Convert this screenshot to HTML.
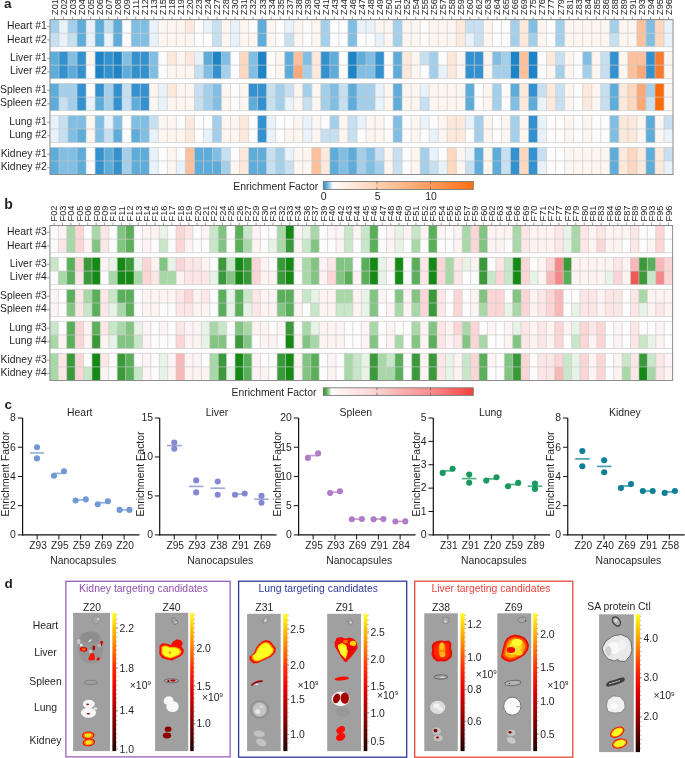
<!DOCTYPE html>
<html><head><meta charset="utf-8"><title>Figure</title>
<style>
html,body{margin:0;padding:0;background:#fff;}
svg{display:block;will-change:transform;}
text{font-family:"Liberation Sans",sans-serif;}
</style></head><body>
<svg width="685" height="758" viewBox="0 0 685 758">
<rect width="685" height="758" fill="#fff"/>
<text x="4.1" y="8.3" font-size="13.5" text-anchor="start" fill="#231f20" font-weight="bold">a</text>
<rect x="49.95" y="19.6" width="9.08" height="13.6" fill="#a4cfea"/>
<rect x="58.98" y="19.6" width="9.08" height="13.6" fill="#e8f2fa"/>
<rect x="68.01" y="19.6" width="9.08" height="13.6" fill="#a4cfea"/>
<rect x="77.04" y="19.6" width="9.08" height="13.6" fill="#5eacda"/>
<rect x="86.07" y="19.6" width="9.08" height="13.6" fill="#e8f2fa"/>
<rect x="95.1" y="19.6" width="9.08" height="13.6" fill="#5eacda"/>
<rect x="104.13" y="19.6" width="9.08" height="13.6" fill="#c6e0f1"/>
<rect x="113.16" y="19.6" width="9.08" height="13.6" fill="#5eacda"/>
<rect x="122.19" y="19.6" width="9.08" height="13.6" fill="#fcfcfc"/>
<rect x="131.22" y="19.6" width="9.08" height="13.6" fill="#80bee3"/>
<rect x="140.25" y="19.6" width="9.08" height="13.6" fill="#80bee3"/>
<rect x="149.28" y="19.6" width="9.08" height="13.6" fill="#e8f2fa"/>
<rect x="158.31" y="19.6" width="9.08" height="13.6" fill="#fdf5f0"/>
<rect x="167.34" y="19.6" width="9.08" height="13.6" fill="#fdf5f0"/>
<rect x="176.37" y="19.6" width="9.08" height="13.6" fill="#fdf5f0"/>
<rect x="185.4" y="19.6" width="9.08" height="13.6" fill="#fde9dc"/>
<rect x="194.43" y="19.6" width="9.08" height="13.6" fill="#fcfcfc"/>
<rect x="203.46" y="19.6" width="9.08" height="13.6" fill="#e8f2fa"/>
<rect x="212.49" y="19.6" width="9.08" height="13.6" fill="#c6e0f1"/>
<rect x="221.52" y="19.6" width="9.08" height="13.6" fill="#fdf5f0"/>
<rect x="230.55" y="19.6" width="9.08" height="13.6" fill="#e8f2fa"/>
<rect x="239.58" y="19.6" width="9.08" height="13.6" fill="#fdf5f0"/>
<rect x="248.61" y="19.6" width="9.08" height="13.6" fill="#fcfcfc"/>
<rect x="257.64" y="19.6" width="9.08" height="13.6" fill="#5eacda"/>
<rect x="266.67" y="19.6" width="9.08" height="13.6" fill="#fdf5f0"/>
<rect x="275.7" y="19.6" width="9.08" height="13.6" fill="#fcfcfc"/>
<rect x="284.73" y="19.6" width="9.08" height="13.6" fill="#e8f2fa"/>
<rect x="293.76" y="19.6" width="9.08" height="13.6" fill="#fdf5f0"/>
<rect x="302.79" y="19.6" width="9.08" height="13.6" fill="#fcfcfc"/>
<rect x="311.82" y="19.6" width="9.08" height="13.6" fill="#fdf5f0"/>
<rect x="320.85" y="19.6" width="9.08" height="13.6" fill="#a4cfea"/>
<rect x="329.88" y="19.6" width="9.08" height="13.6" fill="#fcfcfc"/>
<rect x="338.91" y="19.6" width="9.08" height="13.6" fill="#fcfcfc"/>
<rect x="347.94" y="19.6" width="9.08" height="13.6" fill="#80bee3"/>
<rect x="356.97" y="19.6" width="9.08" height="13.6" fill="#e8f2fa"/>
<rect x="366" y="19.6" width="9.08" height="13.6" fill="#e8f2fa"/>
<rect x="375.03" y="19.6" width="9.08" height="13.6" fill="#fdf5f0"/>
<rect x="384.06" y="19.6" width="9.08" height="13.6" fill="#fdf5f0"/>
<rect x="393.09" y="19.6" width="9.08" height="13.6" fill="#a4cfea"/>
<rect x="402.12" y="19.6" width="9.08" height="13.6" fill="#fdf5f0"/>
<rect x="411.15" y="19.6" width="9.08" height="13.6" fill="#fdf5f0"/>
<rect x="420.18" y="19.6" width="9.08" height="13.6" fill="#fcfcfc"/>
<rect x="429.21" y="19.6" width="9.08" height="13.6" fill="#fdf5f0"/>
<rect x="438.24" y="19.6" width="9.08" height="13.6" fill="#fdf5f0"/>
<rect x="447.27" y="19.6" width="9.08" height="13.6" fill="#fdf5f0"/>
<rect x="456.3" y="19.6" width="9.08" height="13.6" fill="#fde9dc"/>
<rect x="465.33" y="19.6" width="9.08" height="13.6" fill="#c6e0f1"/>
<rect x="474.36" y="19.6" width="9.08" height="13.6" fill="#c6e0f1"/>
<rect x="483.39" y="19.6" width="9.08" height="13.6" fill="#fdf5f0"/>
<rect x="492.42" y="19.6" width="9.08" height="13.6" fill="#fcfcfc"/>
<rect x="501.45" y="19.6" width="9.08" height="13.6" fill="#fcfcfc"/>
<rect x="510.48" y="19.6" width="9.08" height="13.6" fill="#a4cfea"/>
<rect x="519.51" y="19.6" width="9.08" height="13.6" fill="#fde9dc"/>
<rect x="528.54" y="19.6" width="9.08" height="13.6" fill="#80bee3"/>
<rect x="537.57" y="19.6" width="9.08" height="13.6" fill="#fdf5f0"/>
<rect x="546.6" y="19.6" width="9.08" height="13.6" fill="#fcfcfc"/>
<rect x="555.63" y="19.6" width="9.08" height="13.6" fill="#a4cfea"/>
<rect x="564.66" y="19.6" width="9.08" height="13.6" fill="#fdf5f0"/>
<rect x="573.69" y="19.6" width="9.08" height="13.6" fill="#fdf5f0"/>
<rect x="582.72" y="19.6" width="9.08" height="13.6" fill="#fdf5f0"/>
<rect x="591.75" y="19.6" width="9.08" height="13.6" fill="#fdf5f0"/>
<rect x="600.78" y="19.6" width="9.08" height="13.6" fill="#fdf5f0"/>
<rect x="609.81" y="19.6" width="9.08" height="13.6" fill="#a4cfea"/>
<rect x="618.84" y="19.6" width="9.08" height="13.6" fill="#fdf5f0"/>
<rect x="627.87" y="19.6" width="9.08" height="13.6" fill="#fdf5f0"/>
<rect x="636.9" y="19.6" width="9.08" height="13.6" fill="#fcc09c"/>
<rect x="645.93" y="19.6" width="9.08" height="13.6" fill="#80bee3"/>
<rect x="654.96" y="19.6" width="9.08" height="13.6" fill="#fdd8c0"/>
<rect x="663.99" y="19.6" width="9.08" height="13.6" fill="#e8f2fa"/>
<rect x="49.95" y="33.15" width="9.08" height="13.6" fill="#c6e0f1"/>
<rect x="58.98" y="33.15" width="9.08" height="13.6" fill="#e8f2fa"/>
<rect x="68.01" y="33.15" width="9.08" height="13.6" fill="#c6e0f1"/>
<rect x="77.04" y="33.15" width="9.08" height="13.6" fill="#5eacda"/>
<rect x="86.07" y="33.15" width="9.08" height="13.6" fill="#e8f2fa"/>
<rect x="95.1" y="33.15" width="9.08" height="13.6" fill="#5eacda"/>
<rect x="104.13" y="33.15" width="9.08" height="13.6" fill="#e8f2fa"/>
<rect x="113.16" y="33.15" width="9.08" height="13.6" fill="#5eacda"/>
<rect x="122.19" y="33.15" width="9.08" height="13.6" fill="#fcfcfc"/>
<rect x="131.22" y="33.15" width="9.08" height="13.6" fill="#80bee3"/>
<rect x="140.25" y="33.15" width="9.08" height="13.6" fill="#80bee3"/>
<rect x="149.28" y="33.15" width="9.08" height="13.6" fill="#e8f2fa"/>
<rect x="158.31" y="33.15" width="9.08" height="13.6" fill="#fdf5f0"/>
<rect x="167.34" y="33.15" width="9.08" height="13.6" fill="#fdf5f0"/>
<rect x="176.37" y="33.15" width="9.08" height="13.6" fill="#fdf5f0"/>
<rect x="185.4" y="33.15" width="9.08" height="13.6" fill="#fdf5f0"/>
<rect x="194.43" y="33.15" width="9.08" height="13.6" fill="#fcfcfc"/>
<rect x="203.46" y="33.15" width="9.08" height="13.6" fill="#fcfcfc"/>
<rect x="212.49" y="33.15" width="9.08" height="13.6" fill="#c6e0f1"/>
<rect x="221.52" y="33.15" width="9.08" height="13.6" fill="#fdf5f0"/>
<rect x="230.55" y="33.15" width="9.08" height="13.6" fill="#e8f2fa"/>
<rect x="239.58" y="33.15" width="9.08" height="13.6" fill="#fdf5f0"/>
<rect x="248.61" y="33.15" width="9.08" height="13.6" fill="#fdf5f0"/>
<rect x="257.64" y="33.15" width="9.08" height="13.6" fill="#5eacda"/>
<rect x="266.67" y="33.15" width="9.08" height="13.6" fill="#fdf5f0"/>
<rect x="275.7" y="33.15" width="9.08" height="13.6" fill="#fcfcfc"/>
<rect x="284.73" y="33.15" width="9.08" height="13.6" fill="#c6e0f1"/>
<rect x="293.76" y="33.15" width="9.08" height="13.6" fill="#fdf5f0"/>
<rect x="302.79" y="33.15" width="9.08" height="13.6" fill="#fcfcfc"/>
<rect x="311.82" y="33.15" width="9.08" height="13.6" fill="#fdf5f0"/>
<rect x="320.85" y="33.15" width="9.08" height="13.6" fill="#a4cfea"/>
<rect x="329.88" y="33.15" width="9.08" height="13.6" fill="#fcfcfc"/>
<rect x="338.91" y="33.15" width="9.08" height="13.6" fill="#fcfcfc"/>
<rect x="347.94" y="33.15" width="9.08" height="13.6" fill="#80bee3"/>
<rect x="356.97" y="33.15" width="9.08" height="13.6" fill="#fcfcfc"/>
<rect x="366" y="33.15" width="9.08" height="13.6" fill="#fcfcfc"/>
<rect x="375.03" y="33.15" width="9.08" height="13.6" fill="#e8f2fa"/>
<rect x="384.06" y="33.15" width="9.08" height="13.6" fill="#fdf5f0"/>
<rect x="393.09" y="33.15" width="9.08" height="13.6" fill="#a4cfea"/>
<rect x="402.12" y="33.15" width="9.08" height="13.6" fill="#fdf5f0"/>
<rect x="411.15" y="33.15" width="9.08" height="13.6" fill="#fdf5f0"/>
<rect x="420.18" y="33.15" width="9.08" height="13.6" fill="#fcfcfc"/>
<rect x="429.21" y="33.15" width="9.08" height="13.6" fill="#fdf5f0"/>
<rect x="438.24" y="33.15" width="9.08" height="13.6" fill="#fdf5f0"/>
<rect x="447.27" y="33.15" width="9.08" height="13.6" fill="#fdf5f0"/>
<rect x="456.3" y="33.15" width="9.08" height="13.6" fill="#fde9dc"/>
<rect x="465.33" y="33.15" width="9.08" height="13.6" fill="#e8f2fa"/>
<rect x="474.36" y="33.15" width="9.08" height="13.6" fill="#c6e0f1"/>
<rect x="483.39" y="33.15" width="9.08" height="13.6" fill="#fdf5f0"/>
<rect x="492.42" y="33.15" width="9.08" height="13.6" fill="#fcfcfc"/>
<rect x="501.45" y="33.15" width="9.08" height="13.6" fill="#fcfcfc"/>
<rect x="510.48" y="33.15" width="9.08" height="13.6" fill="#a4cfea"/>
<rect x="519.51" y="33.15" width="9.08" height="13.6" fill="#fde9dc"/>
<rect x="528.54" y="33.15" width="9.08" height="13.6" fill="#a4cfea"/>
<rect x="537.57" y="33.15" width="9.08" height="13.6" fill="#fdf5f0"/>
<rect x="546.6" y="33.15" width="9.08" height="13.6" fill="#fcfcfc"/>
<rect x="555.63" y="33.15" width="9.08" height="13.6" fill="#a4cfea"/>
<rect x="564.66" y="33.15" width="9.08" height="13.6" fill="#fdf5f0"/>
<rect x="573.69" y="33.15" width="9.08" height="13.6" fill="#fdf5f0"/>
<rect x="582.72" y="33.15" width="9.08" height="13.6" fill="#fdf5f0"/>
<rect x="591.75" y="33.15" width="9.08" height="13.6" fill="#fdf5f0"/>
<rect x="600.78" y="33.15" width="9.08" height="13.6" fill="#fdf5f0"/>
<rect x="609.81" y="33.15" width="9.08" height="13.6" fill="#c6e0f1"/>
<rect x="618.84" y="33.15" width="9.08" height="13.6" fill="#fdf5f0"/>
<rect x="627.87" y="33.15" width="9.08" height="13.6" fill="#fdf5f0"/>
<rect x="636.9" y="33.15" width="9.08" height="13.6" fill="#fcc09c"/>
<rect x="645.93" y="33.15" width="9.08" height="13.6" fill="#80bee3"/>
<rect x="654.96" y="33.15" width="9.08" height="13.6" fill="#fdd8c0"/>
<rect x="663.99" y="33.15" width="9.08" height="13.6" fill="#e8f2fa"/>
<line x1="58.98" y1="19.6" x2="58.98" y2="46.7" stroke="#c8c8c8" stroke-opacity="0.7" stroke-width="0.9"/>
<line x1="68.01" y1="19.6" x2="68.01" y2="46.7" stroke="#c8c8c8" stroke-opacity="0.7" stroke-width="0.9"/>
<line x1="77.04" y1="19.6" x2="77.04" y2="46.7" stroke="#c8c8c8" stroke-opacity="0.7" stroke-width="0.9"/>
<line x1="86.07" y1="19.6" x2="86.07" y2="46.7" stroke="#c8c8c8" stroke-opacity="0.7" stroke-width="0.9"/>
<line x1="95.1" y1="19.6" x2="95.1" y2="46.7" stroke="#c8c8c8" stroke-opacity="0.7" stroke-width="0.9"/>
<line x1="104.13" y1="19.6" x2="104.13" y2="46.7" stroke="#c8c8c8" stroke-opacity="0.7" stroke-width="0.9"/>
<line x1="113.16" y1="19.6" x2="113.16" y2="46.7" stroke="#c8c8c8" stroke-opacity="0.7" stroke-width="0.9"/>
<line x1="122.19" y1="19.6" x2="122.19" y2="46.7" stroke="#c8c8c8" stroke-opacity="0.7" stroke-width="0.9"/>
<line x1="131.22" y1="19.6" x2="131.22" y2="46.7" stroke="#c8c8c8" stroke-opacity="0.7" stroke-width="0.9"/>
<line x1="140.25" y1="19.6" x2="140.25" y2="46.7" stroke="#c8c8c8" stroke-opacity="0.7" stroke-width="0.9"/>
<line x1="149.28" y1="19.6" x2="149.28" y2="46.7" stroke="#c8c8c8" stroke-opacity="0.7" stroke-width="0.9"/>
<line x1="158.31" y1="19.6" x2="158.31" y2="46.7" stroke="#c8c8c8" stroke-opacity="0.7" stroke-width="0.9"/>
<line x1="167.34" y1="19.6" x2="167.34" y2="46.7" stroke="#c8c8c8" stroke-opacity="0.7" stroke-width="0.9"/>
<line x1="176.37" y1="19.6" x2="176.37" y2="46.7" stroke="#c8c8c8" stroke-opacity="0.7" stroke-width="0.9"/>
<line x1="185.4" y1="19.6" x2="185.4" y2="46.7" stroke="#c8c8c8" stroke-opacity="0.7" stroke-width="0.9"/>
<line x1="194.43" y1="19.6" x2="194.43" y2="46.7" stroke="#c8c8c8" stroke-opacity="0.7" stroke-width="0.9"/>
<line x1="203.46" y1="19.6" x2="203.46" y2="46.7" stroke="#c8c8c8" stroke-opacity="0.7" stroke-width="0.9"/>
<line x1="212.49" y1="19.6" x2="212.49" y2="46.7" stroke="#c8c8c8" stroke-opacity="0.7" stroke-width="0.9"/>
<line x1="221.52" y1="19.6" x2="221.52" y2="46.7" stroke="#c8c8c8" stroke-opacity="0.7" stroke-width="0.9"/>
<line x1="230.55" y1="19.6" x2="230.55" y2="46.7" stroke="#c8c8c8" stroke-opacity="0.7" stroke-width="0.9"/>
<line x1="239.58" y1="19.6" x2="239.58" y2="46.7" stroke="#c8c8c8" stroke-opacity="0.7" stroke-width="0.9"/>
<line x1="248.61" y1="19.6" x2="248.61" y2="46.7" stroke="#c8c8c8" stroke-opacity="0.7" stroke-width="0.9"/>
<line x1="257.64" y1="19.6" x2="257.64" y2="46.7" stroke="#c8c8c8" stroke-opacity="0.7" stroke-width="0.9"/>
<line x1="266.67" y1="19.6" x2="266.67" y2="46.7" stroke="#c8c8c8" stroke-opacity="0.7" stroke-width="0.9"/>
<line x1="275.7" y1="19.6" x2="275.7" y2="46.7" stroke="#c8c8c8" stroke-opacity="0.7" stroke-width="0.9"/>
<line x1="284.73" y1="19.6" x2="284.73" y2="46.7" stroke="#c8c8c8" stroke-opacity="0.7" stroke-width="0.9"/>
<line x1="293.76" y1="19.6" x2="293.76" y2="46.7" stroke="#c8c8c8" stroke-opacity="0.7" stroke-width="0.9"/>
<line x1="302.79" y1="19.6" x2="302.79" y2="46.7" stroke="#c8c8c8" stroke-opacity="0.7" stroke-width="0.9"/>
<line x1="311.82" y1="19.6" x2="311.82" y2="46.7" stroke="#c8c8c8" stroke-opacity="0.7" stroke-width="0.9"/>
<line x1="320.85" y1="19.6" x2="320.85" y2="46.7" stroke="#c8c8c8" stroke-opacity="0.7" stroke-width="0.9"/>
<line x1="329.88" y1="19.6" x2="329.88" y2="46.7" stroke="#c8c8c8" stroke-opacity="0.7" stroke-width="0.9"/>
<line x1="338.91" y1="19.6" x2="338.91" y2="46.7" stroke="#c8c8c8" stroke-opacity="0.7" stroke-width="0.9"/>
<line x1="347.94" y1="19.6" x2="347.94" y2="46.7" stroke="#c8c8c8" stroke-opacity="0.7" stroke-width="0.9"/>
<line x1="356.97" y1="19.6" x2="356.97" y2="46.7" stroke="#c8c8c8" stroke-opacity="0.7" stroke-width="0.9"/>
<line x1="366" y1="19.6" x2="366" y2="46.7" stroke="#c8c8c8" stroke-opacity="0.7" stroke-width="0.9"/>
<line x1="375.03" y1="19.6" x2="375.03" y2="46.7" stroke="#c8c8c8" stroke-opacity="0.7" stroke-width="0.9"/>
<line x1="384.06" y1="19.6" x2="384.06" y2="46.7" stroke="#c8c8c8" stroke-opacity="0.7" stroke-width="0.9"/>
<line x1="393.09" y1="19.6" x2="393.09" y2="46.7" stroke="#c8c8c8" stroke-opacity="0.7" stroke-width="0.9"/>
<line x1="402.12" y1="19.6" x2="402.12" y2="46.7" stroke="#c8c8c8" stroke-opacity="0.7" stroke-width="0.9"/>
<line x1="411.15" y1="19.6" x2="411.15" y2="46.7" stroke="#c8c8c8" stroke-opacity="0.7" stroke-width="0.9"/>
<line x1="420.18" y1="19.6" x2="420.18" y2="46.7" stroke="#c8c8c8" stroke-opacity="0.7" stroke-width="0.9"/>
<line x1="429.21" y1="19.6" x2="429.21" y2="46.7" stroke="#c8c8c8" stroke-opacity="0.7" stroke-width="0.9"/>
<line x1="438.24" y1="19.6" x2="438.24" y2="46.7" stroke="#c8c8c8" stroke-opacity="0.7" stroke-width="0.9"/>
<line x1="447.27" y1="19.6" x2="447.27" y2="46.7" stroke="#c8c8c8" stroke-opacity="0.7" stroke-width="0.9"/>
<line x1="456.3" y1="19.6" x2="456.3" y2="46.7" stroke="#c8c8c8" stroke-opacity="0.7" stroke-width="0.9"/>
<line x1="465.33" y1="19.6" x2="465.33" y2="46.7" stroke="#c8c8c8" stroke-opacity="0.7" stroke-width="0.9"/>
<line x1="474.36" y1="19.6" x2="474.36" y2="46.7" stroke="#c8c8c8" stroke-opacity="0.7" stroke-width="0.9"/>
<line x1="483.39" y1="19.6" x2="483.39" y2="46.7" stroke="#c8c8c8" stroke-opacity="0.7" stroke-width="0.9"/>
<line x1="492.42" y1="19.6" x2="492.42" y2="46.7" stroke="#c8c8c8" stroke-opacity="0.7" stroke-width="0.9"/>
<line x1="501.45" y1="19.6" x2="501.45" y2="46.7" stroke="#c8c8c8" stroke-opacity="0.7" stroke-width="0.9"/>
<line x1="510.48" y1="19.6" x2="510.48" y2="46.7" stroke="#c8c8c8" stroke-opacity="0.7" stroke-width="0.9"/>
<line x1="519.51" y1="19.6" x2="519.51" y2="46.7" stroke="#c8c8c8" stroke-opacity="0.7" stroke-width="0.9"/>
<line x1="528.54" y1="19.6" x2="528.54" y2="46.7" stroke="#c8c8c8" stroke-opacity="0.7" stroke-width="0.9"/>
<line x1="537.57" y1="19.6" x2="537.57" y2="46.7" stroke="#c8c8c8" stroke-opacity="0.7" stroke-width="0.9"/>
<line x1="546.6" y1="19.6" x2="546.6" y2="46.7" stroke="#c8c8c8" stroke-opacity="0.7" stroke-width="0.9"/>
<line x1="555.63" y1="19.6" x2="555.63" y2="46.7" stroke="#c8c8c8" stroke-opacity="0.7" stroke-width="0.9"/>
<line x1="564.66" y1="19.6" x2="564.66" y2="46.7" stroke="#c8c8c8" stroke-opacity="0.7" stroke-width="0.9"/>
<line x1="573.69" y1="19.6" x2="573.69" y2="46.7" stroke="#c8c8c8" stroke-opacity="0.7" stroke-width="0.9"/>
<line x1="582.72" y1="19.6" x2="582.72" y2="46.7" stroke="#c8c8c8" stroke-opacity="0.7" stroke-width="0.9"/>
<line x1="591.75" y1="19.6" x2="591.75" y2="46.7" stroke="#c8c8c8" stroke-opacity="0.7" stroke-width="0.9"/>
<line x1="600.78" y1="19.6" x2="600.78" y2="46.7" stroke="#c8c8c8" stroke-opacity="0.7" stroke-width="0.9"/>
<line x1="609.81" y1="19.6" x2="609.81" y2="46.7" stroke="#c8c8c8" stroke-opacity="0.7" stroke-width="0.9"/>
<line x1="618.84" y1="19.6" x2="618.84" y2="46.7" stroke="#c8c8c8" stroke-opacity="0.7" stroke-width="0.9"/>
<line x1="627.87" y1="19.6" x2="627.87" y2="46.7" stroke="#c8c8c8" stroke-opacity="0.7" stroke-width="0.9"/>
<line x1="636.9" y1="19.6" x2="636.9" y2="46.7" stroke="#c8c8c8" stroke-opacity="0.7" stroke-width="0.9"/>
<line x1="645.93" y1="19.6" x2="645.93" y2="46.7" stroke="#c8c8c8" stroke-opacity="0.7" stroke-width="0.9"/>
<line x1="654.96" y1="19.6" x2="654.96" y2="46.7" stroke="#c8c8c8" stroke-opacity="0.7" stroke-width="0.9"/>
<line x1="663.99" y1="19.6" x2="663.99" y2="46.7" stroke="#c8c8c8" stroke-opacity="0.7" stroke-width="0.9"/>
<line x1="49.95" y1="19.6" x2="673.02" y2="19.6" stroke="#c8c8c8" stroke-opacity="0.7" stroke-width="0.9"/>
<line x1="49.95" y1="33.15" x2="673.02" y2="33.15" stroke="#c8c8c8" stroke-opacity="0.7" stroke-width="0.9"/>
<line x1="49.95" y1="46.7" x2="673.02" y2="46.7" stroke="#c8c8c8" stroke-opacity="0.7" stroke-width="0.9"/>
<rect x="49.95" y="51.55" width="9.08" height="13.6" fill="#5eacda"/>
<rect x="58.98" y="51.55" width="9.08" height="13.6" fill="#3291ce"/>
<rect x="68.01" y="51.55" width="9.08" height="13.6" fill="#80bee3"/>
<rect x="77.04" y="51.55" width="9.08" height="13.6" fill="#3291ce"/>
<rect x="86.07" y="51.55" width="9.08" height="13.6" fill="#fdf5f0"/>
<rect x="95.1" y="51.55" width="9.08" height="13.6" fill="#1c84c7"/>
<rect x="104.13" y="51.55" width="9.08" height="13.6" fill="#3291ce"/>
<rect x="113.16" y="51.55" width="9.08" height="13.6" fill="#1c84c7"/>
<rect x="122.19" y="51.55" width="9.08" height="13.6" fill="#80bee3"/>
<rect x="131.22" y="51.55" width="9.08" height="13.6" fill="#3291ce"/>
<rect x="140.25" y="51.55" width="9.08" height="13.6" fill="#3291ce"/>
<rect x="149.28" y="51.55" width="9.08" height="13.6" fill="#80bee3"/>
<rect x="158.31" y="51.55" width="9.08" height="13.6" fill="#fcfcfc"/>
<rect x="167.34" y="51.55" width="9.08" height="13.6" fill="#fde9dc"/>
<rect x="176.37" y="51.55" width="9.08" height="13.6" fill="#fdf5f0"/>
<rect x="185.4" y="51.55" width="9.08" height="13.6" fill="#fde9dc"/>
<rect x="194.43" y="51.55" width="9.08" height="13.6" fill="#e8f2fa"/>
<rect x="203.46" y="51.55" width="9.08" height="13.6" fill="#5eacda"/>
<rect x="212.49" y="51.55" width="9.08" height="13.6" fill="#1c84c7"/>
<rect x="221.52" y="51.55" width="9.08" height="13.6" fill="#80bee3"/>
<rect x="230.55" y="51.55" width="9.08" height="13.6" fill="#fcfcfc"/>
<rect x="239.58" y="51.55" width="9.08" height="13.6" fill="#fdd8c0"/>
<rect x="248.61" y="51.55" width="9.08" height="13.6" fill="#80bee3"/>
<rect x="257.64" y="51.55" width="9.08" height="13.6" fill="#1c84c7"/>
<rect x="266.67" y="51.55" width="9.08" height="13.6" fill="#fcfcfc"/>
<rect x="275.7" y="51.55" width="9.08" height="13.6" fill="#fdf5f0"/>
<rect x="284.73" y="51.55" width="9.08" height="13.6" fill="#5eacda"/>
<rect x="293.76" y="51.55" width="9.08" height="13.6" fill="#fcc09c"/>
<rect x="302.79" y="51.55" width="9.08" height="13.6" fill="#80bee3"/>
<rect x="311.82" y="51.55" width="9.08" height="13.6" fill="#fde9dc"/>
<rect x="320.85" y="51.55" width="9.08" height="13.6" fill="#3291ce"/>
<rect x="329.88" y="51.55" width="9.08" height="13.6" fill="#5eacda"/>
<rect x="338.91" y="51.55" width="9.08" height="13.6" fill="#fcfcfc"/>
<rect x="347.94" y="51.55" width="9.08" height="13.6" fill="#1c84c7"/>
<rect x="356.97" y="51.55" width="9.08" height="13.6" fill="#5eacda"/>
<rect x="366" y="51.55" width="9.08" height="13.6" fill="#80bee3"/>
<rect x="375.03" y="51.55" width="9.08" height="13.6" fill="#3291ce"/>
<rect x="384.06" y="51.55" width="9.08" height="13.6" fill="#fcfcfc"/>
<rect x="393.09" y="51.55" width="9.08" height="13.6" fill="#5eacda"/>
<rect x="402.12" y="51.55" width="9.08" height="13.6" fill="#fde9dc"/>
<rect x="411.15" y="51.55" width="9.08" height="13.6" fill="#fdf5f0"/>
<rect x="420.18" y="51.55" width="9.08" height="13.6" fill="#c6e0f1"/>
<rect x="429.21" y="51.55" width="9.08" height="13.6" fill="#a4cfea"/>
<rect x="438.24" y="51.55" width="9.08" height="13.6" fill="#fcfcfc"/>
<rect x="447.27" y="51.55" width="9.08" height="13.6" fill="#fde9dc"/>
<rect x="456.3" y="51.55" width="9.08" height="13.6" fill="#fdf5f0"/>
<rect x="465.33" y="51.55" width="9.08" height="13.6" fill="#3291ce"/>
<rect x="474.36" y="51.55" width="9.08" height="13.6" fill="#3291ce"/>
<rect x="483.39" y="51.55" width="9.08" height="13.6" fill="#fdf5f0"/>
<rect x="492.42" y="51.55" width="9.08" height="13.6" fill="#80bee3"/>
<rect x="501.45" y="51.55" width="9.08" height="13.6" fill="#a4cfea"/>
<rect x="510.48" y="51.55" width="9.08" height="13.6" fill="#1c84c7"/>
<rect x="519.51" y="51.55" width="9.08" height="13.6" fill="#fcc09c"/>
<rect x="528.54" y="51.55" width="9.08" height="13.6" fill="#1c84c7"/>
<rect x="537.57" y="51.55" width="9.08" height="13.6" fill="#fcfcfc"/>
<rect x="546.6" y="51.55" width="9.08" height="13.6" fill="#fde9dc"/>
<rect x="555.63" y="51.55" width="9.08" height="13.6" fill="#c6e0f1"/>
<rect x="564.66" y="51.55" width="9.08" height="13.6" fill="#fdf5f0"/>
<rect x="573.69" y="51.55" width="9.08" height="13.6" fill="#fcfcfc"/>
<rect x="582.72" y="51.55" width="9.08" height="13.6" fill="#80bee3"/>
<rect x="591.75" y="51.55" width="9.08" height="13.6" fill="#fdf5f0"/>
<rect x="600.78" y="51.55" width="9.08" height="13.6" fill="#c6e0f1"/>
<rect x="609.81" y="51.55" width="9.08" height="13.6" fill="#3291ce"/>
<rect x="618.84" y="51.55" width="9.08" height="13.6" fill="#fdf5f0"/>
<rect x="627.87" y="51.55" width="9.08" height="13.6" fill="#fcc09c"/>
<rect x="636.9" y="51.55" width="9.08" height="13.6" fill="#fcc09c"/>
<rect x="645.93" y="51.55" width="9.08" height="13.6" fill="#3291ce"/>
<rect x="654.96" y="51.55" width="9.08" height="13.6" fill="#f77c30"/>
<rect x="663.99" y="51.55" width="9.08" height="13.6" fill="#fdf5f0"/>
<rect x="49.95" y="65.1" width="9.08" height="13.6" fill="#5eacda"/>
<rect x="58.98" y="65.1" width="9.08" height="13.6" fill="#3291ce"/>
<rect x="68.01" y="65.1" width="9.08" height="13.6" fill="#5eacda"/>
<rect x="77.04" y="65.1" width="9.08" height="13.6" fill="#3291ce"/>
<rect x="86.07" y="65.1" width="9.08" height="13.6" fill="#fcfcfc"/>
<rect x="95.1" y="65.1" width="9.08" height="13.6" fill="#1c84c7"/>
<rect x="104.13" y="65.1" width="9.08" height="13.6" fill="#3291ce"/>
<rect x="113.16" y="65.1" width="9.08" height="13.6" fill="#1c84c7"/>
<rect x="122.19" y="65.1" width="9.08" height="13.6" fill="#5eacda"/>
<rect x="131.22" y="65.1" width="9.08" height="13.6" fill="#3291ce"/>
<rect x="140.25" y="65.1" width="9.08" height="13.6" fill="#3291ce"/>
<rect x="149.28" y="65.1" width="9.08" height="13.6" fill="#80bee3"/>
<rect x="158.31" y="65.1" width="9.08" height="13.6" fill="#fcfcfc"/>
<rect x="167.34" y="65.1" width="9.08" height="13.6" fill="#fdf5f0"/>
<rect x="176.37" y="65.1" width="9.08" height="13.6" fill="#fdf5f0"/>
<rect x="185.4" y="65.1" width="9.08" height="13.6" fill="#fdf5f0"/>
<rect x="194.43" y="65.1" width="9.08" height="13.6" fill="#c6e0f1"/>
<rect x="203.46" y="65.1" width="9.08" height="13.6" fill="#80bee3"/>
<rect x="212.49" y="65.1" width="9.08" height="13.6" fill="#3291ce"/>
<rect x="221.52" y="65.1" width="9.08" height="13.6" fill="#a4cfea"/>
<rect x="230.55" y="65.1" width="9.08" height="13.6" fill="#fcfcfc"/>
<rect x="239.58" y="65.1" width="9.08" height="13.6" fill="#fdd8c0"/>
<rect x="248.61" y="65.1" width="9.08" height="13.6" fill="#80bee3"/>
<rect x="257.64" y="65.1" width="9.08" height="13.6" fill="#1c84c7"/>
<rect x="266.67" y="65.1" width="9.08" height="13.6" fill="#fcfcfc"/>
<rect x="275.7" y="65.1" width="9.08" height="13.6" fill="#fdf5f0"/>
<rect x="284.73" y="65.1" width="9.08" height="13.6" fill="#5eacda"/>
<rect x="293.76" y="65.1" width="9.08" height="13.6" fill="#fba878"/>
<rect x="302.79" y="65.1" width="9.08" height="13.6" fill="#a4cfea"/>
<rect x="311.82" y="65.1" width="9.08" height="13.6" fill="#fde9dc"/>
<rect x="320.85" y="65.1" width="9.08" height="13.6" fill="#3291ce"/>
<rect x="329.88" y="65.1" width="9.08" height="13.6" fill="#5eacda"/>
<rect x="338.91" y="65.1" width="9.08" height="13.6" fill="#fcfcfc"/>
<rect x="347.94" y="65.1" width="9.08" height="13.6" fill="#1c84c7"/>
<rect x="356.97" y="65.1" width="9.08" height="13.6" fill="#80bee3"/>
<rect x="366" y="65.1" width="9.08" height="13.6" fill="#80bee3"/>
<rect x="375.03" y="65.1" width="9.08" height="13.6" fill="#3291ce"/>
<rect x="384.06" y="65.1" width="9.08" height="13.6" fill="#fcfcfc"/>
<rect x="393.09" y="65.1" width="9.08" height="13.6" fill="#5eacda"/>
<rect x="402.12" y="65.1" width="9.08" height="13.6" fill="#fde9dc"/>
<rect x="411.15" y="65.1" width="9.08" height="13.6" fill="#fdf5f0"/>
<rect x="420.18" y="65.1" width="9.08" height="13.6" fill="#fcfcfc"/>
<rect x="429.21" y="65.1" width="9.08" height="13.6" fill="#a4cfea"/>
<rect x="438.24" y="65.1" width="9.08" height="13.6" fill="#e8f2fa"/>
<rect x="447.27" y="65.1" width="9.08" height="13.6" fill="#fde9dc"/>
<rect x="456.3" y="65.1" width="9.08" height="13.6" fill="#fdf5f0"/>
<rect x="465.33" y="65.1" width="9.08" height="13.6" fill="#3291ce"/>
<rect x="474.36" y="65.1" width="9.08" height="13.6" fill="#3291ce"/>
<rect x="483.39" y="65.1" width="9.08" height="13.6" fill="#fdf5f0"/>
<rect x="492.42" y="65.1" width="9.08" height="13.6" fill="#a4cfea"/>
<rect x="501.45" y="65.1" width="9.08" height="13.6" fill="#a4cfea"/>
<rect x="510.48" y="65.1" width="9.08" height="13.6" fill="#1c84c7"/>
<rect x="519.51" y="65.1" width="9.08" height="13.6" fill="#fcc09c"/>
<rect x="528.54" y="65.1" width="9.08" height="13.6" fill="#1c84c7"/>
<rect x="537.57" y="65.1" width="9.08" height="13.6" fill="#fcfcfc"/>
<rect x="546.6" y="65.1" width="9.08" height="13.6" fill="#fdf5f0"/>
<rect x="555.63" y="65.1" width="9.08" height="13.6" fill="#a4cfea"/>
<rect x="564.66" y="65.1" width="9.08" height="13.6" fill="#fdf5f0"/>
<rect x="573.69" y="65.1" width="9.08" height="13.6" fill="#fcfcfc"/>
<rect x="582.72" y="65.1" width="9.08" height="13.6" fill="#a4cfea"/>
<rect x="591.75" y="65.1" width="9.08" height="13.6" fill="#fdf5f0"/>
<rect x="600.78" y="65.1" width="9.08" height="13.6" fill="#c6e0f1"/>
<rect x="609.81" y="65.1" width="9.08" height="13.6" fill="#3291ce"/>
<rect x="618.84" y="65.1" width="9.08" height="13.6" fill="#fdf5f0"/>
<rect x="627.87" y="65.1" width="9.08" height="13.6" fill="#fcc09c"/>
<rect x="636.9" y="65.1" width="9.08" height="13.6" fill="#fba878"/>
<rect x="645.93" y="65.1" width="9.08" height="13.6" fill="#3291ce"/>
<rect x="654.96" y="65.1" width="9.08" height="13.6" fill="#f77c30"/>
<rect x="663.99" y="65.1" width="9.08" height="13.6" fill="#fdf5f0"/>
<line x1="58.98" y1="51.55" x2="58.98" y2="78.65" stroke="#c8c8c8" stroke-opacity="0.7" stroke-width="0.9"/>
<line x1="68.01" y1="51.55" x2="68.01" y2="78.65" stroke="#c8c8c8" stroke-opacity="0.7" stroke-width="0.9"/>
<line x1="77.04" y1="51.55" x2="77.04" y2="78.65" stroke="#c8c8c8" stroke-opacity="0.7" stroke-width="0.9"/>
<line x1="86.07" y1="51.55" x2="86.07" y2="78.65" stroke="#c8c8c8" stroke-opacity="0.7" stroke-width="0.9"/>
<line x1="95.1" y1="51.55" x2="95.1" y2="78.65" stroke="#c8c8c8" stroke-opacity="0.7" stroke-width="0.9"/>
<line x1="104.13" y1="51.55" x2="104.13" y2="78.65" stroke="#c8c8c8" stroke-opacity="0.7" stroke-width="0.9"/>
<line x1="113.16" y1="51.55" x2="113.16" y2="78.65" stroke="#c8c8c8" stroke-opacity="0.7" stroke-width="0.9"/>
<line x1="122.19" y1="51.55" x2="122.19" y2="78.65" stroke="#c8c8c8" stroke-opacity="0.7" stroke-width="0.9"/>
<line x1="131.22" y1="51.55" x2="131.22" y2="78.65" stroke="#c8c8c8" stroke-opacity="0.7" stroke-width="0.9"/>
<line x1="140.25" y1="51.55" x2="140.25" y2="78.65" stroke="#c8c8c8" stroke-opacity="0.7" stroke-width="0.9"/>
<line x1="149.28" y1="51.55" x2="149.28" y2="78.65" stroke="#c8c8c8" stroke-opacity="0.7" stroke-width="0.9"/>
<line x1="158.31" y1="51.55" x2="158.31" y2="78.65" stroke="#c8c8c8" stroke-opacity="0.7" stroke-width="0.9"/>
<line x1="167.34" y1="51.55" x2="167.34" y2="78.65" stroke="#c8c8c8" stroke-opacity="0.7" stroke-width="0.9"/>
<line x1="176.37" y1="51.55" x2="176.37" y2="78.65" stroke="#c8c8c8" stroke-opacity="0.7" stroke-width="0.9"/>
<line x1="185.4" y1="51.55" x2="185.4" y2="78.65" stroke="#c8c8c8" stroke-opacity="0.7" stroke-width="0.9"/>
<line x1="194.43" y1="51.55" x2="194.43" y2="78.65" stroke="#c8c8c8" stroke-opacity="0.7" stroke-width="0.9"/>
<line x1="203.46" y1="51.55" x2="203.46" y2="78.65" stroke="#c8c8c8" stroke-opacity="0.7" stroke-width="0.9"/>
<line x1="212.49" y1="51.55" x2="212.49" y2="78.65" stroke="#c8c8c8" stroke-opacity="0.7" stroke-width="0.9"/>
<line x1="221.52" y1="51.55" x2="221.52" y2="78.65" stroke="#c8c8c8" stroke-opacity="0.7" stroke-width="0.9"/>
<line x1="230.55" y1="51.55" x2="230.55" y2="78.65" stroke="#c8c8c8" stroke-opacity="0.7" stroke-width="0.9"/>
<line x1="239.58" y1="51.55" x2="239.58" y2="78.65" stroke="#c8c8c8" stroke-opacity="0.7" stroke-width="0.9"/>
<line x1="248.61" y1="51.55" x2="248.61" y2="78.65" stroke="#c8c8c8" stroke-opacity="0.7" stroke-width="0.9"/>
<line x1="257.64" y1="51.55" x2="257.64" y2="78.65" stroke="#c8c8c8" stroke-opacity="0.7" stroke-width="0.9"/>
<line x1="266.67" y1="51.55" x2="266.67" y2="78.65" stroke="#c8c8c8" stroke-opacity="0.7" stroke-width="0.9"/>
<line x1="275.7" y1="51.55" x2="275.7" y2="78.65" stroke="#c8c8c8" stroke-opacity="0.7" stroke-width="0.9"/>
<line x1="284.73" y1="51.55" x2="284.73" y2="78.65" stroke="#c8c8c8" stroke-opacity="0.7" stroke-width="0.9"/>
<line x1="293.76" y1="51.55" x2="293.76" y2="78.65" stroke="#c8c8c8" stroke-opacity="0.7" stroke-width="0.9"/>
<line x1="302.79" y1="51.55" x2="302.79" y2="78.65" stroke="#c8c8c8" stroke-opacity="0.7" stroke-width="0.9"/>
<line x1="311.82" y1="51.55" x2="311.82" y2="78.65" stroke="#c8c8c8" stroke-opacity="0.7" stroke-width="0.9"/>
<line x1="320.85" y1="51.55" x2="320.85" y2="78.65" stroke="#c8c8c8" stroke-opacity="0.7" stroke-width="0.9"/>
<line x1="329.88" y1="51.55" x2="329.88" y2="78.65" stroke="#c8c8c8" stroke-opacity="0.7" stroke-width="0.9"/>
<line x1="338.91" y1="51.55" x2="338.91" y2="78.65" stroke="#c8c8c8" stroke-opacity="0.7" stroke-width="0.9"/>
<line x1="347.94" y1="51.55" x2="347.94" y2="78.65" stroke="#c8c8c8" stroke-opacity="0.7" stroke-width="0.9"/>
<line x1="356.97" y1="51.55" x2="356.97" y2="78.65" stroke="#c8c8c8" stroke-opacity="0.7" stroke-width="0.9"/>
<line x1="366" y1="51.55" x2="366" y2="78.65" stroke="#c8c8c8" stroke-opacity="0.7" stroke-width="0.9"/>
<line x1="375.03" y1="51.55" x2="375.03" y2="78.65" stroke="#c8c8c8" stroke-opacity="0.7" stroke-width="0.9"/>
<line x1="384.06" y1="51.55" x2="384.06" y2="78.65" stroke="#c8c8c8" stroke-opacity="0.7" stroke-width="0.9"/>
<line x1="393.09" y1="51.55" x2="393.09" y2="78.65" stroke="#c8c8c8" stroke-opacity="0.7" stroke-width="0.9"/>
<line x1="402.12" y1="51.55" x2="402.12" y2="78.65" stroke="#c8c8c8" stroke-opacity="0.7" stroke-width="0.9"/>
<line x1="411.15" y1="51.55" x2="411.15" y2="78.65" stroke="#c8c8c8" stroke-opacity="0.7" stroke-width="0.9"/>
<line x1="420.18" y1="51.55" x2="420.18" y2="78.65" stroke="#c8c8c8" stroke-opacity="0.7" stroke-width="0.9"/>
<line x1="429.21" y1="51.55" x2="429.21" y2="78.65" stroke="#c8c8c8" stroke-opacity="0.7" stroke-width="0.9"/>
<line x1="438.24" y1="51.55" x2="438.24" y2="78.65" stroke="#c8c8c8" stroke-opacity="0.7" stroke-width="0.9"/>
<line x1="447.27" y1="51.55" x2="447.27" y2="78.65" stroke="#c8c8c8" stroke-opacity="0.7" stroke-width="0.9"/>
<line x1="456.3" y1="51.55" x2="456.3" y2="78.65" stroke="#c8c8c8" stroke-opacity="0.7" stroke-width="0.9"/>
<line x1="465.33" y1="51.55" x2="465.33" y2="78.65" stroke="#c8c8c8" stroke-opacity="0.7" stroke-width="0.9"/>
<line x1="474.36" y1="51.55" x2="474.36" y2="78.65" stroke="#c8c8c8" stroke-opacity="0.7" stroke-width="0.9"/>
<line x1="483.39" y1="51.55" x2="483.39" y2="78.65" stroke="#c8c8c8" stroke-opacity="0.7" stroke-width="0.9"/>
<line x1="492.42" y1="51.55" x2="492.42" y2="78.65" stroke="#c8c8c8" stroke-opacity="0.7" stroke-width="0.9"/>
<line x1="501.45" y1="51.55" x2="501.45" y2="78.65" stroke="#c8c8c8" stroke-opacity="0.7" stroke-width="0.9"/>
<line x1="510.48" y1="51.55" x2="510.48" y2="78.65" stroke="#c8c8c8" stroke-opacity="0.7" stroke-width="0.9"/>
<line x1="519.51" y1="51.55" x2="519.51" y2="78.65" stroke="#c8c8c8" stroke-opacity="0.7" stroke-width="0.9"/>
<line x1="528.54" y1="51.55" x2="528.54" y2="78.65" stroke="#c8c8c8" stroke-opacity="0.7" stroke-width="0.9"/>
<line x1="537.57" y1="51.55" x2="537.57" y2="78.65" stroke="#c8c8c8" stroke-opacity="0.7" stroke-width="0.9"/>
<line x1="546.6" y1="51.55" x2="546.6" y2="78.65" stroke="#c8c8c8" stroke-opacity="0.7" stroke-width="0.9"/>
<line x1="555.63" y1="51.55" x2="555.63" y2="78.65" stroke="#c8c8c8" stroke-opacity="0.7" stroke-width="0.9"/>
<line x1="564.66" y1="51.55" x2="564.66" y2="78.65" stroke="#c8c8c8" stroke-opacity="0.7" stroke-width="0.9"/>
<line x1="573.69" y1="51.55" x2="573.69" y2="78.65" stroke="#c8c8c8" stroke-opacity="0.7" stroke-width="0.9"/>
<line x1="582.72" y1="51.55" x2="582.72" y2="78.65" stroke="#c8c8c8" stroke-opacity="0.7" stroke-width="0.9"/>
<line x1="591.75" y1="51.55" x2="591.75" y2="78.65" stroke="#c8c8c8" stroke-opacity="0.7" stroke-width="0.9"/>
<line x1="600.78" y1="51.55" x2="600.78" y2="78.65" stroke="#c8c8c8" stroke-opacity="0.7" stroke-width="0.9"/>
<line x1="609.81" y1="51.55" x2="609.81" y2="78.65" stroke="#c8c8c8" stroke-opacity="0.7" stroke-width="0.9"/>
<line x1="618.84" y1="51.55" x2="618.84" y2="78.65" stroke="#c8c8c8" stroke-opacity="0.7" stroke-width="0.9"/>
<line x1="627.87" y1="51.55" x2="627.87" y2="78.65" stroke="#c8c8c8" stroke-opacity="0.7" stroke-width="0.9"/>
<line x1="636.9" y1="51.55" x2="636.9" y2="78.65" stroke="#c8c8c8" stroke-opacity="0.7" stroke-width="0.9"/>
<line x1="645.93" y1="51.55" x2="645.93" y2="78.65" stroke="#c8c8c8" stroke-opacity="0.7" stroke-width="0.9"/>
<line x1="654.96" y1="51.55" x2="654.96" y2="78.65" stroke="#c8c8c8" stroke-opacity="0.7" stroke-width="0.9"/>
<line x1="663.99" y1="51.55" x2="663.99" y2="78.65" stroke="#c8c8c8" stroke-opacity="0.7" stroke-width="0.9"/>
<line x1="49.95" y1="51.55" x2="673.02" y2="51.55" stroke="#c8c8c8" stroke-opacity="0.7" stroke-width="0.9"/>
<line x1="49.95" y1="65.1" x2="673.02" y2="65.1" stroke="#c8c8c8" stroke-opacity="0.7" stroke-width="0.9"/>
<line x1="49.95" y1="78.65" x2="673.02" y2="78.65" stroke="#c8c8c8" stroke-opacity="0.7" stroke-width="0.9"/>
<rect x="49.95" y="83.5" width="9.08" height="13.6" fill="#5eacda"/>
<rect x="58.98" y="83.5" width="9.08" height="13.6" fill="#a4cfea"/>
<rect x="68.01" y="83.5" width="9.08" height="13.6" fill="#a4cfea"/>
<rect x="77.04" y="83.5" width="9.08" height="13.6" fill="#3291ce"/>
<rect x="86.07" y="83.5" width="9.08" height="13.6" fill="#fcfcfc"/>
<rect x="95.1" y="83.5" width="9.08" height="13.6" fill="#3291ce"/>
<rect x="104.13" y="83.5" width="9.08" height="13.6" fill="#a4cfea"/>
<rect x="113.16" y="83.5" width="9.08" height="13.6" fill="#3291ce"/>
<rect x="122.19" y="83.5" width="9.08" height="13.6" fill="#c6e0f1"/>
<rect x="131.22" y="83.5" width="9.08" height="13.6" fill="#3291ce"/>
<rect x="140.25" y="83.5" width="9.08" height="13.6" fill="#3291ce"/>
<rect x="149.28" y="83.5" width="9.08" height="13.6" fill="#fdf5f0"/>
<rect x="158.31" y="83.5" width="9.08" height="13.6" fill="#e8f2fa"/>
<rect x="167.34" y="83.5" width="9.08" height="13.6" fill="#fde9dc"/>
<rect x="176.37" y="83.5" width="9.08" height="13.6" fill="#fdf5f0"/>
<rect x="185.4" y="83.5" width="9.08" height="13.6" fill="#fdf5f0"/>
<rect x="194.43" y="83.5" width="9.08" height="13.6" fill="#c6e0f1"/>
<rect x="203.46" y="83.5" width="9.08" height="13.6" fill="#a4cfea"/>
<rect x="212.49" y="83.5" width="9.08" height="13.6" fill="#80bee3"/>
<rect x="221.52" y="83.5" width="9.08" height="13.6" fill="#fdf5f0"/>
<rect x="230.55" y="83.5" width="9.08" height="13.6" fill="#fcfcfc"/>
<rect x="239.58" y="83.5" width="9.08" height="13.6" fill="#fdf5f0"/>
<rect x="248.61" y="83.5" width="9.08" height="13.6" fill="#3291ce"/>
<rect x="257.64" y="83.5" width="9.08" height="13.6" fill="#3291ce"/>
<rect x="266.67" y="83.5" width="9.08" height="13.6" fill="#c6e0f1"/>
<rect x="275.7" y="83.5" width="9.08" height="13.6" fill="#a4cfea"/>
<rect x="284.73" y="83.5" width="9.08" height="13.6" fill="#c6e0f1"/>
<rect x="293.76" y="83.5" width="9.08" height="13.6" fill="#fdf5f0"/>
<rect x="302.79" y="83.5" width="9.08" height="13.6" fill="#a4cfea"/>
<rect x="311.82" y="83.5" width="9.08" height="13.6" fill="#fdf5f0"/>
<rect x="320.85" y="83.5" width="9.08" height="13.6" fill="#a4cfea"/>
<rect x="329.88" y="83.5" width="9.08" height="13.6" fill="#80bee3"/>
<rect x="338.91" y="83.5" width="9.08" height="13.6" fill="#c6e0f1"/>
<rect x="347.94" y="83.5" width="9.08" height="13.6" fill="#5eacda"/>
<rect x="356.97" y="83.5" width="9.08" height="13.6" fill="#a4cfea"/>
<rect x="366" y="83.5" width="9.08" height="13.6" fill="#a4cfea"/>
<rect x="375.03" y="83.5" width="9.08" height="13.6" fill="#e8f2fa"/>
<rect x="384.06" y="83.5" width="9.08" height="13.6" fill="#fdf5f0"/>
<rect x="393.09" y="83.5" width="9.08" height="13.6" fill="#5eacda"/>
<rect x="402.12" y="83.5" width="9.08" height="13.6" fill="#fdf5f0"/>
<rect x="411.15" y="83.5" width="9.08" height="13.6" fill="#fdf5f0"/>
<rect x="420.18" y="83.5" width="9.08" height="13.6" fill="#e8f2fa"/>
<rect x="429.21" y="83.5" width="9.08" height="13.6" fill="#fdf5f0"/>
<rect x="438.24" y="83.5" width="9.08" height="13.6" fill="#fdf5f0"/>
<rect x="447.27" y="83.5" width="9.08" height="13.6" fill="#fdf5f0"/>
<rect x="456.3" y="83.5" width="9.08" height="13.6" fill="#fdf5f0"/>
<rect x="465.33" y="83.5" width="9.08" height="13.6" fill="#5eacda"/>
<rect x="474.36" y="83.5" width="9.08" height="13.6" fill="#fcfcfc"/>
<rect x="483.39" y="83.5" width="9.08" height="13.6" fill="#fdf5f0"/>
<rect x="492.42" y="83.5" width="9.08" height="13.6" fill="#a4cfea"/>
<rect x="501.45" y="83.5" width="9.08" height="13.6" fill="#fcfcfc"/>
<rect x="510.48" y="83.5" width="9.08" height="13.6" fill="#5eacda"/>
<rect x="519.51" y="83.5" width="9.08" height="13.6" fill="#fde9dc"/>
<rect x="528.54" y="83.5" width="9.08" height="13.6" fill="#3291ce"/>
<rect x="537.57" y="83.5" width="9.08" height="13.6" fill="#c6e0f1"/>
<rect x="546.6" y="83.5" width="9.08" height="13.6" fill="#fde9dc"/>
<rect x="555.63" y="83.5" width="9.08" height="13.6" fill="#c6e0f1"/>
<rect x="564.66" y="83.5" width="9.08" height="13.6" fill="#fdf5f0"/>
<rect x="573.69" y="83.5" width="9.08" height="13.6" fill="#fcfcfc"/>
<rect x="582.72" y="83.5" width="9.08" height="13.6" fill="#fde9dc"/>
<rect x="591.75" y="83.5" width="9.08" height="13.6" fill="#fdf5f0"/>
<rect x="600.78" y="83.5" width="9.08" height="13.6" fill="#c6e0f1"/>
<rect x="609.81" y="83.5" width="9.08" height="13.6" fill="#5eacda"/>
<rect x="618.84" y="83.5" width="9.08" height="13.6" fill="#fde9dc"/>
<rect x="627.87" y="83.5" width="9.08" height="13.6" fill="#fdd8c0"/>
<rect x="636.9" y="83.5" width="9.08" height="13.6" fill="#fba878"/>
<rect x="645.93" y="83.5" width="9.08" height="13.6" fill="#a4cfea"/>
<rect x="654.96" y="83.5" width="9.08" height="13.6" fill="#ff6a08"/>
<rect x="663.99" y="83.5" width="9.08" height="13.6" fill="#fdf5f0"/>
<rect x="49.95" y="97.05" width="9.08" height="13.6" fill="#5eacda"/>
<rect x="58.98" y="97.05" width="9.08" height="13.6" fill="#c6e0f1"/>
<rect x="68.01" y="97.05" width="9.08" height="13.6" fill="#a4cfea"/>
<rect x="77.04" y="97.05" width="9.08" height="13.6" fill="#3291ce"/>
<rect x="86.07" y="97.05" width="9.08" height="13.6" fill="#e8f2fa"/>
<rect x="95.1" y="97.05" width="9.08" height="13.6" fill="#5eacda"/>
<rect x="104.13" y="97.05" width="9.08" height="13.6" fill="#a4cfea"/>
<rect x="113.16" y="97.05" width="9.08" height="13.6" fill="#3291ce"/>
<rect x="122.19" y="97.05" width="9.08" height="13.6" fill="#c6e0f1"/>
<rect x="131.22" y="97.05" width="9.08" height="13.6" fill="#5eacda"/>
<rect x="140.25" y="97.05" width="9.08" height="13.6" fill="#3291ce"/>
<rect x="149.28" y="97.05" width="9.08" height="13.6" fill="#fdf5f0"/>
<rect x="158.31" y="97.05" width="9.08" height="13.6" fill="#e8f2fa"/>
<rect x="167.34" y="97.05" width="9.08" height="13.6" fill="#fdf5f0"/>
<rect x="176.37" y="97.05" width="9.08" height="13.6" fill="#fdf5f0"/>
<rect x="185.4" y="97.05" width="9.08" height="13.6" fill="#fdf5f0"/>
<rect x="194.43" y="97.05" width="9.08" height="13.6" fill="#c6e0f1"/>
<rect x="203.46" y="97.05" width="9.08" height="13.6" fill="#a4cfea"/>
<rect x="212.49" y="97.05" width="9.08" height="13.6" fill="#80bee3"/>
<rect x="221.52" y="97.05" width="9.08" height="13.6" fill="#fdf5f0"/>
<rect x="230.55" y="97.05" width="9.08" height="13.6" fill="#fcfcfc"/>
<rect x="239.58" y="97.05" width="9.08" height="13.6" fill="#fdf5f0"/>
<rect x="248.61" y="97.05" width="9.08" height="13.6" fill="#5eacda"/>
<rect x="257.64" y="97.05" width="9.08" height="13.6" fill="#3291ce"/>
<rect x="266.67" y="97.05" width="9.08" height="13.6" fill="#c6e0f1"/>
<rect x="275.7" y="97.05" width="9.08" height="13.6" fill="#a4cfea"/>
<rect x="284.73" y="97.05" width="9.08" height="13.6" fill="#e8f2fa"/>
<rect x="293.76" y="97.05" width="9.08" height="13.6" fill="#fdf5f0"/>
<rect x="302.79" y="97.05" width="9.08" height="13.6" fill="#c6e0f1"/>
<rect x="311.82" y="97.05" width="9.08" height="13.6" fill="#fdf5f0"/>
<rect x="320.85" y="97.05" width="9.08" height="13.6" fill="#a4cfea"/>
<rect x="329.88" y="97.05" width="9.08" height="13.6" fill="#80bee3"/>
<rect x="338.91" y="97.05" width="9.08" height="13.6" fill="#c6e0f1"/>
<rect x="347.94" y="97.05" width="9.08" height="13.6" fill="#5eacda"/>
<rect x="356.97" y="97.05" width="9.08" height="13.6" fill="#a4cfea"/>
<rect x="366" y="97.05" width="9.08" height="13.6" fill="#a4cfea"/>
<rect x="375.03" y="97.05" width="9.08" height="13.6" fill="#e8f2fa"/>
<rect x="384.06" y="97.05" width="9.08" height="13.6" fill="#fdf5f0"/>
<rect x="393.09" y="97.05" width="9.08" height="13.6" fill="#5eacda"/>
<rect x="402.12" y="97.05" width="9.08" height="13.6" fill="#fdf5f0"/>
<rect x="411.15" y="97.05" width="9.08" height="13.6" fill="#fdf5f0"/>
<rect x="420.18" y="97.05" width="9.08" height="13.6" fill="#c6e0f1"/>
<rect x="429.21" y="97.05" width="9.08" height="13.6" fill="#fdf5f0"/>
<rect x="438.24" y="97.05" width="9.08" height="13.6" fill="#fdf5f0"/>
<rect x="447.27" y="97.05" width="9.08" height="13.6" fill="#fdf5f0"/>
<rect x="456.3" y="97.05" width="9.08" height="13.6" fill="#fdf5f0"/>
<rect x="465.33" y="97.05" width="9.08" height="13.6" fill="#5eacda"/>
<rect x="474.36" y="97.05" width="9.08" height="13.6" fill="#fcfcfc"/>
<rect x="483.39" y="97.05" width="9.08" height="13.6" fill="#fdf5f0"/>
<rect x="492.42" y="97.05" width="9.08" height="13.6" fill="#a4cfea"/>
<rect x="501.45" y="97.05" width="9.08" height="13.6" fill="#fcfcfc"/>
<rect x="510.48" y="97.05" width="9.08" height="13.6" fill="#80bee3"/>
<rect x="519.51" y="97.05" width="9.08" height="13.6" fill="#fde9dc"/>
<rect x="528.54" y="97.05" width="9.08" height="13.6" fill="#5eacda"/>
<rect x="537.57" y="97.05" width="9.08" height="13.6" fill="#e8f2fa"/>
<rect x="546.6" y="97.05" width="9.08" height="13.6" fill="#fde9dc"/>
<rect x="555.63" y="97.05" width="9.08" height="13.6" fill="#c6e0f1"/>
<rect x="564.66" y="97.05" width="9.08" height="13.6" fill="#fdf5f0"/>
<rect x="573.69" y="97.05" width="9.08" height="13.6" fill="#fcfcfc"/>
<rect x="582.72" y="97.05" width="9.08" height="13.6" fill="#fde9dc"/>
<rect x="591.75" y="97.05" width="9.08" height="13.6" fill="#fdf5f0"/>
<rect x="600.78" y="97.05" width="9.08" height="13.6" fill="#c6e0f1"/>
<rect x="609.81" y="97.05" width="9.08" height="13.6" fill="#5eacda"/>
<rect x="618.84" y="97.05" width="9.08" height="13.6" fill="#fde9dc"/>
<rect x="627.87" y="97.05" width="9.08" height="13.6" fill="#fdd8c0"/>
<rect x="636.9" y="97.05" width="9.08" height="13.6" fill="#fba878"/>
<rect x="645.93" y="97.05" width="9.08" height="13.6" fill="#c6e0f1"/>
<rect x="654.96" y="97.05" width="9.08" height="13.6" fill="#ff6a08"/>
<rect x="663.99" y="97.05" width="9.08" height="13.6" fill="#fdf5f0"/>
<line x1="58.98" y1="83.5" x2="58.98" y2="110.6" stroke="#c8c8c8" stroke-opacity="0.7" stroke-width="0.9"/>
<line x1="68.01" y1="83.5" x2="68.01" y2="110.6" stroke="#c8c8c8" stroke-opacity="0.7" stroke-width="0.9"/>
<line x1="77.04" y1="83.5" x2="77.04" y2="110.6" stroke="#c8c8c8" stroke-opacity="0.7" stroke-width="0.9"/>
<line x1="86.07" y1="83.5" x2="86.07" y2="110.6" stroke="#c8c8c8" stroke-opacity="0.7" stroke-width="0.9"/>
<line x1="95.1" y1="83.5" x2="95.1" y2="110.6" stroke="#c8c8c8" stroke-opacity="0.7" stroke-width="0.9"/>
<line x1="104.13" y1="83.5" x2="104.13" y2="110.6" stroke="#c8c8c8" stroke-opacity="0.7" stroke-width="0.9"/>
<line x1="113.16" y1="83.5" x2="113.16" y2="110.6" stroke="#c8c8c8" stroke-opacity="0.7" stroke-width="0.9"/>
<line x1="122.19" y1="83.5" x2="122.19" y2="110.6" stroke="#c8c8c8" stroke-opacity="0.7" stroke-width="0.9"/>
<line x1="131.22" y1="83.5" x2="131.22" y2="110.6" stroke="#c8c8c8" stroke-opacity="0.7" stroke-width="0.9"/>
<line x1="140.25" y1="83.5" x2="140.25" y2="110.6" stroke="#c8c8c8" stroke-opacity="0.7" stroke-width="0.9"/>
<line x1="149.28" y1="83.5" x2="149.28" y2="110.6" stroke="#c8c8c8" stroke-opacity="0.7" stroke-width="0.9"/>
<line x1="158.31" y1="83.5" x2="158.31" y2="110.6" stroke="#c8c8c8" stroke-opacity="0.7" stroke-width="0.9"/>
<line x1="167.34" y1="83.5" x2="167.34" y2="110.6" stroke="#c8c8c8" stroke-opacity="0.7" stroke-width="0.9"/>
<line x1="176.37" y1="83.5" x2="176.37" y2="110.6" stroke="#c8c8c8" stroke-opacity="0.7" stroke-width="0.9"/>
<line x1="185.4" y1="83.5" x2="185.4" y2="110.6" stroke="#c8c8c8" stroke-opacity="0.7" stroke-width="0.9"/>
<line x1="194.43" y1="83.5" x2="194.43" y2="110.6" stroke="#c8c8c8" stroke-opacity="0.7" stroke-width="0.9"/>
<line x1="203.46" y1="83.5" x2="203.46" y2="110.6" stroke="#c8c8c8" stroke-opacity="0.7" stroke-width="0.9"/>
<line x1="212.49" y1="83.5" x2="212.49" y2="110.6" stroke="#c8c8c8" stroke-opacity="0.7" stroke-width="0.9"/>
<line x1="221.52" y1="83.5" x2="221.52" y2="110.6" stroke="#c8c8c8" stroke-opacity="0.7" stroke-width="0.9"/>
<line x1="230.55" y1="83.5" x2="230.55" y2="110.6" stroke="#c8c8c8" stroke-opacity="0.7" stroke-width="0.9"/>
<line x1="239.58" y1="83.5" x2="239.58" y2="110.6" stroke="#c8c8c8" stroke-opacity="0.7" stroke-width="0.9"/>
<line x1="248.61" y1="83.5" x2="248.61" y2="110.6" stroke="#c8c8c8" stroke-opacity="0.7" stroke-width="0.9"/>
<line x1="257.64" y1="83.5" x2="257.64" y2="110.6" stroke="#c8c8c8" stroke-opacity="0.7" stroke-width="0.9"/>
<line x1="266.67" y1="83.5" x2="266.67" y2="110.6" stroke="#c8c8c8" stroke-opacity="0.7" stroke-width="0.9"/>
<line x1="275.7" y1="83.5" x2="275.7" y2="110.6" stroke="#c8c8c8" stroke-opacity="0.7" stroke-width="0.9"/>
<line x1="284.73" y1="83.5" x2="284.73" y2="110.6" stroke="#c8c8c8" stroke-opacity="0.7" stroke-width="0.9"/>
<line x1="293.76" y1="83.5" x2="293.76" y2="110.6" stroke="#c8c8c8" stroke-opacity="0.7" stroke-width="0.9"/>
<line x1="302.79" y1="83.5" x2="302.79" y2="110.6" stroke="#c8c8c8" stroke-opacity="0.7" stroke-width="0.9"/>
<line x1="311.82" y1="83.5" x2="311.82" y2="110.6" stroke="#c8c8c8" stroke-opacity="0.7" stroke-width="0.9"/>
<line x1="320.85" y1="83.5" x2="320.85" y2="110.6" stroke="#c8c8c8" stroke-opacity="0.7" stroke-width="0.9"/>
<line x1="329.88" y1="83.5" x2="329.88" y2="110.6" stroke="#c8c8c8" stroke-opacity="0.7" stroke-width="0.9"/>
<line x1="338.91" y1="83.5" x2="338.91" y2="110.6" stroke="#c8c8c8" stroke-opacity="0.7" stroke-width="0.9"/>
<line x1="347.94" y1="83.5" x2="347.94" y2="110.6" stroke="#c8c8c8" stroke-opacity="0.7" stroke-width="0.9"/>
<line x1="356.97" y1="83.5" x2="356.97" y2="110.6" stroke="#c8c8c8" stroke-opacity="0.7" stroke-width="0.9"/>
<line x1="366" y1="83.5" x2="366" y2="110.6" stroke="#c8c8c8" stroke-opacity="0.7" stroke-width="0.9"/>
<line x1="375.03" y1="83.5" x2="375.03" y2="110.6" stroke="#c8c8c8" stroke-opacity="0.7" stroke-width="0.9"/>
<line x1="384.06" y1="83.5" x2="384.06" y2="110.6" stroke="#c8c8c8" stroke-opacity="0.7" stroke-width="0.9"/>
<line x1="393.09" y1="83.5" x2="393.09" y2="110.6" stroke="#c8c8c8" stroke-opacity="0.7" stroke-width="0.9"/>
<line x1="402.12" y1="83.5" x2="402.12" y2="110.6" stroke="#c8c8c8" stroke-opacity="0.7" stroke-width="0.9"/>
<line x1="411.15" y1="83.5" x2="411.15" y2="110.6" stroke="#c8c8c8" stroke-opacity="0.7" stroke-width="0.9"/>
<line x1="420.18" y1="83.5" x2="420.18" y2="110.6" stroke="#c8c8c8" stroke-opacity="0.7" stroke-width="0.9"/>
<line x1="429.21" y1="83.5" x2="429.21" y2="110.6" stroke="#c8c8c8" stroke-opacity="0.7" stroke-width="0.9"/>
<line x1="438.24" y1="83.5" x2="438.24" y2="110.6" stroke="#c8c8c8" stroke-opacity="0.7" stroke-width="0.9"/>
<line x1="447.27" y1="83.5" x2="447.27" y2="110.6" stroke="#c8c8c8" stroke-opacity="0.7" stroke-width="0.9"/>
<line x1="456.3" y1="83.5" x2="456.3" y2="110.6" stroke="#c8c8c8" stroke-opacity="0.7" stroke-width="0.9"/>
<line x1="465.33" y1="83.5" x2="465.33" y2="110.6" stroke="#c8c8c8" stroke-opacity="0.7" stroke-width="0.9"/>
<line x1="474.36" y1="83.5" x2="474.36" y2="110.6" stroke="#c8c8c8" stroke-opacity="0.7" stroke-width="0.9"/>
<line x1="483.39" y1="83.5" x2="483.39" y2="110.6" stroke="#c8c8c8" stroke-opacity="0.7" stroke-width="0.9"/>
<line x1="492.42" y1="83.5" x2="492.42" y2="110.6" stroke="#c8c8c8" stroke-opacity="0.7" stroke-width="0.9"/>
<line x1="501.45" y1="83.5" x2="501.45" y2="110.6" stroke="#c8c8c8" stroke-opacity="0.7" stroke-width="0.9"/>
<line x1="510.48" y1="83.5" x2="510.48" y2="110.6" stroke="#c8c8c8" stroke-opacity="0.7" stroke-width="0.9"/>
<line x1="519.51" y1="83.5" x2="519.51" y2="110.6" stroke="#c8c8c8" stroke-opacity="0.7" stroke-width="0.9"/>
<line x1="528.54" y1="83.5" x2="528.54" y2="110.6" stroke="#c8c8c8" stroke-opacity="0.7" stroke-width="0.9"/>
<line x1="537.57" y1="83.5" x2="537.57" y2="110.6" stroke="#c8c8c8" stroke-opacity="0.7" stroke-width="0.9"/>
<line x1="546.6" y1="83.5" x2="546.6" y2="110.6" stroke="#c8c8c8" stroke-opacity="0.7" stroke-width="0.9"/>
<line x1="555.63" y1="83.5" x2="555.63" y2="110.6" stroke="#c8c8c8" stroke-opacity="0.7" stroke-width="0.9"/>
<line x1="564.66" y1="83.5" x2="564.66" y2="110.6" stroke="#c8c8c8" stroke-opacity="0.7" stroke-width="0.9"/>
<line x1="573.69" y1="83.5" x2="573.69" y2="110.6" stroke="#c8c8c8" stroke-opacity="0.7" stroke-width="0.9"/>
<line x1="582.72" y1="83.5" x2="582.72" y2="110.6" stroke="#c8c8c8" stroke-opacity="0.7" stroke-width="0.9"/>
<line x1="591.75" y1="83.5" x2="591.75" y2="110.6" stroke="#c8c8c8" stroke-opacity="0.7" stroke-width="0.9"/>
<line x1="600.78" y1="83.5" x2="600.78" y2="110.6" stroke="#c8c8c8" stroke-opacity="0.7" stroke-width="0.9"/>
<line x1="609.81" y1="83.5" x2="609.81" y2="110.6" stroke="#c8c8c8" stroke-opacity="0.7" stroke-width="0.9"/>
<line x1="618.84" y1="83.5" x2="618.84" y2="110.6" stroke="#c8c8c8" stroke-opacity="0.7" stroke-width="0.9"/>
<line x1="627.87" y1="83.5" x2="627.87" y2="110.6" stroke="#c8c8c8" stroke-opacity="0.7" stroke-width="0.9"/>
<line x1="636.9" y1="83.5" x2="636.9" y2="110.6" stroke="#c8c8c8" stroke-opacity="0.7" stroke-width="0.9"/>
<line x1="645.93" y1="83.5" x2="645.93" y2="110.6" stroke="#c8c8c8" stroke-opacity="0.7" stroke-width="0.9"/>
<line x1="654.96" y1="83.5" x2="654.96" y2="110.6" stroke="#c8c8c8" stroke-opacity="0.7" stroke-width="0.9"/>
<line x1="663.99" y1="83.5" x2="663.99" y2="110.6" stroke="#c8c8c8" stroke-opacity="0.7" stroke-width="0.9"/>
<line x1="49.95" y1="83.5" x2="673.02" y2="83.5" stroke="#c8c8c8" stroke-opacity="0.7" stroke-width="0.9"/>
<line x1="49.95" y1="97.05" x2="673.02" y2="97.05" stroke="#c8c8c8" stroke-opacity="0.7" stroke-width="0.9"/>
<line x1="49.95" y1="110.6" x2="673.02" y2="110.6" stroke="#c8c8c8" stroke-opacity="0.7" stroke-width="0.9"/>
<rect x="49.95" y="115.45" width="9.08" height="13.6" fill="#e8f2fa"/>
<rect x="58.98" y="115.45" width="9.08" height="13.6" fill="#c6e0f1"/>
<rect x="68.01" y="115.45" width="9.08" height="13.6" fill="#80bee3"/>
<rect x="77.04" y="115.45" width="9.08" height="13.6" fill="#80bee3"/>
<rect x="86.07" y="115.45" width="9.08" height="13.6" fill="#fdf5f0"/>
<rect x="95.1" y="115.45" width="9.08" height="13.6" fill="#80bee3"/>
<rect x="104.13" y="115.45" width="9.08" height="13.6" fill="#e8f2fa"/>
<rect x="113.16" y="115.45" width="9.08" height="13.6" fill="#80bee3"/>
<rect x="122.19" y="115.45" width="9.08" height="13.6" fill="#fcfcfc"/>
<rect x="131.22" y="115.45" width="9.08" height="13.6" fill="#80bee3"/>
<rect x="140.25" y="115.45" width="9.08" height="13.6" fill="#80bee3"/>
<rect x="149.28" y="115.45" width="9.08" height="13.6" fill="#c6e0f1"/>
<rect x="158.31" y="115.45" width="9.08" height="13.6" fill="#fdf5f0"/>
<rect x="167.34" y="115.45" width="9.08" height="13.6" fill="#fdf5f0"/>
<rect x="176.37" y="115.45" width="9.08" height="13.6" fill="#fcfcfc"/>
<rect x="185.4" y="115.45" width="9.08" height="13.6" fill="#fde9dc"/>
<rect x="194.43" y="115.45" width="9.08" height="13.6" fill="#fcfcfc"/>
<rect x="203.46" y="115.45" width="9.08" height="13.6" fill="#fcfcfc"/>
<rect x="212.49" y="115.45" width="9.08" height="13.6" fill="#a4cfea"/>
<rect x="221.52" y="115.45" width="9.08" height="13.6" fill="#fdf5f0"/>
<rect x="230.55" y="115.45" width="9.08" height="13.6" fill="#fdf5f0"/>
<rect x="239.58" y="115.45" width="9.08" height="13.6" fill="#fde9dc"/>
<rect x="248.61" y="115.45" width="9.08" height="13.6" fill="#fcfcfc"/>
<rect x="257.64" y="115.45" width="9.08" height="13.6" fill="#3291ce"/>
<rect x="266.67" y="115.45" width="9.08" height="13.6" fill="#e8f2fa"/>
<rect x="275.7" y="115.45" width="9.08" height="13.6" fill="#fcfcfc"/>
<rect x="284.73" y="115.45" width="9.08" height="13.6" fill="#fcfcfc"/>
<rect x="293.76" y="115.45" width="9.08" height="13.6" fill="#fdf5f0"/>
<rect x="302.79" y="115.45" width="9.08" height="13.6" fill="#e8f2fa"/>
<rect x="311.82" y="115.45" width="9.08" height="13.6" fill="#fdf5f0"/>
<rect x="320.85" y="115.45" width="9.08" height="13.6" fill="#fcfcfc"/>
<rect x="329.88" y="115.45" width="9.08" height="13.6" fill="#a4cfea"/>
<rect x="338.91" y="115.45" width="9.08" height="13.6" fill="#fdf5f0"/>
<rect x="347.94" y="115.45" width="9.08" height="13.6" fill="#c6e0f1"/>
<rect x="356.97" y="115.45" width="9.08" height="13.6" fill="#e8f2fa"/>
<rect x="366" y="115.45" width="9.08" height="13.6" fill="#fdf5f0"/>
<rect x="375.03" y="115.45" width="9.08" height="13.6" fill="#fdf5f0"/>
<rect x="384.06" y="115.45" width="9.08" height="13.6" fill="#fcfcfc"/>
<rect x="393.09" y="115.45" width="9.08" height="13.6" fill="#80bee3"/>
<rect x="402.12" y="115.45" width="9.08" height="13.6" fill="#fcfcfc"/>
<rect x="411.15" y="115.45" width="9.08" height="13.6" fill="#fdf5f0"/>
<rect x="420.18" y="115.45" width="9.08" height="13.6" fill="#e8f2fa"/>
<rect x="429.21" y="115.45" width="9.08" height="13.6" fill="#fcfcfc"/>
<rect x="438.24" y="115.45" width="9.08" height="13.6" fill="#fdf5f0"/>
<rect x="447.27" y="115.45" width="9.08" height="13.6" fill="#fde9dc"/>
<rect x="456.3" y="115.45" width="9.08" height="13.6" fill="#fde9dc"/>
<rect x="465.33" y="115.45" width="9.08" height="13.6" fill="#e8f2fa"/>
<rect x="474.36" y="115.45" width="9.08" height="13.6" fill="#a4cfea"/>
<rect x="483.39" y="115.45" width="9.08" height="13.6" fill="#fdf5f0"/>
<rect x="492.42" y="115.45" width="9.08" height="13.6" fill="#fcfcfc"/>
<rect x="501.45" y="115.45" width="9.08" height="13.6" fill="#fdf5f0"/>
<rect x="510.48" y="115.45" width="9.08" height="13.6" fill="#a4cfea"/>
<rect x="519.51" y="115.45" width="9.08" height="13.6" fill="#fdf5f0"/>
<rect x="528.54" y="115.45" width="9.08" height="13.6" fill="#3291ce"/>
<rect x="537.57" y="115.45" width="9.08" height="13.6" fill="#e8f2fa"/>
<rect x="546.6" y="115.45" width="9.08" height="13.6" fill="#fcfcfc"/>
<rect x="555.63" y="115.45" width="9.08" height="13.6" fill="#fcfcfc"/>
<rect x="564.66" y="115.45" width="9.08" height="13.6" fill="#fdf5f0"/>
<rect x="573.69" y="115.45" width="9.08" height="13.6" fill="#fcfcfc"/>
<rect x="582.72" y="115.45" width="9.08" height="13.6" fill="#fdf5f0"/>
<rect x="591.75" y="115.45" width="9.08" height="13.6" fill="#fcfcfc"/>
<rect x="600.78" y="115.45" width="9.08" height="13.6" fill="#fcfcfc"/>
<rect x="609.81" y="115.45" width="9.08" height="13.6" fill="#80bee3"/>
<rect x="618.84" y="115.45" width="9.08" height="13.6" fill="#fde9dc"/>
<rect x="627.87" y="115.45" width="9.08" height="13.6" fill="#fde9dc"/>
<rect x="636.9" y="115.45" width="9.08" height="13.6" fill="#fdf5f0"/>
<rect x="645.93" y="115.45" width="9.08" height="13.6" fill="#5eacda"/>
<rect x="654.96" y="115.45" width="9.08" height="13.6" fill="#fdf5f0"/>
<rect x="663.99" y="115.45" width="9.08" height="13.6" fill="#c6e0f1"/>
<rect x="49.95" y="129" width="9.08" height="13.6" fill="#e8f2fa"/>
<rect x="58.98" y="129" width="9.08" height="13.6" fill="#c6e0f1"/>
<rect x="68.01" y="129" width="9.08" height="13.6" fill="#80bee3"/>
<rect x="77.04" y="129" width="9.08" height="13.6" fill="#5eacda"/>
<rect x="86.07" y="129" width="9.08" height="13.6" fill="#fdf5f0"/>
<rect x="95.1" y="129" width="9.08" height="13.6" fill="#80bee3"/>
<rect x="104.13" y="129" width="9.08" height="13.6" fill="#c6e0f1"/>
<rect x="113.16" y="129" width="9.08" height="13.6" fill="#5eacda"/>
<rect x="122.19" y="129" width="9.08" height="13.6" fill="#fcfcfc"/>
<rect x="131.22" y="129" width="9.08" height="13.6" fill="#5eacda"/>
<rect x="140.25" y="129" width="9.08" height="13.6" fill="#80bee3"/>
<rect x="149.28" y="129" width="9.08" height="13.6" fill="#e8f2fa"/>
<rect x="158.31" y="129" width="9.08" height="13.6" fill="#fdf5f0"/>
<rect x="167.34" y="129" width="9.08" height="13.6" fill="#fdf5f0"/>
<rect x="176.37" y="129" width="9.08" height="13.6" fill="#fdf5f0"/>
<rect x="185.4" y="129" width="9.08" height="13.6" fill="#fde9dc"/>
<rect x="194.43" y="129" width="9.08" height="13.6" fill="#fcfcfc"/>
<rect x="203.46" y="129" width="9.08" height="13.6" fill="#e8f2fa"/>
<rect x="212.49" y="129" width="9.08" height="13.6" fill="#a4cfea"/>
<rect x="221.52" y="129" width="9.08" height="13.6" fill="#fdf5f0"/>
<rect x="230.55" y="129" width="9.08" height="13.6" fill="#fdf5f0"/>
<rect x="239.58" y="129" width="9.08" height="13.6" fill="#fde9dc"/>
<rect x="248.61" y="129" width="9.08" height="13.6" fill="#fcfcfc"/>
<rect x="257.64" y="129" width="9.08" height="13.6" fill="#3291ce"/>
<rect x="266.67" y="129" width="9.08" height="13.6" fill="#e8f2fa"/>
<rect x="275.7" y="129" width="9.08" height="13.6" fill="#fcfcfc"/>
<rect x="284.73" y="129" width="9.08" height="13.6" fill="#fdf5f0"/>
<rect x="293.76" y="129" width="9.08" height="13.6" fill="#fdf5f0"/>
<rect x="302.79" y="129" width="9.08" height="13.6" fill="#e8f2fa"/>
<rect x="311.82" y="129" width="9.08" height="13.6" fill="#fdf5f0"/>
<rect x="320.85" y="129" width="9.08" height="13.6" fill="#c6e0f1"/>
<rect x="329.88" y="129" width="9.08" height="13.6" fill="#c6e0f1"/>
<rect x="338.91" y="129" width="9.08" height="13.6" fill="#fdf5f0"/>
<rect x="347.94" y="129" width="9.08" height="13.6" fill="#c6e0f1"/>
<rect x="356.97" y="129" width="9.08" height="13.6" fill="#fcfcfc"/>
<rect x="366" y="129" width="9.08" height="13.6" fill="#fdf5f0"/>
<rect x="375.03" y="129" width="9.08" height="13.6" fill="#fdf5f0"/>
<rect x="384.06" y="129" width="9.08" height="13.6" fill="#fcfcfc"/>
<rect x="393.09" y="129" width="9.08" height="13.6" fill="#80bee3"/>
<rect x="402.12" y="129" width="9.08" height="13.6" fill="#fcfcfc"/>
<rect x="411.15" y="129" width="9.08" height="13.6" fill="#fdf5f0"/>
<rect x="420.18" y="129" width="9.08" height="13.6" fill="#fcfcfc"/>
<rect x="429.21" y="129" width="9.08" height="13.6" fill="#e8f2fa"/>
<rect x="438.24" y="129" width="9.08" height="13.6" fill="#fdf5f0"/>
<rect x="447.27" y="129" width="9.08" height="13.6" fill="#fde9dc"/>
<rect x="456.3" y="129" width="9.08" height="13.6" fill="#fde9dc"/>
<rect x="465.33" y="129" width="9.08" height="13.6" fill="#fcfcfc"/>
<rect x="474.36" y="129" width="9.08" height="13.6" fill="#a4cfea"/>
<rect x="483.39" y="129" width="9.08" height="13.6" fill="#fdf5f0"/>
<rect x="492.42" y="129" width="9.08" height="13.6" fill="#fcfcfc"/>
<rect x="501.45" y="129" width="9.08" height="13.6" fill="#fdf5f0"/>
<rect x="510.48" y="129" width="9.08" height="13.6" fill="#a4cfea"/>
<rect x="519.51" y="129" width="9.08" height="13.6" fill="#fdf5f0"/>
<rect x="528.54" y="129" width="9.08" height="13.6" fill="#3291ce"/>
<rect x="537.57" y="129" width="9.08" height="13.6" fill="#e8f2fa"/>
<rect x="546.6" y="129" width="9.08" height="13.6" fill="#fcfcfc"/>
<rect x="555.63" y="129" width="9.08" height="13.6" fill="#fcfcfc"/>
<rect x="564.66" y="129" width="9.08" height="13.6" fill="#fdf5f0"/>
<rect x="573.69" y="129" width="9.08" height="13.6" fill="#fcfcfc"/>
<rect x="582.72" y="129" width="9.08" height="13.6" fill="#fdf5f0"/>
<rect x="591.75" y="129" width="9.08" height="13.6" fill="#fcfcfc"/>
<rect x="600.78" y="129" width="9.08" height="13.6" fill="#fcfcfc"/>
<rect x="609.81" y="129" width="9.08" height="13.6" fill="#80bee3"/>
<rect x="618.84" y="129" width="9.08" height="13.6" fill="#fde9dc"/>
<rect x="627.87" y="129" width="9.08" height="13.6" fill="#fde9dc"/>
<rect x="636.9" y="129" width="9.08" height="13.6" fill="#fdf5f0"/>
<rect x="645.93" y="129" width="9.08" height="13.6" fill="#5eacda"/>
<rect x="654.96" y="129" width="9.08" height="13.6" fill="#fdf5f0"/>
<rect x="663.99" y="129" width="9.08" height="13.6" fill="#e8f2fa"/>
<line x1="58.98" y1="115.45" x2="58.98" y2="142.55" stroke="#c8c8c8" stroke-opacity="0.7" stroke-width="0.9"/>
<line x1="68.01" y1="115.45" x2="68.01" y2="142.55" stroke="#c8c8c8" stroke-opacity="0.7" stroke-width="0.9"/>
<line x1="77.04" y1="115.45" x2="77.04" y2="142.55" stroke="#c8c8c8" stroke-opacity="0.7" stroke-width="0.9"/>
<line x1="86.07" y1="115.45" x2="86.07" y2="142.55" stroke="#c8c8c8" stroke-opacity="0.7" stroke-width="0.9"/>
<line x1="95.1" y1="115.45" x2="95.1" y2="142.55" stroke="#c8c8c8" stroke-opacity="0.7" stroke-width="0.9"/>
<line x1="104.13" y1="115.45" x2="104.13" y2="142.55" stroke="#c8c8c8" stroke-opacity="0.7" stroke-width="0.9"/>
<line x1="113.16" y1="115.45" x2="113.16" y2="142.55" stroke="#c8c8c8" stroke-opacity="0.7" stroke-width="0.9"/>
<line x1="122.19" y1="115.45" x2="122.19" y2="142.55" stroke="#c8c8c8" stroke-opacity="0.7" stroke-width="0.9"/>
<line x1="131.22" y1="115.45" x2="131.22" y2="142.55" stroke="#c8c8c8" stroke-opacity="0.7" stroke-width="0.9"/>
<line x1="140.25" y1="115.45" x2="140.25" y2="142.55" stroke="#c8c8c8" stroke-opacity="0.7" stroke-width="0.9"/>
<line x1="149.28" y1="115.45" x2="149.28" y2="142.55" stroke="#c8c8c8" stroke-opacity="0.7" stroke-width="0.9"/>
<line x1="158.31" y1="115.45" x2="158.31" y2="142.55" stroke="#c8c8c8" stroke-opacity="0.7" stroke-width="0.9"/>
<line x1="167.34" y1="115.45" x2="167.34" y2="142.55" stroke="#c8c8c8" stroke-opacity="0.7" stroke-width="0.9"/>
<line x1="176.37" y1="115.45" x2="176.37" y2="142.55" stroke="#c8c8c8" stroke-opacity="0.7" stroke-width="0.9"/>
<line x1="185.4" y1="115.45" x2="185.4" y2="142.55" stroke="#c8c8c8" stroke-opacity="0.7" stroke-width="0.9"/>
<line x1="194.43" y1="115.45" x2="194.43" y2="142.55" stroke="#c8c8c8" stroke-opacity="0.7" stroke-width="0.9"/>
<line x1="203.46" y1="115.45" x2="203.46" y2="142.55" stroke="#c8c8c8" stroke-opacity="0.7" stroke-width="0.9"/>
<line x1="212.49" y1="115.45" x2="212.49" y2="142.55" stroke="#c8c8c8" stroke-opacity="0.7" stroke-width="0.9"/>
<line x1="221.52" y1="115.45" x2="221.52" y2="142.55" stroke="#c8c8c8" stroke-opacity="0.7" stroke-width="0.9"/>
<line x1="230.55" y1="115.45" x2="230.55" y2="142.55" stroke="#c8c8c8" stroke-opacity="0.7" stroke-width="0.9"/>
<line x1="239.58" y1="115.45" x2="239.58" y2="142.55" stroke="#c8c8c8" stroke-opacity="0.7" stroke-width="0.9"/>
<line x1="248.61" y1="115.45" x2="248.61" y2="142.55" stroke="#c8c8c8" stroke-opacity="0.7" stroke-width="0.9"/>
<line x1="257.64" y1="115.45" x2="257.64" y2="142.55" stroke="#c8c8c8" stroke-opacity="0.7" stroke-width="0.9"/>
<line x1="266.67" y1="115.45" x2="266.67" y2="142.55" stroke="#c8c8c8" stroke-opacity="0.7" stroke-width="0.9"/>
<line x1="275.7" y1="115.45" x2="275.7" y2="142.55" stroke="#c8c8c8" stroke-opacity="0.7" stroke-width="0.9"/>
<line x1="284.73" y1="115.45" x2="284.73" y2="142.55" stroke="#c8c8c8" stroke-opacity="0.7" stroke-width="0.9"/>
<line x1="293.76" y1="115.45" x2="293.76" y2="142.55" stroke="#c8c8c8" stroke-opacity="0.7" stroke-width="0.9"/>
<line x1="302.79" y1="115.45" x2="302.79" y2="142.55" stroke="#c8c8c8" stroke-opacity="0.7" stroke-width="0.9"/>
<line x1="311.82" y1="115.45" x2="311.82" y2="142.55" stroke="#c8c8c8" stroke-opacity="0.7" stroke-width="0.9"/>
<line x1="320.85" y1="115.45" x2="320.85" y2="142.55" stroke="#c8c8c8" stroke-opacity="0.7" stroke-width="0.9"/>
<line x1="329.88" y1="115.45" x2="329.88" y2="142.55" stroke="#c8c8c8" stroke-opacity="0.7" stroke-width="0.9"/>
<line x1="338.91" y1="115.45" x2="338.91" y2="142.55" stroke="#c8c8c8" stroke-opacity="0.7" stroke-width="0.9"/>
<line x1="347.94" y1="115.45" x2="347.94" y2="142.55" stroke="#c8c8c8" stroke-opacity="0.7" stroke-width="0.9"/>
<line x1="356.97" y1="115.45" x2="356.97" y2="142.55" stroke="#c8c8c8" stroke-opacity="0.7" stroke-width="0.9"/>
<line x1="366" y1="115.45" x2="366" y2="142.55" stroke="#c8c8c8" stroke-opacity="0.7" stroke-width="0.9"/>
<line x1="375.03" y1="115.45" x2="375.03" y2="142.55" stroke="#c8c8c8" stroke-opacity="0.7" stroke-width="0.9"/>
<line x1="384.06" y1="115.45" x2="384.06" y2="142.55" stroke="#c8c8c8" stroke-opacity="0.7" stroke-width="0.9"/>
<line x1="393.09" y1="115.45" x2="393.09" y2="142.55" stroke="#c8c8c8" stroke-opacity="0.7" stroke-width="0.9"/>
<line x1="402.12" y1="115.45" x2="402.12" y2="142.55" stroke="#c8c8c8" stroke-opacity="0.7" stroke-width="0.9"/>
<line x1="411.15" y1="115.45" x2="411.15" y2="142.55" stroke="#c8c8c8" stroke-opacity="0.7" stroke-width="0.9"/>
<line x1="420.18" y1="115.45" x2="420.18" y2="142.55" stroke="#c8c8c8" stroke-opacity="0.7" stroke-width="0.9"/>
<line x1="429.21" y1="115.45" x2="429.21" y2="142.55" stroke="#c8c8c8" stroke-opacity="0.7" stroke-width="0.9"/>
<line x1="438.24" y1="115.45" x2="438.24" y2="142.55" stroke="#c8c8c8" stroke-opacity="0.7" stroke-width="0.9"/>
<line x1="447.27" y1="115.45" x2="447.27" y2="142.55" stroke="#c8c8c8" stroke-opacity="0.7" stroke-width="0.9"/>
<line x1="456.3" y1="115.45" x2="456.3" y2="142.55" stroke="#c8c8c8" stroke-opacity="0.7" stroke-width="0.9"/>
<line x1="465.33" y1="115.45" x2="465.33" y2="142.55" stroke="#c8c8c8" stroke-opacity="0.7" stroke-width="0.9"/>
<line x1="474.36" y1="115.45" x2="474.36" y2="142.55" stroke="#c8c8c8" stroke-opacity="0.7" stroke-width="0.9"/>
<line x1="483.39" y1="115.45" x2="483.39" y2="142.55" stroke="#c8c8c8" stroke-opacity="0.7" stroke-width="0.9"/>
<line x1="492.42" y1="115.45" x2="492.42" y2="142.55" stroke="#c8c8c8" stroke-opacity="0.7" stroke-width="0.9"/>
<line x1="501.45" y1="115.45" x2="501.45" y2="142.55" stroke="#c8c8c8" stroke-opacity="0.7" stroke-width="0.9"/>
<line x1="510.48" y1="115.45" x2="510.48" y2="142.55" stroke="#c8c8c8" stroke-opacity="0.7" stroke-width="0.9"/>
<line x1="519.51" y1="115.45" x2="519.51" y2="142.55" stroke="#c8c8c8" stroke-opacity="0.7" stroke-width="0.9"/>
<line x1="528.54" y1="115.45" x2="528.54" y2="142.55" stroke="#c8c8c8" stroke-opacity="0.7" stroke-width="0.9"/>
<line x1="537.57" y1="115.45" x2="537.57" y2="142.55" stroke="#c8c8c8" stroke-opacity="0.7" stroke-width="0.9"/>
<line x1="546.6" y1="115.45" x2="546.6" y2="142.55" stroke="#c8c8c8" stroke-opacity="0.7" stroke-width="0.9"/>
<line x1="555.63" y1="115.45" x2="555.63" y2="142.55" stroke="#c8c8c8" stroke-opacity="0.7" stroke-width="0.9"/>
<line x1="564.66" y1="115.45" x2="564.66" y2="142.55" stroke="#c8c8c8" stroke-opacity="0.7" stroke-width="0.9"/>
<line x1="573.69" y1="115.45" x2="573.69" y2="142.55" stroke="#c8c8c8" stroke-opacity="0.7" stroke-width="0.9"/>
<line x1="582.72" y1="115.45" x2="582.72" y2="142.55" stroke="#c8c8c8" stroke-opacity="0.7" stroke-width="0.9"/>
<line x1="591.75" y1="115.45" x2="591.75" y2="142.55" stroke="#c8c8c8" stroke-opacity="0.7" stroke-width="0.9"/>
<line x1="600.78" y1="115.45" x2="600.78" y2="142.55" stroke="#c8c8c8" stroke-opacity="0.7" stroke-width="0.9"/>
<line x1="609.81" y1="115.45" x2="609.81" y2="142.55" stroke="#c8c8c8" stroke-opacity="0.7" stroke-width="0.9"/>
<line x1="618.84" y1="115.45" x2="618.84" y2="142.55" stroke="#c8c8c8" stroke-opacity="0.7" stroke-width="0.9"/>
<line x1="627.87" y1="115.45" x2="627.87" y2="142.55" stroke="#c8c8c8" stroke-opacity="0.7" stroke-width="0.9"/>
<line x1="636.9" y1="115.45" x2="636.9" y2="142.55" stroke="#c8c8c8" stroke-opacity="0.7" stroke-width="0.9"/>
<line x1="645.93" y1="115.45" x2="645.93" y2="142.55" stroke="#c8c8c8" stroke-opacity="0.7" stroke-width="0.9"/>
<line x1="654.96" y1="115.45" x2="654.96" y2="142.55" stroke="#c8c8c8" stroke-opacity="0.7" stroke-width="0.9"/>
<line x1="663.99" y1="115.45" x2="663.99" y2="142.55" stroke="#c8c8c8" stroke-opacity="0.7" stroke-width="0.9"/>
<line x1="49.95" y1="115.45" x2="673.02" y2="115.45" stroke="#c8c8c8" stroke-opacity="0.7" stroke-width="0.9"/>
<line x1="49.95" y1="129" x2="673.02" y2="129" stroke="#c8c8c8" stroke-opacity="0.7" stroke-width="0.9"/>
<line x1="49.95" y1="142.55" x2="673.02" y2="142.55" stroke="#c8c8c8" stroke-opacity="0.7" stroke-width="0.9"/>
<rect x="49.95" y="147.4" width="9.08" height="13.6" fill="#5eacda"/>
<rect x="58.98" y="147.4" width="9.08" height="13.6" fill="#80bee3"/>
<rect x="68.01" y="147.4" width="9.08" height="13.6" fill="#80bee3"/>
<rect x="77.04" y="147.4" width="9.08" height="13.6" fill="#5eacda"/>
<rect x="86.07" y="147.4" width="9.08" height="13.6" fill="#fcfcfc"/>
<rect x="95.1" y="147.4" width="9.08" height="13.6" fill="#3291ce"/>
<rect x="104.13" y="147.4" width="9.08" height="13.6" fill="#5eacda"/>
<rect x="113.16" y="147.4" width="9.08" height="13.6" fill="#3291ce"/>
<rect x="122.19" y="147.4" width="9.08" height="13.6" fill="#a4cfea"/>
<rect x="131.22" y="147.4" width="9.08" height="13.6" fill="#5eacda"/>
<rect x="140.25" y="147.4" width="9.08" height="13.6" fill="#5eacda"/>
<rect x="149.28" y="147.4" width="9.08" height="13.6" fill="#e8f2fa"/>
<rect x="158.31" y="147.4" width="9.08" height="13.6" fill="#fcfcfc"/>
<rect x="167.34" y="147.4" width="9.08" height="13.6" fill="#fdf5f0"/>
<rect x="176.37" y="147.4" width="9.08" height="13.6" fill="#fcfcfc"/>
<rect x="185.4" y="147.4" width="9.08" height="13.6" fill="#fcc09c"/>
<rect x="194.43" y="147.4" width="9.08" height="13.6" fill="#5eacda"/>
<rect x="203.46" y="147.4" width="9.08" height="13.6" fill="#5eacda"/>
<rect x="212.49" y="147.4" width="9.08" height="13.6" fill="#80bee3"/>
<rect x="221.52" y="147.4" width="9.08" height="13.6" fill="#c6e0f1"/>
<rect x="230.55" y="147.4" width="9.08" height="13.6" fill="#fcfcfc"/>
<rect x="239.58" y="147.4" width="9.08" height="13.6" fill="#fde9dc"/>
<rect x="248.61" y="147.4" width="9.08" height="13.6" fill="#5eacda"/>
<rect x="257.64" y="147.4" width="9.08" height="13.6" fill="#5eacda"/>
<rect x="266.67" y="147.4" width="9.08" height="13.6" fill="#c6e0f1"/>
<rect x="275.7" y="147.4" width="9.08" height="13.6" fill="#a4cfea"/>
<rect x="284.73" y="147.4" width="9.08" height="13.6" fill="#e8f2fa"/>
<rect x="293.76" y="147.4" width="9.08" height="13.6" fill="#fdf5f0"/>
<rect x="302.79" y="147.4" width="9.08" height="13.6" fill="#fdf5f0"/>
<rect x="311.82" y="147.4" width="9.08" height="13.6" fill="#fcc09c"/>
<rect x="320.85" y="147.4" width="9.08" height="13.6" fill="#fde9dc"/>
<rect x="329.88" y="147.4" width="9.08" height="13.6" fill="#5eacda"/>
<rect x="338.91" y="147.4" width="9.08" height="13.6" fill="#80bee3"/>
<rect x="347.94" y="147.4" width="9.08" height="13.6" fill="#5eacda"/>
<rect x="356.97" y="147.4" width="9.08" height="13.6" fill="#a4cfea"/>
<rect x="366" y="147.4" width="9.08" height="13.6" fill="#80bee3"/>
<rect x="375.03" y="147.4" width="9.08" height="13.6" fill="#c6e0f1"/>
<rect x="384.06" y="147.4" width="9.08" height="13.6" fill="#fdf5f0"/>
<rect x="393.09" y="147.4" width="9.08" height="13.6" fill="#c6e0f1"/>
<rect x="402.12" y="147.4" width="9.08" height="13.6" fill="#fcfcfc"/>
<rect x="411.15" y="147.4" width="9.08" height="13.6" fill="#fdf5f0"/>
<rect x="420.18" y="147.4" width="9.08" height="13.6" fill="#a4cfea"/>
<rect x="429.21" y="147.4" width="9.08" height="13.6" fill="#e8f2fa"/>
<rect x="438.24" y="147.4" width="9.08" height="13.6" fill="#fcfcfc"/>
<rect x="447.27" y="147.4" width="9.08" height="13.6" fill="#fdd8c0"/>
<rect x="456.3" y="147.4" width="9.08" height="13.6" fill="#fdf5f0"/>
<rect x="465.33" y="147.4" width="9.08" height="13.6" fill="#e8f2fa"/>
<rect x="474.36" y="147.4" width="9.08" height="13.6" fill="#5eacda"/>
<rect x="483.39" y="147.4" width="9.08" height="13.6" fill="#fdf5f0"/>
<rect x="492.42" y="147.4" width="9.08" height="13.6" fill="#5eacda"/>
<rect x="501.45" y="147.4" width="9.08" height="13.6" fill="#c6e0f1"/>
<rect x="510.48" y="147.4" width="9.08" height="13.6" fill="#3291ce"/>
<rect x="519.51" y="147.4" width="9.08" height="13.6" fill="#fdd8c0"/>
<rect x="528.54" y="147.4" width="9.08" height="13.6" fill="#3291ce"/>
<rect x="537.57" y="147.4" width="9.08" height="13.6" fill="#c6e0f1"/>
<rect x="546.6" y="147.4" width="9.08" height="13.6" fill="#fcfcfc"/>
<rect x="555.63" y="147.4" width="9.08" height="13.6" fill="#fcfcfc"/>
<rect x="564.66" y="147.4" width="9.08" height="13.6" fill="#fdf5f0"/>
<rect x="573.69" y="147.4" width="9.08" height="13.6" fill="#fdf5f0"/>
<rect x="582.72" y="147.4" width="9.08" height="13.6" fill="#fdf5f0"/>
<rect x="591.75" y="147.4" width="9.08" height="13.6" fill="#fdf5f0"/>
<rect x="600.78" y="147.4" width="9.08" height="13.6" fill="#fdf5f0"/>
<rect x="609.81" y="147.4" width="9.08" height="13.6" fill="#5eacda"/>
<rect x="618.84" y="147.4" width="9.08" height="13.6" fill="#fde9dc"/>
<rect x="627.87" y="147.4" width="9.08" height="13.6" fill="#fdd8c0"/>
<rect x="636.9" y="147.4" width="9.08" height="13.6" fill="#fde9dc"/>
<rect x="645.93" y="147.4" width="9.08" height="13.6" fill="#5eacda"/>
<rect x="654.96" y="147.4" width="9.08" height="13.6" fill="#fde9dc"/>
<rect x="663.99" y="147.4" width="9.08" height="13.6" fill="#c6e0f1"/>
<rect x="49.95" y="160.95" width="9.08" height="13.6" fill="#5eacda"/>
<rect x="58.98" y="160.95" width="9.08" height="13.6" fill="#80bee3"/>
<rect x="68.01" y="160.95" width="9.08" height="13.6" fill="#80bee3"/>
<rect x="77.04" y="160.95" width="9.08" height="13.6" fill="#5eacda"/>
<rect x="86.07" y="160.95" width="9.08" height="13.6" fill="#fcfcfc"/>
<rect x="95.1" y="160.95" width="9.08" height="13.6" fill="#3291ce"/>
<rect x="104.13" y="160.95" width="9.08" height="13.6" fill="#5eacda"/>
<rect x="113.16" y="160.95" width="9.08" height="13.6" fill="#3291ce"/>
<rect x="122.19" y="160.95" width="9.08" height="13.6" fill="#a4cfea"/>
<rect x="131.22" y="160.95" width="9.08" height="13.6" fill="#5eacda"/>
<rect x="140.25" y="160.95" width="9.08" height="13.6" fill="#5eacda"/>
<rect x="149.28" y="160.95" width="9.08" height="13.6" fill="#e8f2fa"/>
<rect x="158.31" y="160.95" width="9.08" height="13.6" fill="#fcfcfc"/>
<rect x="167.34" y="160.95" width="9.08" height="13.6" fill="#fdf5f0"/>
<rect x="176.37" y="160.95" width="9.08" height="13.6" fill="#e8f2fa"/>
<rect x="185.4" y="160.95" width="9.08" height="13.6" fill="#fcc09c"/>
<rect x="194.43" y="160.95" width="9.08" height="13.6" fill="#5eacda"/>
<rect x="203.46" y="160.95" width="9.08" height="13.6" fill="#5eacda"/>
<rect x="212.49" y="160.95" width="9.08" height="13.6" fill="#5eacda"/>
<rect x="221.52" y="160.95" width="9.08" height="13.6" fill="#a4cfea"/>
<rect x="230.55" y="160.95" width="9.08" height="13.6" fill="#fdf5f0"/>
<rect x="239.58" y="160.95" width="9.08" height="13.6" fill="#fde9dc"/>
<rect x="248.61" y="160.95" width="9.08" height="13.6" fill="#5eacda"/>
<rect x="257.64" y="160.95" width="9.08" height="13.6" fill="#5eacda"/>
<rect x="266.67" y="160.95" width="9.08" height="13.6" fill="#c6e0f1"/>
<rect x="275.7" y="160.95" width="9.08" height="13.6" fill="#a4cfea"/>
<rect x="284.73" y="160.95" width="9.08" height="13.6" fill="#c6e0f1"/>
<rect x="293.76" y="160.95" width="9.08" height="13.6" fill="#fdf5f0"/>
<rect x="302.79" y="160.95" width="9.08" height="13.6" fill="#fdf5f0"/>
<rect x="311.82" y="160.95" width="9.08" height="13.6" fill="#fcc09c"/>
<rect x="320.85" y="160.95" width="9.08" height="13.6" fill="#fde9dc"/>
<rect x="329.88" y="160.95" width="9.08" height="13.6" fill="#5eacda"/>
<rect x="338.91" y="160.95" width="9.08" height="13.6" fill="#80bee3"/>
<rect x="347.94" y="160.95" width="9.08" height="13.6" fill="#5eacda"/>
<rect x="356.97" y="160.95" width="9.08" height="13.6" fill="#a4cfea"/>
<rect x="366" y="160.95" width="9.08" height="13.6" fill="#80bee3"/>
<rect x="375.03" y="160.95" width="9.08" height="13.6" fill="#a4cfea"/>
<rect x="384.06" y="160.95" width="9.08" height="13.6" fill="#fdf5f0"/>
<rect x="393.09" y="160.95" width="9.08" height="13.6" fill="#c6e0f1"/>
<rect x="402.12" y="160.95" width="9.08" height="13.6" fill="#fcfcfc"/>
<rect x="411.15" y="160.95" width="9.08" height="13.6" fill="#fdf5f0"/>
<rect x="420.18" y="160.95" width="9.08" height="13.6" fill="#a4cfea"/>
<rect x="429.21" y="160.95" width="9.08" height="13.6" fill="#c6e0f1"/>
<rect x="438.24" y="160.95" width="9.08" height="13.6" fill="#e8f2fa"/>
<rect x="447.27" y="160.95" width="9.08" height="13.6" fill="#fdd8c0"/>
<rect x="456.3" y="160.95" width="9.08" height="13.6" fill="#fdf5f0"/>
<rect x="465.33" y="160.95" width="9.08" height="13.6" fill="#c6e0f1"/>
<rect x="474.36" y="160.95" width="9.08" height="13.6" fill="#5eacda"/>
<rect x="483.39" y="160.95" width="9.08" height="13.6" fill="#fdf5f0"/>
<rect x="492.42" y="160.95" width="9.08" height="13.6" fill="#5eacda"/>
<rect x="501.45" y="160.95" width="9.08" height="13.6" fill="#c6e0f1"/>
<rect x="510.48" y="160.95" width="9.08" height="13.6" fill="#3291ce"/>
<rect x="519.51" y="160.95" width="9.08" height="13.6" fill="#fdd8c0"/>
<rect x="528.54" y="160.95" width="9.08" height="13.6" fill="#3291ce"/>
<rect x="537.57" y="160.95" width="9.08" height="13.6" fill="#e8f2fa"/>
<rect x="546.6" y="160.95" width="9.08" height="13.6" fill="#fcfcfc"/>
<rect x="555.63" y="160.95" width="9.08" height="13.6" fill="#fcfcfc"/>
<rect x="564.66" y="160.95" width="9.08" height="13.6" fill="#fdf5f0"/>
<rect x="573.69" y="160.95" width="9.08" height="13.6" fill="#fdf5f0"/>
<rect x="582.72" y="160.95" width="9.08" height="13.6" fill="#fdf5f0"/>
<rect x="591.75" y="160.95" width="9.08" height="13.6" fill="#fdf5f0"/>
<rect x="600.78" y="160.95" width="9.08" height="13.6" fill="#fdf5f0"/>
<rect x="609.81" y="160.95" width="9.08" height="13.6" fill="#5eacda"/>
<rect x="618.84" y="160.95" width="9.08" height="13.6" fill="#fde9dc"/>
<rect x="627.87" y="160.95" width="9.08" height="13.6" fill="#fdd8c0"/>
<rect x="636.9" y="160.95" width="9.08" height="13.6" fill="#fde9dc"/>
<rect x="645.93" y="160.95" width="9.08" height="13.6" fill="#5eacda"/>
<rect x="654.96" y="160.95" width="9.08" height="13.6" fill="#fde9dc"/>
<rect x="663.99" y="160.95" width="9.08" height="13.6" fill="#e8f2fa"/>
<line x1="58.98" y1="147.4" x2="58.98" y2="174.5" stroke="#c8c8c8" stroke-opacity="0.7" stroke-width="0.9"/>
<line x1="68.01" y1="147.4" x2="68.01" y2="174.5" stroke="#c8c8c8" stroke-opacity="0.7" stroke-width="0.9"/>
<line x1="77.04" y1="147.4" x2="77.04" y2="174.5" stroke="#c8c8c8" stroke-opacity="0.7" stroke-width="0.9"/>
<line x1="86.07" y1="147.4" x2="86.07" y2="174.5" stroke="#c8c8c8" stroke-opacity="0.7" stroke-width="0.9"/>
<line x1="95.1" y1="147.4" x2="95.1" y2="174.5" stroke="#c8c8c8" stroke-opacity="0.7" stroke-width="0.9"/>
<line x1="104.13" y1="147.4" x2="104.13" y2="174.5" stroke="#c8c8c8" stroke-opacity="0.7" stroke-width="0.9"/>
<line x1="113.16" y1="147.4" x2="113.16" y2="174.5" stroke="#c8c8c8" stroke-opacity="0.7" stroke-width="0.9"/>
<line x1="122.19" y1="147.4" x2="122.19" y2="174.5" stroke="#c8c8c8" stroke-opacity="0.7" stroke-width="0.9"/>
<line x1="131.22" y1="147.4" x2="131.22" y2="174.5" stroke="#c8c8c8" stroke-opacity="0.7" stroke-width="0.9"/>
<line x1="140.25" y1="147.4" x2="140.25" y2="174.5" stroke="#c8c8c8" stroke-opacity="0.7" stroke-width="0.9"/>
<line x1="149.28" y1="147.4" x2="149.28" y2="174.5" stroke="#c8c8c8" stroke-opacity="0.7" stroke-width="0.9"/>
<line x1="158.31" y1="147.4" x2="158.31" y2="174.5" stroke="#c8c8c8" stroke-opacity="0.7" stroke-width="0.9"/>
<line x1="167.34" y1="147.4" x2="167.34" y2="174.5" stroke="#c8c8c8" stroke-opacity="0.7" stroke-width="0.9"/>
<line x1="176.37" y1="147.4" x2="176.37" y2="174.5" stroke="#c8c8c8" stroke-opacity="0.7" stroke-width="0.9"/>
<line x1="185.4" y1="147.4" x2="185.4" y2="174.5" stroke="#c8c8c8" stroke-opacity="0.7" stroke-width="0.9"/>
<line x1="194.43" y1="147.4" x2="194.43" y2="174.5" stroke="#c8c8c8" stroke-opacity="0.7" stroke-width="0.9"/>
<line x1="203.46" y1="147.4" x2="203.46" y2="174.5" stroke="#c8c8c8" stroke-opacity="0.7" stroke-width="0.9"/>
<line x1="212.49" y1="147.4" x2="212.49" y2="174.5" stroke="#c8c8c8" stroke-opacity="0.7" stroke-width="0.9"/>
<line x1="221.52" y1="147.4" x2="221.52" y2="174.5" stroke="#c8c8c8" stroke-opacity="0.7" stroke-width="0.9"/>
<line x1="230.55" y1="147.4" x2="230.55" y2="174.5" stroke="#c8c8c8" stroke-opacity="0.7" stroke-width="0.9"/>
<line x1="239.58" y1="147.4" x2="239.58" y2="174.5" stroke="#c8c8c8" stroke-opacity="0.7" stroke-width="0.9"/>
<line x1="248.61" y1="147.4" x2="248.61" y2="174.5" stroke="#c8c8c8" stroke-opacity="0.7" stroke-width="0.9"/>
<line x1="257.64" y1="147.4" x2="257.64" y2="174.5" stroke="#c8c8c8" stroke-opacity="0.7" stroke-width="0.9"/>
<line x1="266.67" y1="147.4" x2="266.67" y2="174.5" stroke="#c8c8c8" stroke-opacity="0.7" stroke-width="0.9"/>
<line x1="275.7" y1="147.4" x2="275.7" y2="174.5" stroke="#c8c8c8" stroke-opacity="0.7" stroke-width="0.9"/>
<line x1="284.73" y1="147.4" x2="284.73" y2="174.5" stroke="#c8c8c8" stroke-opacity="0.7" stroke-width="0.9"/>
<line x1="293.76" y1="147.4" x2="293.76" y2="174.5" stroke="#c8c8c8" stroke-opacity="0.7" stroke-width="0.9"/>
<line x1="302.79" y1="147.4" x2="302.79" y2="174.5" stroke="#c8c8c8" stroke-opacity="0.7" stroke-width="0.9"/>
<line x1="311.82" y1="147.4" x2="311.82" y2="174.5" stroke="#c8c8c8" stroke-opacity="0.7" stroke-width="0.9"/>
<line x1="320.85" y1="147.4" x2="320.85" y2="174.5" stroke="#c8c8c8" stroke-opacity="0.7" stroke-width="0.9"/>
<line x1="329.88" y1="147.4" x2="329.88" y2="174.5" stroke="#c8c8c8" stroke-opacity="0.7" stroke-width="0.9"/>
<line x1="338.91" y1="147.4" x2="338.91" y2="174.5" stroke="#c8c8c8" stroke-opacity="0.7" stroke-width="0.9"/>
<line x1="347.94" y1="147.4" x2="347.94" y2="174.5" stroke="#c8c8c8" stroke-opacity="0.7" stroke-width="0.9"/>
<line x1="356.97" y1="147.4" x2="356.97" y2="174.5" stroke="#c8c8c8" stroke-opacity="0.7" stroke-width="0.9"/>
<line x1="366" y1="147.4" x2="366" y2="174.5" stroke="#c8c8c8" stroke-opacity="0.7" stroke-width="0.9"/>
<line x1="375.03" y1="147.4" x2="375.03" y2="174.5" stroke="#c8c8c8" stroke-opacity="0.7" stroke-width="0.9"/>
<line x1="384.06" y1="147.4" x2="384.06" y2="174.5" stroke="#c8c8c8" stroke-opacity="0.7" stroke-width="0.9"/>
<line x1="393.09" y1="147.4" x2="393.09" y2="174.5" stroke="#c8c8c8" stroke-opacity="0.7" stroke-width="0.9"/>
<line x1="402.12" y1="147.4" x2="402.12" y2="174.5" stroke="#c8c8c8" stroke-opacity="0.7" stroke-width="0.9"/>
<line x1="411.15" y1="147.4" x2="411.15" y2="174.5" stroke="#c8c8c8" stroke-opacity="0.7" stroke-width="0.9"/>
<line x1="420.18" y1="147.4" x2="420.18" y2="174.5" stroke="#c8c8c8" stroke-opacity="0.7" stroke-width="0.9"/>
<line x1="429.21" y1="147.4" x2="429.21" y2="174.5" stroke="#c8c8c8" stroke-opacity="0.7" stroke-width="0.9"/>
<line x1="438.24" y1="147.4" x2="438.24" y2="174.5" stroke="#c8c8c8" stroke-opacity="0.7" stroke-width="0.9"/>
<line x1="447.27" y1="147.4" x2="447.27" y2="174.5" stroke="#c8c8c8" stroke-opacity="0.7" stroke-width="0.9"/>
<line x1="456.3" y1="147.4" x2="456.3" y2="174.5" stroke="#c8c8c8" stroke-opacity="0.7" stroke-width="0.9"/>
<line x1="465.33" y1="147.4" x2="465.33" y2="174.5" stroke="#c8c8c8" stroke-opacity="0.7" stroke-width="0.9"/>
<line x1="474.36" y1="147.4" x2="474.36" y2="174.5" stroke="#c8c8c8" stroke-opacity="0.7" stroke-width="0.9"/>
<line x1="483.39" y1="147.4" x2="483.39" y2="174.5" stroke="#c8c8c8" stroke-opacity="0.7" stroke-width="0.9"/>
<line x1="492.42" y1="147.4" x2="492.42" y2="174.5" stroke="#c8c8c8" stroke-opacity="0.7" stroke-width="0.9"/>
<line x1="501.45" y1="147.4" x2="501.45" y2="174.5" stroke="#c8c8c8" stroke-opacity="0.7" stroke-width="0.9"/>
<line x1="510.48" y1="147.4" x2="510.48" y2="174.5" stroke="#c8c8c8" stroke-opacity="0.7" stroke-width="0.9"/>
<line x1="519.51" y1="147.4" x2="519.51" y2="174.5" stroke="#c8c8c8" stroke-opacity="0.7" stroke-width="0.9"/>
<line x1="528.54" y1="147.4" x2="528.54" y2="174.5" stroke="#c8c8c8" stroke-opacity="0.7" stroke-width="0.9"/>
<line x1="537.57" y1="147.4" x2="537.57" y2="174.5" stroke="#c8c8c8" stroke-opacity="0.7" stroke-width="0.9"/>
<line x1="546.6" y1="147.4" x2="546.6" y2="174.5" stroke="#c8c8c8" stroke-opacity="0.7" stroke-width="0.9"/>
<line x1="555.63" y1="147.4" x2="555.63" y2="174.5" stroke="#c8c8c8" stroke-opacity="0.7" stroke-width="0.9"/>
<line x1="564.66" y1="147.4" x2="564.66" y2="174.5" stroke="#c8c8c8" stroke-opacity="0.7" stroke-width="0.9"/>
<line x1="573.69" y1="147.4" x2="573.69" y2="174.5" stroke="#c8c8c8" stroke-opacity="0.7" stroke-width="0.9"/>
<line x1="582.72" y1="147.4" x2="582.72" y2="174.5" stroke="#c8c8c8" stroke-opacity="0.7" stroke-width="0.9"/>
<line x1="591.75" y1="147.4" x2="591.75" y2="174.5" stroke="#c8c8c8" stroke-opacity="0.7" stroke-width="0.9"/>
<line x1="600.78" y1="147.4" x2="600.78" y2="174.5" stroke="#c8c8c8" stroke-opacity="0.7" stroke-width="0.9"/>
<line x1="609.81" y1="147.4" x2="609.81" y2="174.5" stroke="#c8c8c8" stroke-opacity="0.7" stroke-width="0.9"/>
<line x1="618.84" y1="147.4" x2="618.84" y2="174.5" stroke="#c8c8c8" stroke-opacity="0.7" stroke-width="0.9"/>
<line x1="627.87" y1="147.4" x2="627.87" y2="174.5" stroke="#c8c8c8" stroke-opacity="0.7" stroke-width="0.9"/>
<line x1="636.9" y1="147.4" x2="636.9" y2="174.5" stroke="#c8c8c8" stroke-opacity="0.7" stroke-width="0.9"/>
<line x1="645.93" y1="147.4" x2="645.93" y2="174.5" stroke="#c8c8c8" stroke-opacity="0.7" stroke-width="0.9"/>
<line x1="654.96" y1="147.4" x2="654.96" y2="174.5" stroke="#c8c8c8" stroke-opacity="0.7" stroke-width="0.9"/>
<line x1="663.99" y1="147.4" x2="663.99" y2="174.5" stroke="#c8c8c8" stroke-opacity="0.7" stroke-width="0.9"/>
<line x1="49.95" y1="147.4" x2="673.02" y2="147.4" stroke="#c8c8c8" stroke-opacity="0.7" stroke-width="0.9"/>
<line x1="49.95" y1="160.95" x2="673.02" y2="160.95" stroke="#c8c8c8" stroke-opacity="0.7" stroke-width="0.9"/>
<line x1="49.95" y1="174.5" x2="673.02" y2="174.5" stroke="#c8c8c8" stroke-opacity="0.7" stroke-width="0.9"/>
<rect x="49.95" y="19.6" width="623.07" height="154.9" fill="none" stroke="#8c8c8c" stroke-width="1"/>
<line x1="54.47" y1="16.8" x2="54.47" y2="19.6" stroke="#777" stroke-width="0.7"/>
<line x1="63.5" y1="16.8" x2="63.5" y2="19.6" stroke="#777" stroke-width="0.7"/>
<line x1="72.53" y1="16.8" x2="72.53" y2="19.6" stroke="#777" stroke-width="0.7"/>
<line x1="81.56" y1="16.8" x2="81.56" y2="19.6" stroke="#777" stroke-width="0.7"/>
<line x1="90.59" y1="16.8" x2="90.59" y2="19.6" stroke="#777" stroke-width="0.7"/>
<line x1="99.62" y1="16.8" x2="99.62" y2="19.6" stroke="#777" stroke-width="0.7"/>
<line x1="108.64" y1="16.8" x2="108.64" y2="19.6" stroke="#777" stroke-width="0.7"/>
<line x1="117.67" y1="16.8" x2="117.67" y2="19.6" stroke="#777" stroke-width="0.7"/>
<line x1="126.7" y1="16.8" x2="126.7" y2="19.6" stroke="#777" stroke-width="0.7"/>
<line x1="135.74" y1="16.8" x2="135.74" y2="19.6" stroke="#777" stroke-width="0.7"/>
<line x1="144.76" y1="16.8" x2="144.76" y2="19.6" stroke="#777" stroke-width="0.7"/>
<line x1="153.8" y1="16.8" x2="153.8" y2="19.6" stroke="#777" stroke-width="0.7"/>
<line x1="162.82" y1="16.8" x2="162.82" y2="19.6" stroke="#777" stroke-width="0.7"/>
<line x1="171.85" y1="16.8" x2="171.85" y2="19.6" stroke="#777" stroke-width="0.7"/>
<line x1="180.88" y1="16.8" x2="180.88" y2="19.6" stroke="#777" stroke-width="0.7"/>
<line x1="189.92" y1="16.8" x2="189.92" y2="19.6" stroke="#777" stroke-width="0.7"/>
<line x1="198.94" y1="16.8" x2="198.94" y2="19.6" stroke="#777" stroke-width="0.7"/>
<line x1="207.97" y1="16.8" x2="207.97" y2="19.6" stroke="#777" stroke-width="0.7"/>
<line x1="217" y1="16.8" x2="217" y2="19.6" stroke="#777" stroke-width="0.7"/>
<line x1="226.03" y1="16.8" x2="226.03" y2="19.6" stroke="#777" stroke-width="0.7"/>
<line x1="235.06" y1="16.8" x2="235.06" y2="19.6" stroke="#777" stroke-width="0.7"/>
<line x1="244.09" y1="16.8" x2="244.09" y2="19.6" stroke="#777" stroke-width="0.7"/>
<line x1="253.12" y1="16.8" x2="253.12" y2="19.6" stroke="#777" stroke-width="0.7"/>
<line x1="262.15" y1="16.8" x2="262.15" y2="19.6" stroke="#777" stroke-width="0.7"/>
<line x1="271.19" y1="16.8" x2="271.19" y2="19.6" stroke="#777" stroke-width="0.7"/>
<line x1="280.21" y1="16.8" x2="280.21" y2="19.6" stroke="#777" stroke-width="0.7"/>
<line x1="289.25" y1="16.8" x2="289.25" y2="19.6" stroke="#777" stroke-width="0.7"/>
<line x1="298.27" y1="16.8" x2="298.27" y2="19.6" stroke="#777" stroke-width="0.7"/>
<line x1="307.3" y1="16.8" x2="307.3" y2="19.6" stroke="#777" stroke-width="0.7"/>
<line x1="316.33" y1="16.8" x2="316.33" y2="19.6" stroke="#777" stroke-width="0.7"/>
<line x1="325.36" y1="16.8" x2="325.36" y2="19.6" stroke="#777" stroke-width="0.7"/>
<line x1="334.39" y1="16.8" x2="334.39" y2="19.6" stroke="#777" stroke-width="0.7"/>
<line x1="343.42" y1="16.8" x2="343.42" y2="19.6" stroke="#777" stroke-width="0.7"/>
<line x1="352.45" y1="16.8" x2="352.45" y2="19.6" stroke="#777" stroke-width="0.7"/>
<line x1="361.48" y1="16.8" x2="361.48" y2="19.6" stroke="#777" stroke-width="0.7"/>
<line x1="370.51" y1="16.8" x2="370.51" y2="19.6" stroke="#777" stroke-width="0.7"/>
<line x1="379.54" y1="16.8" x2="379.54" y2="19.6" stroke="#777" stroke-width="0.7"/>
<line x1="388.57" y1="16.8" x2="388.57" y2="19.6" stroke="#777" stroke-width="0.7"/>
<line x1="397.6" y1="16.8" x2="397.6" y2="19.6" stroke="#777" stroke-width="0.7"/>
<line x1="406.63" y1="16.8" x2="406.63" y2="19.6" stroke="#777" stroke-width="0.7"/>
<line x1="415.66" y1="16.8" x2="415.66" y2="19.6" stroke="#777" stroke-width="0.7"/>
<line x1="424.69" y1="16.8" x2="424.69" y2="19.6" stroke="#777" stroke-width="0.7"/>
<line x1="433.72" y1="16.8" x2="433.72" y2="19.6" stroke="#777" stroke-width="0.7"/>
<line x1="442.75" y1="16.8" x2="442.75" y2="19.6" stroke="#777" stroke-width="0.7"/>
<line x1="451.78" y1="16.8" x2="451.78" y2="19.6" stroke="#777" stroke-width="0.7"/>
<line x1="460.81" y1="16.8" x2="460.81" y2="19.6" stroke="#777" stroke-width="0.7"/>
<line x1="469.84" y1="16.8" x2="469.84" y2="19.6" stroke="#777" stroke-width="0.7"/>
<line x1="478.87" y1="16.8" x2="478.87" y2="19.6" stroke="#777" stroke-width="0.7"/>
<line x1="487.9" y1="16.8" x2="487.9" y2="19.6" stroke="#777" stroke-width="0.7"/>
<line x1="496.93" y1="16.8" x2="496.93" y2="19.6" stroke="#777" stroke-width="0.7"/>
<line x1="505.96" y1="16.8" x2="505.96" y2="19.6" stroke="#777" stroke-width="0.7"/>
<line x1="515" y1="16.8" x2="515" y2="19.6" stroke="#777" stroke-width="0.7"/>
<line x1="524.02" y1="16.8" x2="524.02" y2="19.6" stroke="#777" stroke-width="0.7"/>
<line x1="533.05" y1="16.8" x2="533.05" y2="19.6" stroke="#777" stroke-width="0.7"/>
<line x1="542.09" y1="16.8" x2="542.09" y2="19.6" stroke="#777" stroke-width="0.7"/>
<line x1="551.12" y1="16.8" x2="551.12" y2="19.6" stroke="#777" stroke-width="0.7"/>
<line x1="560.14" y1="16.8" x2="560.14" y2="19.6" stroke="#777" stroke-width="0.7"/>
<line x1="569.17" y1="16.8" x2="569.17" y2="19.6" stroke="#777" stroke-width="0.7"/>
<line x1="578.21" y1="16.8" x2="578.21" y2="19.6" stroke="#777" stroke-width="0.7"/>
<line x1="587.24" y1="16.8" x2="587.24" y2="19.6" stroke="#777" stroke-width="0.7"/>
<line x1="596.26" y1="16.8" x2="596.26" y2="19.6" stroke="#777" stroke-width="0.7"/>
<line x1="605.29" y1="16.8" x2="605.29" y2="19.6" stroke="#777" stroke-width="0.7"/>
<line x1="614.33" y1="16.8" x2="614.33" y2="19.6" stroke="#777" stroke-width="0.7"/>
<line x1="623.36" y1="16.8" x2="623.36" y2="19.6" stroke="#777" stroke-width="0.7"/>
<line x1="632.38" y1="16.8" x2="632.38" y2="19.6" stroke="#777" stroke-width="0.7"/>
<line x1="641.41" y1="16.8" x2="641.41" y2="19.6" stroke="#777" stroke-width="0.7"/>
<line x1="650.45" y1="16.8" x2="650.45" y2="19.6" stroke="#777" stroke-width="0.7"/>
<line x1="659.48" y1="16.8" x2="659.48" y2="19.6" stroke="#777" stroke-width="0.7"/>
<line x1="668.5" y1="16.8" x2="668.5" y2="19.6" stroke="#777" stroke-width="0.7"/>
<text transform="translate(57.82,14.9) rotate(-90) scale(0.96,1)" font-size="9.6" fill="#231f20">Z01</text>
<text transform="translate(66.84,14.9) rotate(-90) scale(0.96,1)" font-size="9.6" fill="#231f20">Z02</text>
<text transform="translate(75.88,14.9) rotate(-90) scale(0.96,1)" font-size="9.6" fill="#231f20">Z03</text>
<text transform="translate(84.91,14.9) rotate(-90) scale(0.96,1)" font-size="9.6" fill="#231f20">Z04</text>
<text transform="translate(93.94,14.9) rotate(-90) scale(0.96,1)" font-size="9.6" fill="#231f20">Z05</text>
<text transform="translate(102.97,14.9) rotate(-90) scale(0.96,1)" font-size="9.6" fill="#231f20">Z06</text>
<text transform="translate(111.99,14.9) rotate(-90) scale(0.96,1)" font-size="9.6" fill="#231f20">Z07</text>
<text transform="translate(121.02,14.9) rotate(-90) scale(0.96,1)" font-size="9.6" fill="#231f20">Z08</text>
<text transform="translate(130.06,14.9) rotate(-90) scale(0.96,1)" font-size="9.6" fill="#231f20">Z09</text>
<text transform="translate(139.09,14.9) rotate(-90) scale(0.96,1)" font-size="9.6" fill="#231f20">Z11</text>
<text transform="translate(148.11,14.9) rotate(-90) scale(0.96,1)" font-size="9.6" fill="#231f20">Z12</text>
<text transform="translate(157.15,14.9) rotate(-90) scale(0.96,1)" font-size="9.6" fill="#231f20">Z13</text>
<text transform="translate(166.17,14.9) rotate(-90) scale(0.96,1)" font-size="9.6" fill="#231f20">Z15</text>
<text transform="translate(175.2,14.9) rotate(-90) scale(0.96,1)" font-size="9.6" fill="#231f20">Z18</text>
<text transform="translate(184.23,14.9) rotate(-90) scale(0.96,1)" font-size="9.6" fill="#231f20">Z19</text>
<text transform="translate(193.27,14.9) rotate(-90) scale(0.96,1)" font-size="9.6" fill="#231f20">Z20</text>
<text transform="translate(202.29,14.9) rotate(-90) scale(0.96,1)" font-size="9.6" fill="#231f20">Z23</text>
<text transform="translate(211.32,14.9) rotate(-90) scale(0.96,1)" font-size="9.6" fill="#231f20">Z24</text>
<text transform="translate(220.35,14.9) rotate(-90) scale(0.96,1)" font-size="9.6" fill="#231f20">Z27</text>
<text transform="translate(229.38,14.9) rotate(-90) scale(0.96,1)" font-size="9.6" fill="#231f20">Z28</text>
<text transform="translate(238.41,14.9) rotate(-90) scale(0.96,1)" font-size="9.6" fill="#231f20">Z30</text>
<text transform="translate(247.44,14.9) rotate(-90) scale(0.96,1)" font-size="9.6" fill="#231f20">Z31</text>
<text transform="translate(256.48,14.9) rotate(-90) scale(0.96,1)" font-size="9.6" fill="#231f20">Z32</text>
<text transform="translate(265.5,14.9) rotate(-90) scale(0.96,1)" font-size="9.6" fill="#231f20">Z33</text>
<text transform="translate(274.54,14.9) rotate(-90) scale(0.96,1)" font-size="9.6" fill="#231f20">Z34</text>
<text transform="translate(283.56,14.9) rotate(-90) scale(0.96,1)" font-size="9.6" fill="#231f20">Z35</text>
<text transform="translate(292.6,14.9) rotate(-90) scale(0.96,1)" font-size="9.6" fill="#231f20">Z37</text>
<text transform="translate(301.62,14.9) rotate(-90) scale(0.96,1)" font-size="9.6" fill="#231f20">Z38</text>
<text transform="translate(310.65,14.9) rotate(-90) scale(0.96,1)" font-size="9.6" fill="#231f20">Z39</text>
<text transform="translate(319.69,14.9) rotate(-90) scale(0.96,1)" font-size="9.6" fill="#231f20">Z40</text>
<text transform="translate(328.71,14.9) rotate(-90) scale(0.96,1)" font-size="9.6" fill="#231f20">Z41</text>
<text transform="translate(337.75,14.9) rotate(-90) scale(0.96,1)" font-size="9.6" fill="#231f20">Z43</text>
<text transform="translate(346.77,14.9) rotate(-90) scale(0.96,1)" font-size="9.6" fill="#231f20">Z44</text>
<text transform="translate(355.81,14.9) rotate(-90) scale(0.96,1)" font-size="9.6" fill="#231f20">Z46</text>
<text transform="translate(364.83,14.9) rotate(-90) scale(0.96,1)" font-size="9.6" fill="#231f20">Z47</text>
<text transform="translate(373.87,14.9) rotate(-90) scale(0.96,1)" font-size="9.6" fill="#231f20">Z48</text>
<text transform="translate(382.89,14.9) rotate(-90) scale(0.96,1)" font-size="9.6" fill="#231f20">Z49</text>
<text transform="translate(391.93,14.9) rotate(-90) scale(0.96,1)" font-size="9.6" fill="#231f20">Z50</text>
<text transform="translate(400.95,14.9) rotate(-90) scale(0.96,1)" font-size="9.6" fill="#231f20">Z51</text>
<text transform="translate(409.99,14.9) rotate(-90) scale(0.96,1)" font-size="9.6" fill="#231f20">Z52</text>
<text transform="translate(419.01,14.9) rotate(-90) scale(0.96,1)" font-size="9.6" fill="#231f20">Z54</text>
<text transform="translate(428.04,14.9) rotate(-90) scale(0.96,1)" font-size="9.6" fill="#231f20">Z55</text>
<text transform="translate(437.07,14.9) rotate(-90) scale(0.96,1)" font-size="9.6" fill="#231f20">Z56</text>
<text transform="translate(446.1,14.9) rotate(-90) scale(0.96,1)" font-size="9.6" fill="#231f20">Z57</text>
<text transform="translate(455.13,14.9) rotate(-90) scale(0.96,1)" font-size="9.6" fill="#231f20">Z58</text>
<text transform="translate(464.16,14.9) rotate(-90) scale(0.96,1)" font-size="9.6" fill="#231f20">Z59</text>
<text transform="translate(473.19,14.9) rotate(-90) scale(0.96,1)" font-size="9.6" fill="#231f20">Z60</text>
<text transform="translate(482.22,14.9) rotate(-90) scale(0.96,1)" font-size="9.6" fill="#231f20">Z62</text>
<text transform="translate(491.25,14.9) rotate(-90) scale(0.96,1)" font-size="9.6" fill="#231f20">Z63</text>
<text transform="translate(500.28,14.9) rotate(-90) scale(0.96,1)" font-size="9.6" fill="#231f20">Z64</text>
<text transform="translate(509.31,14.9) rotate(-90) scale(0.96,1)" font-size="9.6" fill="#231f20">Z65</text>
<text transform="translate(518.35,14.9) rotate(-90) scale(0.96,1)" font-size="9.6" fill="#231f20">Z66</text>
<text transform="translate(527.38,14.9) rotate(-90) scale(0.96,1)" font-size="9.6" fill="#231f20">Z69</text>
<text transform="translate(536.4,14.9) rotate(-90) scale(0.96,1)" font-size="9.6" fill="#231f20">Z75</text>
<text transform="translate(545.44,14.9) rotate(-90) scale(0.96,1)" font-size="9.6" fill="#231f20">Z76</text>
<text transform="translate(554.47,14.9) rotate(-90) scale(0.96,1)" font-size="9.6" fill="#231f20">Z77</text>
<text transform="translate(563.5,14.9) rotate(-90) scale(0.96,1)" font-size="9.6" fill="#231f20">Z79</text>
<text transform="translate(572.52,14.9) rotate(-90) scale(0.96,1)" font-size="9.6" fill="#231f20">Z81</text>
<text transform="translate(581.56,14.9) rotate(-90) scale(0.96,1)" font-size="9.6" fill="#231f20">Z83</text>
<text transform="translate(590.59,14.9) rotate(-90) scale(0.96,1)" font-size="9.6" fill="#231f20">Z84</text>
<text transform="translate(599.62,14.9) rotate(-90) scale(0.96,1)" font-size="9.6" fill="#231f20">Z85</text>
<text transform="translate(608.64,14.9) rotate(-90) scale(0.96,1)" font-size="9.6" fill="#231f20">Z86</text>
<text transform="translate(617.68,14.9) rotate(-90) scale(0.96,1)" font-size="9.6" fill="#231f20">Z88</text>
<text transform="translate(626.71,14.9) rotate(-90) scale(0.96,1)" font-size="9.6" fill="#231f20">Z89</text>
<text transform="translate(635.74,14.9) rotate(-90) scale(0.96,1)" font-size="9.6" fill="#231f20">Z91</text>
<text transform="translate(644.76,14.9) rotate(-90) scale(0.96,1)" font-size="9.6" fill="#231f20">Z93</text>
<text transform="translate(653.8,14.9) rotate(-90) scale(0.96,1)" font-size="9.6" fill="#231f20">Z94</text>
<text transform="translate(662.83,14.9) rotate(-90) scale(0.96,1)" font-size="9.6" fill="#231f20">Z95</text>
<text transform="translate(671.86,14.9) rotate(-90) scale(0.96,1)" font-size="9.6" fill="#231f20">Z96</text>
<line x1="46.95" y1="26.38" x2="49.95" y2="26.38" stroke="#777" stroke-width="0.7"/>
<text x="46.85" y="28.98" font-size="10.4" text-anchor="end" fill="#231f20">Heart #1</text>
<line x1="46.95" y1="39.93" x2="49.95" y2="39.93" stroke="#777" stroke-width="0.7"/>
<text x="46.85" y="42.53" font-size="10.4" text-anchor="end" fill="#231f20">Heart #2</text>
<line x1="46.95" y1="58.32" x2="49.95" y2="58.32" stroke="#777" stroke-width="0.7"/>
<text x="46.85" y="60.92" font-size="10.4" text-anchor="end" fill="#231f20">Liver #1</text>
<line x1="46.95" y1="71.88" x2="49.95" y2="71.88" stroke="#777" stroke-width="0.7"/>
<text x="46.85" y="74.47" font-size="10.4" text-anchor="end" fill="#231f20">Liver #2</text>
<line x1="46.95" y1="90.28" x2="49.95" y2="90.28" stroke="#777" stroke-width="0.7"/>
<text x="46.85" y="92.88" font-size="10.4" text-anchor="end" fill="#231f20">Spleen #1</text>
<line x1="46.95" y1="103.83" x2="49.95" y2="103.83" stroke="#777" stroke-width="0.7"/>
<text x="46.85" y="106.42" font-size="10.4" text-anchor="end" fill="#231f20">Spleen #2</text>
<line x1="46.95" y1="122.22" x2="49.95" y2="122.22" stroke="#777" stroke-width="0.7"/>
<text x="46.85" y="124.82" font-size="10.4" text-anchor="end" fill="#231f20">Lung #1</text>
<line x1="46.95" y1="135.77" x2="49.95" y2="135.77" stroke="#777" stroke-width="0.7"/>
<text x="46.85" y="138.37" font-size="10.4" text-anchor="end" fill="#231f20">Lung #2</text>
<line x1="46.95" y1="154.18" x2="49.95" y2="154.18" stroke="#777" stroke-width="0.7"/>
<text x="46.85" y="156.78" font-size="10.4" text-anchor="end" fill="#231f20">Kidney #1</text>
<line x1="46.95" y1="167.73" x2="49.95" y2="167.73" stroke="#777" stroke-width="0.7"/>
<text x="46.85" y="170.33" font-size="10.4" text-anchor="end" fill="#231f20">Kidney #2</text>
<defs><linearGradient id="cba" x1="0" y1="0" x2="1" y2="0"><stop offset="0" stop-color="#2a88c8"/><stop offset="0.035" stop-color="#8cc0e4"/><stop offset="0.065" stop-color="#fdfdfd"/><stop offset="0.1" stop-color="#fef6f1"/><stop offset="0.36" stop-color="#fdd0b2"/><stop offset="0.5" stop-color="#fdbb90"/><stop offset="0.72" stop-color="#fb9a5c"/><stop offset="1" stop-color="#ff6e10"/></linearGradient></defs>
<rect x="323.3" y="181.5" width="150" height="8" fill="url(#cba)" stroke="#7a7a7a" stroke-width="0.9"/>
<line x1="377" y1="181.5" x2="377" y2="183.5" stroke="#555" stroke-width="0.8"/>
<line x1="377" y1="187.5" x2="377" y2="189.5" stroke="#555" stroke-width="0.8"/>
<line x1="377" y1="183.5" x2="377" y2="187.5" stroke="#888" stroke-width="0.5" stroke-dasharray="1,1.2"/>
<line x1="430.5" y1="181.5" x2="430.5" y2="183.5" stroke="#555" stroke-width="0.8"/>
<line x1="430.5" y1="187.5" x2="430.5" y2="189.5" stroke="#555" stroke-width="0.8"/>
<line x1="430.5" y1="183.5" x2="430.5" y2="187.5" stroke="#888" stroke-width="0.5" stroke-dasharray="1,1.2"/>
<text x="318.2" y="190.3" font-size="10.4" text-anchor="end" fill="#231f20">Enrichment Factor</text>
<text x="323.7" y="200.1" font-size="10.4" text-anchor="middle" fill="#231f20">0</text>
<text x="377.7" y="200.1" font-size="10.4" text-anchor="middle" fill="#231f20">5</text>
<text x="431" y="200.1" font-size="10.4" text-anchor="middle" fill="#231f20">10</text>
<text x="4.3" y="209" font-size="14" text-anchor="start" fill="#231f20" font-weight="bold">b</text>
<rect x="49.9" y="225.5" width="8.46" height="13.65" fill="#fdfcfc"/>
<rect x="58.31" y="225.5" width="8.46" height="13.65" fill="#fdf3f3"/>
<rect x="66.73" y="225.5" width="8.46" height="13.65" fill="#a8d8a8"/>
<rect x="75.14" y="225.5" width="8.46" height="13.65" fill="#fcd6d6"/>
<rect x="83.56" y="225.5" width="8.46" height="13.65" fill="#fdfcfc"/>
<rect x="91.97" y="225.5" width="8.46" height="13.65" fill="#a8d8a8"/>
<rect x="100.39" y="225.5" width="8.46" height="13.65" fill="#fde6e6"/>
<rect x="108.8" y="225.5" width="8.46" height="13.65" fill="#fdfcfc"/>
<rect x="117.22" y="225.5" width="8.46" height="13.65" fill="#82c482"/>
<rect x="125.63" y="225.5" width="8.46" height="13.65" fill="#5aaf5a"/>
<rect x="134.05" y="225.5" width="8.46" height="13.65" fill="#fdfcfc"/>
<rect x="142.47" y="225.5" width="8.46" height="13.65" fill="#fdf3f3"/>
<rect x="150.88" y="225.5" width="8.46" height="13.65" fill="#fdf3f3"/>
<rect x="159.29" y="225.5" width="8.46" height="13.65" fill="#e6f3e6"/>
<rect x="167.71" y="225.5" width="8.46" height="13.65" fill="#fdfcfc"/>
<rect x="176.12" y="225.5" width="8.46" height="13.65" fill="#fcd6d6"/>
<rect x="184.54" y="225.5" width="8.46" height="13.65" fill="#fde6e6"/>
<rect x="192.95" y="225.5" width="8.46" height="13.65" fill="#fdfcfc"/>
<rect x="201.37" y="225.5" width="8.46" height="13.65" fill="#fdf3f3"/>
<rect x="209.78" y="225.5" width="8.46" height="13.65" fill="#c8e6c8"/>
<rect x="218.2" y="225.5" width="8.46" height="13.65" fill="#82c482"/>
<rect x="226.61" y="225.5" width="8.46" height="13.65" fill="#fdfcfc"/>
<rect x="235.03" y="225.5" width="8.46" height="13.65" fill="#5aaf5a"/>
<rect x="243.44" y="225.5" width="8.46" height="13.65" fill="#c8e6c8"/>
<rect x="251.86" y="225.5" width="8.46" height="13.65" fill="#fdf3f3"/>
<rect x="260.27" y="225.5" width="8.46" height="13.65" fill="#fdfcfc"/>
<rect x="268.69" y="225.5" width="8.46" height="13.65" fill="#fdfcfc"/>
<rect x="277.1" y="225.5" width="8.46" height="13.65" fill="#a8d8a8"/>
<rect x="285.52" y="225.5" width="8.46" height="13.65" fill="#148a14"/>
<rect x="293.93" y="225.5" width="8.46" height="13.65" fill="#fdf3f3"/>
<rect x="302.35" y="225.5" width="8.46" height="13.65" fill="#e6f3e6"/>
<rect x="310.76" y="225.5" width="8.46" height="13.65" fill="#a8d8a8"/>
<rect x="319.18" y="225.5" width="8.46" height="13.65" fill="#fdfcfc"/>
<rect x="327.59" y="225.5" width="8.46" height="13.65" fill="#fdf3f3"/>
<rect x="336.01" y="225.5" width="8.46" height="13.65" fill="#fdf3f3"/>
<rect x="344.42" y="225.5" width="8.46" height="13.65" fill="#c8e6c8"/>
<rect x="352.84" y="225.5" width="8.46" height="13.65" fill="#fdf3f3"/>
<rect x="361.25" y="225.5" width="8.46" height="13.65" fill="#c8e6c8"/>
<rect x="369.67" y="225.5" width="8.46" height="13.65" fill="#5aaf5a"/>
<rect x="378.08" y="225.5" width="8.46" height="13.65" fill="#fdfcfc"/>
<rect x="386.5" y="225.5" width="8.46" height="13.65" fill="#fdf3f3"/>
<rect x="394.91" y="225.5" width="8.46" height="13.65" fill="#e6f3e6"/>
<rect x="403.33" y="225.5" width="8.46" height="13.65" fill="#fdf3f3"/>
<rect x="411.74" y="225.5" width="8.46" height="13.65" fill="#c8e6c8"/>
<rect x="420.16" y="225.5" width="8.46" height="13.65" fill="#fdf3f3"/>
<rect x="428.57" y="225.5" width="8.46" height="13.65" fill="#5aaf5a"/>
<rect x="436.99" y="225.5" width="8.46" height="13.65" fill="#fdf3f3"/>
<rect x="445.4" y="225.5" width="8.46" height="13.65" fill="#fdfcfc"/>
<rect x="453.82" y="225.5" width="8.46" height="13.65" fill="#fdf3f3"/>
<rect x="462.23" y="225.5" width="8.46" height="13.65" fill="#a8d8a8"/>
<rect x="470.65" y="225.5" width="8.46" height="13.65" fill="#fcd6d6"/>
<rect x="479.06" y="225.5" width="8.46" height="13.65" fill="#82c482"/>
<rect x="487.48" y="225.5" width="8.46" height="13.65" fill="#fdf3f3"/>
<rect x="495.89" y="225.5" width="8.46" height="13.65" fill="#fdf3f3"/>
<rect x="504.31" y="225.5" width="8.46" height="13.65" fill="#fdf3f3"/>
<rect x="512.72" y="225.5" width="8.46" height="13.65" fill="#a8d8a8"/>
<rect x="521.14" y="225.5" width="8.46" height="13.65" fill="#fde6e6"/>
<rect x="529.55" y="225.5" width="8.46" height="13.65" fill="#fdf3f3"/>
<rect x="537.97" y="225.5" width="8.46" height="13.65" fill="#fdf3f3"/>
<rect x="546.38" y="225.5" width="8.46" height="13.65" fill="#fdf3f3"/>
<rect x="554.8" y="225.5" width="8.46" height="13.65" fill="#fde6e6"/>
<rect x="563.21" y="225.5" width="8.46" height="13.65" fill="#e6f3e6"/>
<rect x="571.63" y="225.5" width="8.46" height="13.65" fill="#a8d8a8"/>
<rect x="580.04" y="225.5" width="8.46" height="13.65" fill="#fde6e6"/>
<rect x="588.46" y="225.5" width="8.46" height="13.65" fill="#fdf3f3"/>
<rect x="596.87" y="225.5" width="8.46" height="13.65" fill="#fde6e6"/>
<rect x="605.29" y="225.5" width="8.46" height="13.65" fill="#fdf3f3"/>
<rect x="613.7" y="225.5" width="8.46" height="13.65" fill="#fdf3f3"/>
<rect x="622.12" y="225.5" width="8.46" height="13.65" fill="#fdf3f3"/>
<rect x="630.53" y="225.5" width="8.46" height="13.65" fill="#fde6e6"/>
<rect x="638.95" y="225.5" width="8.46" height="13.65" fill="#fdfcfc"/>
<rect x="647.36" y="225.5" width="8.46" height="13.65" fill="#fdfcfc"/>
<rect x="655.78" y="225.5" width="8.46" height="13.65" fill="#fcd6d6"/>
<rect x="664.19" y="225.5" width="8.46" height="13.65" fill="#fdfcfc"/>
<rect x="49.9" y="239.1" width="8.46" height="13.65" fill="#fdfcfc"/>
<rect x="58.31" y="239.1" width="8.46" height="13.65" fill="#fde6e6"/>
<rect x="66.73" y="239.1" width="8.46" height="13.65" fill="#a8d8a8"/>
<rect x="75.14" y="239.1" width="8.46" height="13.65" fill="#fcd6d6"/>
<rect x="83.56" y="239.1" width="8.46" height="13.65" fill="#fdf3f3"/>
<rect x="91.97" y="239.1" width="8.46" height="13.65" fill="#82c482"/>
<rect x="100.39" y="239.1" width="8.46" height="13.65" fill="#fde6e6"/>
<rect x="108.8" y="239.1" width="8.46" height="13.65" fill="#fdfcfc"/>
<rect x="117.22" y="239.1" width="8.46" height="13.65" fill="#82c482"/>
<rect x="125.63" y="239.1" width="8.46" height="13.65" fill="#5aaf5a"/>
<rect x="134.05" y="239.1" width="8.46" height="13.65" fill="#fdfcfc"/>
<rect x="142.47" y="239.1" width="8.46" height="13.65" fill="#fdf3f3"/>
<rect x="150.88" y="239.1" width="8.46" height="13.65" fill="#fdfcfc"/>
<rect x="159.29" y="239.1" width="8.46" height="13.65" fill="#c8e6c8"/>
<rect x="167.71" y="239.1" width="8.46" height="13.65" fill="#fdfcfc"/>
<rect x="176.12" y="239.1" width="8.46" height="13.65" fill="#fcd6d6"/>
<rect x="184.54" y="239.1" width="8.46" height="13.65" fill="#fdf3f3"/>
<rect x="192.95" y="239.1" width="8.46" height="13.65" fill="#fdfcfc"/>
<rect x="201.37" y="239.1" width="8.46" height="13.65" fill="#fdfcfc"/>
<rect x="209.78" y="239.1" width="8.46" height="13.65" fill="#c8e6c8"/>
<rect x="218.2" y="239.1" width="8.46" height="13.65" fill="#82c482"/>
<rect x="226.61" y="239.1" width="8.46" height="13.65" fill="#fdfcfc"/>
<rect x="235.03" y="239.1" width="8.46" height="13.65" fill="#5aaf5a"/>
<rect x="243.44" y="239.1" width="8.46" height="13.65" fill="#a8d8a8"/>
<rect x="251.86" y="239.1" width="8.46" height="13.65" fill="#fdf3f3"/>
<rect x="260.27" y="239.1" width="8.46" height="13.65" fill="#fdfcfc"/>
<rect x="268.69" y="239.1" width="8.46" height="13.65" fill="#e6f3e6"/>
<rect x="277.1" y="239.1" width="8.46" height="13.65" fill="#a8d8a8"/>
<rect x="285.52" y="239.1" width="8.46" height="13.65" fill="#3a9a3a"/>
<rect x="293.93" y="239.1" width="8.46" height="13.65" fill="#fdf3f3"/>
<rect x="302.35" y="239.1" width="8.46" height="13.65" fill="#c8e6c8"/>
<rect x="310.76" y="239.1" width="8.46" height="13.65" fill="#82c482"/>
<rect x="319.18" y="239.1" width="8.46" height="13.65" fill="#fdfcfc"/>
<rect x="327.59" y="239.1" width="8.46" height="13.65" fill="#fdfcfc"/>
<rect x="336.01" y="239.1" width="8.46" height="13.65" fill="#fdf3f3"/>
<rect x="344.42" y="239.1" width="8.46" height="13.65" fill="#c8e6c8"/>
<rect x="352.84" y="239.1" width="8.46" height="13.65" fill="#fdfcfc"/>
<rect x="361.25" y="239.1" width="8.46" height="13.65" fill="#c8e6c8"/>
<rect x="369.67" y="239.1" width="8.46" height="13.65" fill="#5aaf5a"/>
<rect x="378.08" y="239.1" width="8.46" height="13.65" fill="#fdfcfc"/>
<rect x="386.5" y="239.1" width="8.46" height="13.65" fill="#fdf3f3"/>
<rect x="394.91" y="239.1" width="8.46" height="13.65" fill="#e6f3e6"/>
<rect x="403.33" y="239.1" width="8.46" height="13.65" fill="#fdfcfc"/>
<rect x="411.74" y="239.1" width="8.46" height="13.65" fill="#a8d8a8"/>
<rect x="420.16" y="239.1" width="8.46" height="13.65" fill="#fdfcfc"/>
<rect x="428.57" y="239.1" width="8.46" height="13.65" fill="#5aaf5a"/>
<rect x="436.99" y="239.1" width="8.46" height="13.65" fill="#fdfcfc"/>
<rect x="445.4" y="239.1" width="8.46" height="13.65" fill="#fdfcfc"/>
<rect x="453.82" y="239.1" width="8.46" height="13.65" fill="#fdf3f3"/>
<rect x="462.23" y="239.1" width="8.46" height="13.65" fill="#a8d8a8"/>
<rect x="470.65" y="239.1" width="8.46" height="13.65" fill="#fcd6d6"/>
<rect x="479.06" y="239.1" width="8.46" height="13.65" fill="#82c482"/>
<rect x="487.48" y="239.1" width="8.46" height="13.65" fill="#fdf3f3"/>
<rect x="495.89" y="239.1" width="8.46" height="13.65" fill="#fdf3f3"/>
<rect x="504.31" y="239.1" width="8.46" height="13.65" fill="#fdfcfc"/>
<rect x="512.72" y="239.1" width="8.46" height="13.65" fill="#a8d8a8"/>
<rect x="521.14" y="239.1" width="8.46" height="13.65" fill="#fde6e6"/>
<rect x="529.55" y="239.1" width="8.46" height="13.65" fill="#fdf3f3"/>
<rect x="537.97" y="239.1" width="8.46" height="13.65" fill="#fdf3f3"/>
<rect x="546.38" y="239.1" width="8.46" height="13.65" fill="#fdf3f3"/>
<rect x="554.8" y="239.1" width="8.46" height="13.65" fill="#fde6e6"/>
<rect x="563.21" y="239.1" width="8.46" height="13.65" fill="#e6f3e6"/>
<rect x="571.63" y="239.1" width="8.46" height="13.65" fill="#a8d8a8"/>
<rect x="580.04" y="239.1" width="8.46" height="13.65" fill="#fde6e6"/>
<rect x="588.46" y="239.1" width="8.46" height="13.65" fill="#fdf3f3"/>
<rect x="596.87" y="239.1" width="8.46" height="13.65" fill="#fcd6d6"/>
<rect x="605.29" y="239.1" width="8.46" height="13.65" fill="#fdf3f3"/>
<rect x="613.7" y="239.1" width="8.46" height="13.65" fill="#fdf3f3"/>
<rect x="622.12" y="239.1" width="8.46" height="13.65" fill="#fdfcfc"/>
<rect x="630.53" y="239.1" width="8.46" height="13.65" fill="#fde6e6"/>
<rect x="638.95" y="239.1" width="8.46" height="13.65" fill="#fdfcfc"/>
<rect x="647.36" y="239.1" width="8.46" height="13.65" fill="#fdf3f3"/>
<rect x="655.78" y="239.1" width="8.46" height="13.65" fill="#fcd6d6"/>
<rect x="664.19" y="239.1" width="8.46" height="13.65" fill="#fdfcfc"/>
<line x1="58.31" y1="225.5" x2="58.31" y2="252.7" stroke="#c8c8c8" stroke-opacity="0.7" stroke-width="0.9"/>
<line x1="66.73" y1="225.5" x2="66.73" y2="252.7" stroke="#c8c8c8" stroke-opacity="0.7" stroke-width="0.9"/>
<line x1="75.14" y1="225.5" x2="75.14" y2="252.7" stroke="#c8c8c8" stroke-opacity="0.7" stroke-width="0.9"/>
<line x1="83.56" y1="225.5" x2="83.56" y2="252.7" stroke="#c8c8c8" stroke-opacity="0.7" stroke-width="0.9"/>
<line x1="91.97" y1="225.5" x2="91.97" y2="252.7" stroke="#c8c8c8" stroke-opacity="0.7" stroke-width="0.9"/>
<line x1="100.39" y1="225.5" x2="100.39" y2="252.7" stroke="#c8c8c8" stroke-opacity="0.7" stroke-width="0.9"/>
<line x1="108.8" y1="225.5" x2="108.8" y2="252.7" stroke="#c8c8c8" stroke-opacity="0.7" stroke-width="0.9"/>
<line x1="117.22" y1="225.5" x2="117.22" y2="252.7" stroke="#c8c8c8" stroke-opacity="0.7" stroke-width="0.9"/>
<line x1="125.63" y1="225.5" x2="125.63" y2="252.7" stroke="#c8c8c8" stroke-opacity="0.7" stroke-width="0.9"/>
<line x1="134.05" y1="225.5" x2="134.05" y2="252.7" stroke="#c8c8c8" stroke-opacity="0.7" stroke-width="0.9"/>
<line x1="142.47" y1="225.5" x2="142.47" y2="252.7" stroke="#c8c8c8" stroke-opacity="0.7" stroke-width="0.9"/>
<line x1="150.88" y1="225.5" x2="150.88" y2="252.7" stroke="#c8c8c8" stroke-opacity="0.7" stroke-width="0.9"/>
<line x1="159.29" y1="225.5" x2="159.29" y2="252.7" stroke="#c8c8c8" stroke-opacity="0.7" stroke-width="0.9"/>
<line x1="167.71" y1="225.5" x2="167.71" y2="252.7" stroke="#c8c8c8" stroke-opacity="0.7" stroke-width="0.9"/>
<line x1="176.12" y1="225.5" x2="176.12" y2="252.7" stroke="#c8c8c8" stroke-opacity="0.7" stroke-width="0.9"/>
<line x1="184.54" y1="225.5" x2="184.54" y2="252.7" stroke="#c8c8c8" stroke-opacity="0.7" stroke-width="0.9"/>
<line x1="192.95" y1="225.5" x2="192.95" y2="252.7" stroke="#c8c8c8" stroke-opacity="0.7" stroke-width="0.9"/>
<line x1="201.37" y1="225.5" x2="201.37" y2="252.7" stroke="#c8c8c8" stroke-opacity="0.7" stroke-width="0.9"/>
<line x1="209.78" y1="225.5" x2="209.78" y2="252.7" stroke="#c8c8c8" stroke-opacity="0.7" stroke-width="0.9"/>
<line x1="218.2" y1="225.5" x2="218.2" y2="252.7" stroke="#c8c8c8" stroke-opacity="0.7" stroke-width="0.9"/>
<line x1="226.61" y1="225.5" x2="226.61" y2="252.7" stroke="#c8c8c8" stroke-opacity="0.7" stroke-width="0.9"/>
<line x1="235.03" y1="225.5" x2="235.03" y2="252.7" stroke="#c8c8c8" stroke-opacity="0.7" stroke-width="0.9"/>
<line x1="243.44" y1="225.5" x2="243.44" y2="252.7" stroke="#c8c8c8" stroke-opacity="0.7" stroke-width="0.9"/>
<line x1="251.86" y1="225.5" x2="251.86" y2="252.7" stroke="#c8c8c8" stroke-opacity="0.7" stroke-width="0.9"/>
<line x1="260.27" y1="225.5" x2="260.27" y2="252.7" stroke="#c8c8c8" stroke-opacity="0.7" stroke-width="0.9"/>
<line x1="268.69" y1="225.5" x2="268.69" y2="252.7" stroke="#c8c8c8" stroke-opacity="0.7" stroke-width="0.9"/>
<line x1="277.1" y1="225.5" x2="277.1" y2="252.7" stroke="#c8c8c8" stroke-opacity="0.7" stroke-width="0.9"/>
<line x1="285.52" y1="225.5" x2="285.52" y2="252.7" stroke="#c8c8c8" stroke-opacity="0.7" stroke-width="0.9"/>
<line x1="293.93" y1="225.5" x2="293.93" y2="252.7" stroke="#c8c8c8" stroke-opacity="0.7" stroke-width="0.9"/>
<line x1="302.35" y1="225.5" x2="302.35" y2="252.7" stroke="#c8c8c8" stroke-opacity="0.7" stroke-width="0.9"/>
<line x1="310.76" y1="225.5" x2="310.76" y2="252.7" stroke="#c8c8c8" stroke-opacity="0.7" stroke-width="0.9"/>
<line x1="319.18" y1="225.5" x2="319.18" y2="252.7" stroke="#c8c8c8" stroke-opacity="0.7" stroke-width="0.9"/>
<line x1="327.59" y1="225.5" x2="327.59" y2="252.7" stroke="#c8c8c8" stroke-opacity="0.7" stroke-width="0.9"/>
<line x1="336.01" y1="225.5" x2="336.01" y2="252.7" stroke="#c8c8c8" stroke-opacity="0.7" stroke-width="0.9"/>
<line x1="344.42" y1="225.5" x2="344.42" y2="252.7" stroke="#c8c8c8" stroke-opacity="0.7" stroke-width="0.9"/>
<line x1="352.84" y1="225.5" x2="352.84" y2="252.7" stroke="#c8c8c8" stroke-opacity="0.7" stroke-width="0.9"/>
<line x1="361.25" y1="225.5" x2="361.25" y2="252.7" stroke="#c8c8c8" stroke-opacity="0.7" stroke-width="0.9"/>
<line x1="369.67" y1="225.5" x2="369.67" y2="252.7" stroke="#c8c8c8" stroke-opacity="0.7" stroke-width="0.9"/>
<line x1="378.08" y1="225.5" x2="378.08" y2="252.7" stroke="#c8c8c8" stroke-opacity="0.7" stroke-width="0.9"/>
<line x1="386.5" y1="225.5" x2="386.5" y2="252.7" stroke="#c8c8c8" stroke-opacity="0.7" stroke-width="0.9"/>
<line x1="394.91" y1="225.5" x2="394.91" y2="252.7" stroke="#c8c8c8" stroke-opacity="0.7" stroke-width="0.9"/>
<line x1="403.33" y1="225.5" x2="403.33" y2="252.7" stroke="#c8c8c8" stroke-opacity="0.7" stroke-width="0.9"/>
<line x1="411.74" y1="225.5" x2="411.74" y2="252.7" stroke="#c8c8c8" stroke-opacity="0.7" stroke-width="0.9"/>
<line x1="420.16" y1="225.5" x2="420.16" y2="252.7" stroke="#c8c8c8" stroke-opacity="0.7" stroke-width="0.9"/>
<line x1="428.57" y1="225.5" x2="428.57" y2="252.7" stroke="#c8c8c8" stroke-opacity="0.7" stroke-width="0.9"/>
<line x1="436.99" y1="225.5" x2="436.99" y2="252.7" stroke="#c8c8c8" stroke-opacity="0.7" stroke-width="0.9"/>
<line x1="445.4" y1="225.5" x2="445.4" y2="252.7" stroke="#c8c8c8" stroke-opacity="0.7" stroke-width="0.9"/>
<line x1="453.82" y1="225.5" x2="453.82" y2="252.7" stroke="#c8c8c8" stroke-opacity="0.7" stroke-width="0.9"/>
<line x1="462.23" y1="225.5" x2="462.23" y2="252.7" stroke="#c8c8c8" stroke-opacity="0.7" stroke-width="0.9"/>
<line x1="470.65" y1="225.5" x2="470.65" y2="252.7" stroke="#c8c8c8" stroke-opacity="0.7" stroke-width="0.9"/>
<line x1="479.06" y1="225.5" x2="479.06" y2="252.7" stroke="#c8c8c8" stroke-opacity="0.7" stroke-width="0.9"/>
<line x1="487.48" y1="225.5" x2="487.48" y2="252.7" stroke="#c8c8c8" stroke-opacity="0.7" stroke-width="0.9"/>
<line x1="495.89" y1="225.5" x2="495.89" y2="252.7" stroke="#c8c8c8" stroke-opacity="0.7" stroke-width="0.9"/>
<line x1="504.31" y1="225.5" x2="504.31" y2="252.7" stroke="#c8c8c8" stroke-opacity="0.7" stroke-width="0.9"/>
<line x1="512.72" y1="225.5" x2="512.72" y2="252.7" stroke="#c8c8c8" stroke-opacity="0.7" stroke-width="0.9"/>
<line x1="521.14" y1="225.5" x2="521.14" y2="252.7" stroke="#c8c8c8" stroke-opacity="0.7" stroke-width="0.9"/>
<line x1="529.55" y1="225.5" x2="529.55" y2="252.7" stroke="#c8c8c8" stroke-opacity="0.7" stroke-width="0.9"/>
<line x1="537.97" y1="225.5" x2="537.97" y2="252.7" stroke="#c8c8c8" stroke-opacity="0.7" stroke-width="0.9"/>
<line x1="546.38" y1="225.5" x2="546.38" y2="252.7" stroke="#c8c8c8" stroke-opacity="0.7" stroke-width="0.9"/>
<line x1="554.8" y1="225.5" x2="554.8" y2="252.7" stroke="#c8c8c8" stroke-opacity="0.7" stroke-width="0.9"/>
<line x1="563.21" y1="225.5" x2="563.21" y2="252.7" stroke="#c8c8c8" stroke-opacity="0.7" stroke-width="0.9"/>
<line x1="571.63" y1="225.5" x2="571.63" y2="252.7" stroke="#c8c8c8" stroke-opacity="0.7" stroke-width="0.9"/>
<line x1="580.04" y1="225.5" x2="580.04" y2="252.7" stroke="#c8c8c8" stroke-opacity="0.7" stroke-width="0.9"/>
<line x1="588.46" y1="225.5" x2="588.46" y2="252.7" stroke="#c8c8c8" stroke-opacity="0.7" stroke-width="0.9"/>
<line x1="596.87" y1="225.5" x2="596.87" y2="252.7" stroke="#c8c8c8" stroke-opacity="0.7" stroke-width="0.9"/>
<line x1="605.29" y1="225.5" x2="605.29" y2="252.7" stroke="#c8c8c8" stroke-opacity="0.7" stroke-width="0.9"/>
<line x1="613.7" y1="225.5" x2="613.7" y2="252.7" stroke="#c8c8c8" stroke-opacity="0.7" stroke-width="0.9"/>
<line x1="622.12" y1="225.5" x2="622.12" y2="252.7" stroke="#c8c8c8" stroke-opacity="0.7" stroke-width="0.9"/>
<line x1="630.53" y1="225.5" x2="630.53" y2="252.7" stroke="#c8c8c8" stroke-opacity="0.7" stroke-width="0.9"/>
<line x1="638.95" y1="225.5" x2="638.95" y2="252.7" stroke="#c8c8c8" stroke-opacity="0.7" stroke-width="0.9"/>
<line x1="647.36" y1="225.5" x2="647.36" y2="252.7" stroke="#c8c8c8" stroke-opacity="0.7" stroke-width="0.9"/>
<line x1="655.78" y1="225.5" x2="655.78" y2="252.7" stroke="#c8c8c8" stroke-opacity="0.7" stroke-width="0.9"/>
<line x1="664.19" y1="225.5" x2="664.19" y2="252.7" stroke="#c8c8c8" stroke-opacity="0.7" stroke-width="0.9"/>
<line x1="49.9" y1="225.5" x2="672.61" y2="225.5" stroke="#c8c8c8" stroke-opacity="0.7" stroke-width="0.9"/>
<line x1="49.9" y1="239.1" x2="672.61" y2="239.1" stroke="#c8c8c8" stroke-opacity="0.7" stroke-width="0.9"/>
<line x1="49.9" y1="252.7" x2="672.61" y2="252.7" stroke="#c8c8c8" stroke-opacity="0.7" stroke-width="0.9"/>
<rect x="49.9" y="257.45" width="8.46" height="13.65" fill="#c8e6c8"/>
<rect x="58.31" y="257.45" width="8.46" height="13.65" fill="#fdfcfc"/>
<rect x="66.73" y="257.45" width="8.46" height="13.65" fill="#5aaf5a"/>
<rect x="75.14" y="257.45" width="8.46" height="13.65" fill="#fcd6d6"/>
<rect x="83.56" y="257.45" width="8.46" height="13.65" fill="#3a9a3a"/>
<rect x="91.97" y="257.45" width="8.46" height="13.65" fill="#148a14"/>
<rect x="100.39" y="257.45" width="8.46" height="13.65" fill="#fdf3f3"/>
<rect x="108.8" y="257.45" width="8.46" height="13.65" fill="#e6f3e6"/>
<rect x="117.22" y="257.45" width="8.46" height="13.65" fill="#148a14"/>
<rect x="125.63" y="257.45" width="8.46" height="13.65" fill="#3a9a3a"/>
<rect x="134.05" y="257.45" width="8.46" height="13.65" fill="#e6f3e6"/>
<rect x="142.47" y="257.45" width="8.46" height="13.65" fill="#fcd6d6"/>
<rect x="150.88" y="257.45" width="8.46" height="13.65" fill="#fdf3f3"/>
<rect x="159.29" y="257.45" width="8.46" height="13.65" fill="#82c482"/>
<rect x="167.71" y="257.45" width="8.46" height="13.65" fill="#e6f3e6"/>
<rect x="176.12" y="257.45" width="8.46" height="13.65" fill="#fcd6d6"/>
<rect x="184.54" y="257.45" width="8.46" height="13.65" fill="#fde6e6"/>
<rect x="192.95" y="257.45" width="8.46" height="13.65" fill="#fde6e6"/>
<rect x="201.37" y="257.45" width="8.46" height="13.65" fill="#fdf3f3"/>
<rect x="209.78" y="257.45" width="8.46" height="13.65" fill="#fdfcfc"/>
<rect x="218.2" y="257.45" width="8.46" height="13.65" fill="#3a9a3a"/>
<rect x="226.61" y="257.45" width="8.46" height="13.65" fill="#c8e6c8"/>
<rect x="235.03" y="257.45" width="8.46" height="13.65" fill="#148a14"/>
<rect x="243.44" y="257.45" width="8.46" height="13.65" fill="#3a9a3a"/>
<rect x="251.86" y="257.45" width="8.46" height="13.65" fill="#fcd6d6"/>
<rect x="260.27" y="257.45" width="8.46" height="13.65" fill="#fdf3f3"/>
<rect x="268.69" y="257.45" width="8.46" height="13.65" fill="#fdfcfc"/>
<rect x="277.1" y="257.45" width="8.46" height="13.65" fill="#3a9a3a"/>
<rect x="285.52" y="257.45" width="8.46" height="13.65" fill="#148a14"/>
<rect x="293.93" y="257.45" width="8.46" height="13.65" fill="#fdf3f3"/>
<rect x="302.35" y="257.45" width="8.46" height="13.65" fill="#a8d8a8"/>
<rect x="310.76" y="257.45" width="8.46" height="13.65" fill="#82c482"/>
<rect x="319.18" y="257.45" width="8.46" height="13.65" fill="#fdf3f3"/>
<rect x="327.59" y="257.45" width="8.46" height="13.65" fill="#fde6e6"/>
<rect x="336.01" y="257.45" width="8.46" height="13.65" fill="#82c482"/>
<rect x="344.42" y="257.45" width="8.46" height="13.65" fill="#82c482"/>
<rect x="352.84" y="257.45" width="8.46" height="13.65" fill="#fdfcfc"/>
<rect x="361.25" y="257.45" width="8.46" height="13.65" fill="#5aaf5a"/>
<rect x="369.67" y="257.45" width="8.46" height="13.65" fill="#148a14"/>
<rect x="378.08" y="257.45" width="8.46" height="13.65" fill="#e6f3e6"/>
<rect x="386.5" y="257.45" width="8.46" height="13.65" fill="#fdf3f3"/>
<rect x="394.91" y="257.45" width="8.46" height="13.65" fill="#148a14"/>
<rect x="403.33" y="257.45" width="8.46" height="13.65" fill="#fdfcfc"/>
<rect x="411.74" y="257.45" width="8.46" height="13.65" fill="#5aaf5a"/>
<rect x="420.16" y="257.45" width="8.46" height="13.65" fill="#fde6e6"/>
<rect x="428.57" y="257.45" width="8.46" height="13.65" fill="#148a14"/>
<rect x="436.99" y="257.45" width="8.46" height="13.65" fill="#fcd6d6"/>
<rect x="445.4" y="257.45" width="8.46" height="13.65" fill="#a8d8a8"/>
<rect x="453.82" y="257.45" width="8.46" height="13.65" fill="#fde6e6"/>
<rect x="462.23" y="257.45" width="8.46" height="13.65" fill="#e6f3e6"/>
<rect x="470.65" y="257.45" width="8.46" height="13.65" fill="#fdf3f3"/>
<rect x="479.06" y="257.45" width="8.46" height="13.65" fill="#3a9a3a"/>
<rect x="487.48" y="257.45" width="8.46" height="13.65" fill="#fdfcfc"/>
<rect x="495.89" y="257.45" width="8.46" height="13.65" fill="#fde6e6"/>
<rect x="504.31" y="257.45" width="8.46" height="13.65" fill="#c8e6c8"/>
<rect x="512.72" y="257.45" width="8.46" height="13.65" fill="#148a14"/>
<rect x="521.14" y="257.45" width="8.46" height="13.65" fill="#fcd6d6"/>
<rect x="529.55" y="257.45" width="8.46" height="13.65" fill="#fdfcfc"/>
<rect x="537.97" y="257.45" width="8.46" height="13.65" fill="#fdf3f3"/>
<rect x="546.38" y="257.45" width="8.46" height="13.65" fill="#fcd6d6"/>
<rect x="554.8" y="257.45" width="8.46" height="13.65" fill="#f58888"/>
<rect x="563.21" y="257.45" width="8.46" height="13.65" fill="#3a9a3a"/>
<rect x="571.63" y="257.45" width="8.46" height="13.65" fill="#fdf3f3"/>
<rect x="580.04" y="257.45" width="8.46" height="13.65" fill="#fdf3f3"/>
<rect x="588.46" y="257.45" width="8.46" height="13.65" fill="#fdf3f3"/>
<rect x="596.87" y="257.45" width="8.46" height="13.65" fill="#fdf3f3"/>
<rect x="605.29" y="257.45" width="8.46" height="13.65" fill="#fdf3f3"/>
<rect x="613.7" y="257.45" width="8.46" height="13.65" fill="#fde6e6"/>
<rect x="622.12" y="257.45" width="8.46" height="13.65" fill="#fdf3f3"/>
<rect x="630.53" y="257.45" width="8.46" height="13.65" fill="#f9b8b8"/>
<rect x="638.95" y="257.45" width="8.46" height="13.65" fill="#3a9a3a"/>
<rect x="647.36" y="257.45" width="8.46" height="13.65" fill="#5aaf5a"/>
<rect x="655.78" y="257.45" width="8.46" height="13.65" fill="#f9b8b8"/>
<rect x="664.19" y="257.45" width="8.46" height="13.65" fill="#fcd6d6"/>
<rect x="49.9" y="271.05" width="8.46" height="13.65" fill="#fdfcfc"/>
<rect x="58.31" y="271.05" width="8.46" height="13.65" fill="#a8d8a8"/>
<rect x="66.73" y="271.05" width="8.46" height="13.65" fill="#5aaf5a"/>
<rect x="75.14" y="271.05" width="8.46" height="13.65" fill="#fde6e6"/>
<rect x="83.56" y="271.05" width="8.46" height="13.65" fill="#3a9a3a"/>
<rect x="91.97" y="271.05" width="8.46" height="13.65" fill="#148a14"/>
<rect x="100.39" y="271.05" width="8.46" height="13.65" fill="#fdfcfc"/>
<rect x="108.8" y="271.05" width="8.46" height="13.65" fill="#a8d8a8"/>
<rect x="117.22" y="271.05" width="8.46" height="13.65" fill="#148a14"/>
<rect x="125.63" y="271.05" width="8.46" height="13.65" fill="#148a14"/>
<rect x="134.05" y="271.05" width="8.46" height="13.65" fill="#a8d8a8"/>
<rect x="142.47" y="271.05" width="8.46" height="13.65" fill="#fcd6d6"/>
<rect x="150.88" y="271.05" width="8.46" height="13.65" fill="#fde6e6"/>
<rect x="159.29" y="271.05" width="8.46" height="13.65" fill="#a8d8a8"/>
<rect x="167.71" y="271.05" width="8.46" height="13.65" fill="#a8d8a8"/>
<rect x="176.12" y="271.05" width="8.46" height="13.65" fill="#fdf3f3"/>
<rect x="184.54" y="271.05" width="8.46" height="13.65" fill="#fde6e6"/>
<rect x="192.95" y="271.05" width="8.46" height="13.65" fill="#fde6e6"/>
<rect x="201.37" y="271.05" width="8.46" height="13.65" fill="#fde6e6"/>
<rect x="209.78" y="271.05" width="8.46" height="13.65" fill="#e6f3e6"/>
<rect x="218.2" y="271.05" width="8.46" height="13.65" fill="#3a9a3a"/>
<rect x="226.61" y="271.05" width="8.46" height="13.65" fill="#82c482"/>
<rect x="235.03" y="271.05" width="8.46" height="13.65" fill="#148a14"/>
<rect x="243.44" y="271.05" width="8.46" height="13.65" fill="#3a9a3a"/>
<rect x="251.86" y="271.05" width="8.46" height="13.65" fill="#fcd6d6"/>
<rect x="260.27" y="271.05" width="8.46" height="13.65" fill="#fdf3f3"/>
<rect x="268.69" y="271.05" width="8.46" height="13.65" fill="#fdf3f3"/>
<rect x="277.1" y="271.05" width="8.46" height="13.65" fill="#3a9a3a"/>
<rect x="285.52" y="271.05" width="8.46" height="13.65" fill="#148a14"/>
<rect x="293.93" y="271.05" width="8.46" height="13.65" fill="#fdfcfc"/>
<rect x="302.35" y="271.05" width="8.46" height="13.65" fill="#a8d8a8"/>
<rect x="310.76" y="271.05" width="8.46" height="13.65" fill="#82c482"/>
<rect x="319.18" y="271.05" width="8.46" height="13.65" fill="#fdf3f3"/>
<rect x="327.59" y="271.05" width="8.46" height="13.65" fill="#fcd6d6"/>
<rect x="336.01" y="271.05" width="8.46" height="13.65" fill="#82c482"/>
<rect x="344.42" y="271.05" width="8.46" height="13.65" fill="#5aaf5a"/>
<rect x="352.84" y="271.05" width="8.46" height="13.65" fill="#fdf3f3"/>
<rect x="361.25" y="271.05" width="8.46" height="13.65" fill="#5aaf5a"/>
<rect x="369.67" y="271.05" width="8.46" height="13.65" fill="#148a14"/>
<rect x="378.08" y="271.05" width="8.46" height="13.65" fill="#e6f3e6"/>
<rect x="386.5" y="271.05" width="8.46" height="13.65" fill="#fdfcfc"/>
<rect x="394.91" y="271.05" width="8.46" height="13.65" fill="#148a14"/>
<rect x="403.33" y="271.05" width="8.46" height="13.65" fill="#fdfcfc"/>
<rect x="411.74" y="271.05" width="8.46" height="13.65" fill="#5aaf5a"/>
<rect x="420.16" y="271.05" width="8.46" height="13.65" fill="#fde6e6"/>
<rect x="428.57" y="271.05" width="8.46" height="13.65" fill="#148a14"/>
<rect x="436.99" y="271.05" width="8.46" height="13.65" fill="#fcd6d6"/>
<rect x="445.4" y="271.05" width="8.46" height="13.65" fill="#a8d8a8"/>
<rect x="453.82" y="271.05" width="8.46" height="13.65" fill="#fde6e6"/>
<rect x="462.23" y="271.05" width="8.46" height="13.65" fill="#fdfcfc"/>
<rect x="470.65" y="271.05" width="8.46" height="13.65" fill="#fdfcfc"/>
<rect x="479.06" y="271.05" width="8.46" height="13.65" fill="#3a9a3a"/>
<rect x="487.48" y="271.05" width="8.46" height="13.65" fill="#c8e6c8"/>
<rect x="495.89" y="271.05" width="8.46" height="13.65" fill="#fcd6d6"/>
<rect x="504.31" y="271.05" width="8.46" height="13.65" fill="#c8e6c8"/>
<rect x="512.72" y="271.05" width="8.46" height="13.65" fill="#148a14"/>
<rect x="521.14" y="271.05" width="8.46" height="13.65" fill="#fcd6d6"/>
<rect x="529.55" y="271.05" width="8.46" height="13.65" fill="#e6f3e6"/>
<rect x="537.97" y="271.05" width="8.46" height="13.65" fill="#fdf3f3"/>
<rect x="546.38" y="271.05" width="8.46" height="13.65" fill="#f9b8b8"/>
<rect x="554.8" y="271.05" width="8.46" height="13.65" fill="#f58888"/>
<rect x="563.21" y="271.05" width="8.46" height="13.65" fill="#5aaf5a"/>
<rect x="571.63" y="271.05" width="8.46" height="13.65" fill="#fdf3f3"/>
<rect x="580.04" y="271.05" width="8.46" height="13.65" fill="#fdf3f3"/>
<rect x="588.46" y="271.05" width="8.46" height="13.65" fill="#fdf3f3"/>
<rect x="596.87" y="271.05" width="8.46" height="13.65" fill="#fdf3f3"/>
<rect x="605.29" y="271.05" width="8.46" height="13.65" fill="#e6f3e6"/>
<rect x="613.7" y="271.05" width="8.46" height="13.65" fill="#fcd6d6"/>
<rect x="622.12" y="271.05" width="8.46" height="13.65" fill="#fdf3f3"/>
<rect x="630.53" y="271.05" width="8.46" height="13.65" fill="#f05858"/>
<rect x="638.95" y="271.05" width="8.46" height="13.65" fill="#3a9a3a"/>
<rect x="647.36" y="271.05" width="8.46" height="13.65" fill="#c8e6c8"/>
<rect x="655.78" y="271.05" width="8.46" height="13.65" fill="#f58888"/>
<rect x="664.19" y="271.05" width="8.46" height="13.65" fill="#fcd6d6"/>
<line x1="58.31" y1="257.45" x2="58.31" y2="284.65" stroke="#c8c8c8" stroke-opacity="0.7" stroke-width="0.9"/>
<line x1="66.73" y1="257.45" x2="66.73" y2="284.65" stroke="#c8c8c8" stroke-opacity="0.7" stroke-width="0.9"/>
<line x1="75.14" y1="257.45" x2="75.14" y2="284.65" stroke="#c8c8c8" stroke-opacity="0.7" stroke-width="0.9"/>
<line x1="83.56" y1="257.45" x2="83.56" y2="284.65" stroke="#c8c8c8" stroke-opacity="0.7" stroke-width="0.9"/>
<line x1="91.97" y1="257.45" x2="91.97" y2="284.65" stroke="#c8c8c8" stroke-opacity="0.7" stroke-width="0.9"/>
<line x1="100.39" y1="257.45" x2="100.39" y2="284.65" stroke="#c8c8c8" stroke-opacity="0.7" stroke-width="0.9"/>
<line x1="108.8" y1="257.45" x2="108.8" y2="284.65" stroke="#c8c8c8" stroke-opacity="0.7" stroke-width="0.9"/>
<line x1="117.22" y1="257.45" x2="117.22" y2="284.65" stroke="#c8c8c8" stroke-opacity="0.7" stroke-width="0.9"/>
<line x1="125.63" y1="257.45" x2="125.63" y2="284.65" stroke="#c8c8c8" stroke-opacity="0.7" stroke-width="0.9"/>
<line x1="134.05" y1="257.45" x2="134.05" y2="284.65" stroke="#c8c8c8" stroke-opacity="0.7" stroke-width="0.9"/>
<line x1="142.47" y1="257.45" x2="142.47" y2="284.65" stroke="#c8c8c8" stroke-opacity="0.7" stroke-width="0.9"/>
<line x1="150.88" y1="257.45" x2="150.88" y2="284.65" stroke="#c8c8c8" stroke-opacity="0.7" stroke-width="0.9"/>
<line x1="159.29" y1="257.45" x2="159.29" y2="284.65" stroke="#c8c8c8" stroke-opacity="0.7" stroke-width="0.9"/>
<line x1="167.71" y1="257.45" x2="167.71" y2="284.65" stroke="#c8c8c8" stroke-opacity="0.7" stroke-width="0.9"/>
<line x1="176.12" y1="257.45" x2="176.12" y2="284.65" stroke="#c8c8c8" stroke-opacity="0.7" stroke-width="0.9"/>
<line x1="184.54" y1="257.45" x2="184.54" y2="284.65" stroke="#c8c8c8" stroke-opacity="0.7" stroke-width="0.9"/>
<line x1="192.95" y1="257.45" x2="192.95" y2="284.65" stroke="#c8c8c8" stroke-opacity="0.7" stroke-width="0.9"/>
<line x1="201.37" y1="257.45" x2="201.37" y2="284.65" stroke="#c8c8c8" stroke-opacity="0.7" stroke-width="0.9"/>
<line x1="209.78" y1="257.45" x2="209.78" y2="284.65" stroke="#c8c8c8" stroke-opacity="0.7" stroke-width="0.9"/>
<line x1="218.2" y1="257.45" x2="218.2" y2="284.65" stroke="#c8c8c8" stroke-opacity="0.7" stroke-width="0.9"/>
<line x1="226.61" y1="257.45" x2="226.61" y2="284.65" stroke="#c8c8c8" stroke-opacity="0.7" stroke-width="0.9"/>
<line x1="235.03" y1="257.45" x2="235.03" y2="284.65" stroke="#c8c8c8" stroke-opacity="0.7" stroke-width="0.9"/>
<line x1="243.44" y1="257.45" x2="243.44" y2="284.65" stroke="#c8c8c8" stroke-opacity="0.7" stroke-width="0.9"/>
<line x1="251.86" y1="257.45" x2="251.86" y2="284.65" stroke="#c8c8c8" stroke-opacity="0.7" stroke-width="0.9"/>
<line x1="260.27" y1="257.45" x2="260.27" y2="284.65" stroke="#c8c8c8" stroke-opacity="0.7" stroke-width="0.9"/>
<line x1="268.69" y1="257.45" x2="268.69" y2="284.65" stroke="#c8c8c8" stroke-opacity="0.7" stroke-width="0.9"/>
<line x1="277.1" y1="257.45" x2="277.1" y2="284.65" stroke="#c8c8c8" stroke-opacity="0.7" stroke-width="0.9"/>
<line x1="285.52" y1="257.45" x2="285.52" y2="284.65" stroke="#c8c8c8" stroke-opacity="0.7" stroke-width="0.9"/>
<line x1="293.93" y1="257.45" x2="293.93" y2="284.65" stroke="#c8c8c8" stroke-opacity="0.7" stroke-width="0.9"/>
<line x1="302.35" y1="257.45" x2="302.35" y2="284.65" stroke="#c8c8c8" stroke-opacity="0.7" stroke-width="0.9"/>
<line x1="310.76" y1="257.45" x2="310.76" y2="284.65" stroke="#c8c8c8" stroke-opacity="0.7" stroke-width="0.9"/>
<line x1="319.18" y1="257.45" x2="319.18" y2="284.65" stroke="#c8c8c8" stroke-opacity="0.7" stroke-width="0.9"/>
<line x1="327.59" y1="257.45" x2="327.59" y2="284.65" stroke="#c8c8c8" stroke-opacity="0.7" stroke-width="0.9"/>
<line x1="336.01" y1="257.45" x2="336.01" y2="284.65" stroke="#c8c8c8" stroke-opacity="0.7" stroke-width="0.9"/>
<line x1="344.42" y1="257.45" x2="344.42" y2="284.65" stroke="#c8c8c8" stroke-opacity="0.7" stroke-width="0.9"/>
<line x1="352.84" y1="257.45" x2="352.84" y2="284.65" stroke="#c8c8c8" stroke-opacity="0.7" stroke-width="0.9"/>
<line x1="361.25" y1="257.45" x2="361.25" y2="284.65" stroke="#c8c8c8" stroke-opacity="0.7" stroke-width="0.9"/>
<line x1="369.67" y1="257.45" x2="369.67" y2="284.65" stroke="#c8c8c8" stroke-opacity="0.7" stroke-width="0.9"/>
<line x1="378.08" y1="257.45" x2="378.08" y2="284.65" stroke="#c8c8c8" stroke-opacity="0.7" stroke-width="0.9"/>
<line x1="386.5" y1="257.45" x2="386.5" y2="284.65" stroke="#c8c8c8" stroke-opacity="0.7" stroke-width="0.9"/>
<line x1="394.91" y1="257.45" x2="394.91" y2="284.65" stroke="#c8c8c8" stroke-opacity="0.7" stroke-width="0.9"/>
<line x1="403.33" y1="257.45" x2="403.33" y2="284.65" stroke="#c8c8c8" stroke-opacity="0.7" stroke-width="0.9"/>
<line x1="411.74" y1="257.45" x2="411.74" y2="284.65" stroke="#c8c8c8" stroke-opacity="0.7" stroke-width="0.9"/>
<line x1="420.16" y1="257.45" x2="420.16" y2="284.65" stroke="#c8c8c8" stroke-opacity="0.7" stroke-width="0.9"/>
<line x1="428.57" y1="257.45" x2="428.57" y2="284.65" stroke="#c8c8c8" stroke-opacity="0.7" stroke-width="0.9"/>
<line x1="436.99" y1="257.45" x2="436.99" y2="284.65" stroke="#c8c8c8" stroke-opacity="0.7" stroke-width="0.9"/>
<line x1="445.4" y1="257.45" x2="445.4" y2="284.65" stroke="#c8c8c8" stroke-opacity="0.7" stroke-width="0.9"/>
<line x1="453.82" y1="257.45" x2="453.82" y2="284.65" stroke="#c8c8c8" stroke-opacity="0.7" stroke-width="0.9"/>
<line x1="462.23" y1="257.45" x2="462.23" y2="284.65" stroke="#c8c8c8" stroke-opacity="0.7" stroke-width="0.9"/>
<line x1="470.65" y1="257.45" x2="470.65" y2="284.65" stroke="#c8c8c8" stroke-opacity="0.7" stroke-width="0.9"/>
<line x1="479.06" y1="257.45" x2="479.06" y2="284.65" stroke="#c8c8c8" stroke-opacity="0.7" stroke-width="0.9"/>
<line x1="487.48" y1="257.45" x2="487.48" y2="284.65" stroke="#c8c8c8" stroke-opacity="0.7" stroke-width="0.9"/>
<line x1="495.89" y1="257.45" x2="495.89" y2="284.65" stroke="#c8c8c8" stroke-opacity="0.7" stroke-width="0.9"/>
<line x1="504.31" y1="257.45" x2="504.31" y2="284.65" stroke="#c8c8c8" stroke-opacity="0.7" stroke-width="0.9"/>
<line x1="512.72" y1="257.45" x2="512.72" y2="284.65" stroke="#c8c8c8" stroke-opacity="0.7" stroke-width="0.9"/>
<line x1="521.14" y1="257.45" x2="521.14" y2="284.65" stroke="#c8c8c8" stroke-opacity="0.7" stroke-width="0.9"/>
<line x1="529.55" y1="257.45" x2="529.55" y2="284.65" stroke="#c8c8c8" stroke-opacity="0.7" stroke-width="0.9"/>
<line x1="537.97" y1="257.45" x2="537.97" y2="284.65" stroke="#c8c8c8" stroke-opacity="0.7" stroke-width="0.9"/>
<line x1="546.38" y1="257.45" x2="546.38" y2="284.65" stroke="#c8c8c8" stroke-opacity="0.7" stroke-width="0.9"/>
<line x1="554.8" y1="257.45" x2="554.8" y2="284.65" stroke="#c8c8c8" stroke-opacity="0.7" stroke-width="0.9"/>
<line x1="563.21" y1="257.45" x2="563.21" y2="284.65" stroke="#c8c8c8" stroke-opacity="0.7" stroke-width="0.9"/>
<line x1="571.63" y1="257.45" x2="571.63" y2="284.65" stroke="#c8c8c8" stroke-opacity="0.7" stroke-width="0.9"/>
<line x1="580.04" y1="257.45" x2="580.04" y2="284.65" stroke="#c8c8c8" stroke-opacity="0.7" stroke-width="0.9"/>
<line x1="588.46" y1="257.45" x2="588.46" y2="284.65" stroke="#c8c8c8" stroke-opacity="0.7" stroke-width="0.9"/>
<line x1="596.87" y1="257.45" x2="596.87" y2="284.65" stroke="#c8c8c8" stroke-opacity="0.7" stroke-width="0.9"/>
<line x1="605.29" y1="257.45" x2="605.29" y2="284.65" stroke="#c8c8c8" stroke-opacity="0.7" stroke-width="0.9"/>
<line x1="613.7" y1="257.45" x2="613.7" y2="284.65" stroke="#c8c8c8" stroke-opacity="0.7" stroke-width="0.9"/>
<line x1="622.12" y1="257.45" x2="622.12" y2="284.65" stroke="#c8c8c8" stroke-opacity="0.7" stroke-width="0.9"/>
<line x1="630.53" y1="257.45" x2="630.53" y2="284.65" stroke="#c8c8c8" stroke-opacity="0.7" stroke-width="0.9"/>
<line x1="638.95" y1="257.45" x2="638.95" y2="284.65" stroke="#c8c8c8" stroke-opacity="0.7" stroke-width="0.9"/>
<line x1="647.36" y1="257.45" x2="647.36" y2="284.65" stroke="#c8c8c8" stroke-opacity="0.7" stroke-width="0.9"/>
<line x1="655.78" y1="257.45" x2="655.78" y2="284.65" stroke="#c8c8c8" stroke-opacity="0.7" stroke-width="0.9"/>
<line x1="664.19" y1="257.45" x2="664.19" y2="284.65" stroke="#c8c8c8" stroke-opacity="0.7" stroke-width="0.9"/>
<line x1="49.9" y1="257.45" x2="672.61" y2="257.45" stroke="#c8c8c8" stroke-opacity="0.7" stroke-width="0.9"/>
<line x1="49.9" y1="271.05" x2="672.61" y2="271.05" stroke="#c8c8c8" stroke-opacity="0.7" stroke-width="0.9"/>
<line x1="49.9" y1="284.65" x2="672.61" y2="284.65" stroke="#c8c8c8" stroke-opacity="0.7" stroke-width="0.9"/>
<rect x="49.9" y="289.4" width="8.46" height="13.65" fill="#fdf3f3"/>
<rect x="58.31" y="289.4" width="8.46" height="13.65" fill="#fdfcfc"/>
<rect x="66.73" y="289.4" width="8.46" height="13.65" fill="#5aaf5a"/>
<rect x="75.14" y="289.4" width="8.46" height="13.65" fill="#fde6e6"/>
<rect x="83.56" y="289.4" width="8.46" height="13.65" fill="#a8d8a8"/>
<rect x="91.97" y="289.4" width="8.46" height="13.65" fill="#5aaf5a"/>
<rect x="100.39" y="289.4" width="8.46" height="13.65" fill="#fde6e6"/>
<rect x="108.8" y="289.4" width="8.46" height="13.65" fill="#c8e6c8"/>
<rect x="117.22" y="289.4" width="8.46" height="13.65" fill="#5aaf5a"/>
<rect x="125.63" y="289.4" width="8.46" height="13.65" fill="#5aaf5a"/>
<rect x="134.05" y="289.4" width="8.46" height="13.65" fill="#fdfcfc"/>
<rect x="142.47" y="289.4" width="8.46" height="13.65" fill="#fdf3f3"/>
<rect x="150.88" y="289.4" width="8.46" height="13.65" fill="#fdf3f3"/>
<rect x="159.29" y="289.4" width="8.46" height="13.65" fill="#fdf3f3"/>
<rect x="167.71" y="289.4" width="8.46" height="13.65" fill="#fdf3f3"/>
<rect x="176.12" y="289.4" width="8.46" height="13.65" fill="#fde6e6"/>
<rect x="184.54" y="289.4" width="8.46" height="13.65" fill="#fcd6d6"/>
<rect x="192.95" y="289.4" width="8.46" height="13.65" fill="#fdf3f3"/>
<rect x="201.37" y="289.4" width="8.46" height="13.65" fill="#fde6e6"/>
<rect x="209.78" y="289.4" width="8.46" height="13.65" fill="#fdfcfc"/>
<rect x="218.2" y="289.4" width="8.46" height="13.65" fill="#5aaf5a"/>
<rect x="226.61" y="289.4" width="8.46" height="13.65" fill="#e6f3e6"/>
<rect x="235.03" y="289.4" width="8.46" height="13.65" fill="#5aaf5a"/>
<rect x="243.44" y="289.4" width="8.46" height="13.65" fill="#c8e6c8"/>
<rect x="251.86" y="289.4" width="8.46" height="13.65" fill="#fde6e6"/>
<rect x="260.27" y="289.4" width="8.46" height="13.65" fill="#fdf3f3"/>
<rect x="268.69" y="289.4" width="8.46" height="13.65" fill="#fdf3f3"/>
<rect x="277.1" y="289.4" width="8.46" height="13.65" fill="#5aaf5a"/>
<rect x="285.52" y="289.4" width="8.46" height="13.65" fill="#5aaf5a"/>
<rect x="293.93" y="289.4" width="8.46" height="13.65" fill="#fdf3f3"/>
<rect x="302.35" y="289.4" width="8.46" height="13.65" fill="#c8e6c8"/>
<rect x="310.76" y="289.4" width="8.46" height="13.65" fill="#e6f3e6"/>
<rect x="319.18" y="289.4" width="8.46" height="13.65" fill="#fdf3f3"/>
<rect x="327.59" y="289.4" width="8.46" height="13.65" fill="#fdf3f3"/>
<rect x="336.01" y="289.4" width="8.46" height="13.65" fill="#a8d8a8"/>
<rect x="344.42" y="289.4" width="8.46" height="13.65" fill="#a8d8a8"/>
<rect x="352.84" y="289.4" width="8.46" height="13.65" fill="#fdf3f3"/>
<rect x="361.25" y="289.4" width="8.46" height="13.65" fill="#e6f3e6"/>
<rect x="369.67" y="289.4" width="8.46" height="13.65" fill="#82c482"/>
<rect x="378.08" y="289.4" width="8.46" height="13.65" fill="#fdf3f3"/>
<rect x="386.5" y="289.4" width="8.46" height="13.65" fill="#fdfcfc"/>
<rect x="394.91" y="289.4" width="8.46" height="13.65" fill="#82c482"/>
<rect x="403.33" y="289.4" width="8.46" height="13.65" fill="#fdf3f3"/>
<rect x="411.74" y="289.4" width="8.46" height="13.65" fill="#82c482"/>
<rect x="420.16" y="289.4" width="8.46" height="13.65" fill="#fcd6d6"/>
<rect x="428.57" y="289.4" width="8.46" height="13.65" fill="#3a9a3a"/>
<rect x="436.99" y="289.4" width="8.46" height="13.65" fill="#fde6e6"/>
<rect x="445.4" y="289.4" width="8.46" height="13.65" fill="#fdfcfc"/>
<rect x="453.82" y="289.4" width="8.46" height="13.65" fill="#fcd6d6"/>
<rect x="462.23" y="289.4" width="8.46" height="13.65" fill="#fdfcfc"/>
<rect x="470.65" y="289.4" width="8.46" height="13.65" fill="#fdf3f3"/>
<rect x="479.06" y="289.4" width="8.46" height="13.65" fill="#82c482"/>
<rect x="487.48" y="289.4" width="8.46" height="13.65" fill="#fcd6d6"/>
<rect x="495.89" y="289.4" width="8.46" height="13.65" fill="#fcd6d6"/>
<rect x="504.31" y="289.4" width="8.46" height="13.65" fill="#fdfcfc"/>
<rect x="512.72" y="289.4" width="8.46" height="13.65" fill="#82c482"/>
<rect x="521.14" y="289.4" width="8.46" height="13.65" fill="#fcd6d6"/>
<rect x="529.55" y="289.4" width="8.46" height="13.65" fill="#fdf3f3"/>
<rect x="537.97" y="289.4" width="8.46" height="13.65" fill="#fde6e6"/>
<rect x="546.38" y="289.4" width="8.46" height="13.65" fill="#fcd6d6"/>
<rect x="554.8" y="289.4" width="8.46" height="13.65" fill="#f9b8b8"/>
<rect x="563.21" y="289.4" width="8.46" height="13.65" fill="#fdfcfc"/>
<rect x="571.63" y="289.4" width="8.46" height="13.65" fill="#fdfcfc"/>
<rect x="580.04" y="289.4" width="8.46" height="13.65" fill="#fde6e6"/>
<rect x="588.46" y="289.4" width="8.46" height="13.65" fill="#fde6e6"/>
<rect x="596.87" y="289.4" width="8.46" height="13.65" fill="#fdf3f3"/>
<rect x="605.29" y="289.4" width="8.46" height="13.65" fill="#fde6e6"/>
<rect x="613.7" y="289.4" width="8.46" height="13.65" fill="#fde6e6"/>
<rect x="622.12" y="289.4" width="8.46" height="13.65" fill="#fdfcfc"/>
<rect x="630.53" y="289.4" width="8.46" height="13.65" fill="#fde6e6"/>
<rect x="638.95" y="289.4" width="8.46" height="13.65" fill="#a8d8a8"/>
<rect x="647.36" y="289.4" width="8.46" height="13.65" fill="#fdf3f3"/>
<rect x="655.78" y="289.4" width="8.46" height="13.65" fill="#fdf3f3"/>
<rect x="664.19" y="289.4" width="8.46" height="13.65" fill="#fdf3f3"/>
<rect x="49.9" y="303" width="8.46" height="13.65" fill="#fdf3f3"/>
<rect x="58.31" y="303" width="8.46" height="13.65" fill="#fdfcfc"/>
<rect x="66.73" y="303" width="8.46" height="13.65" fill="#82c482"/>
<rect x="75.14" y="303" width="8.46" height="13.65" fill="#fde6e6"/>
<rect x="83.56" y="303" width="8.46" height="13.65" fill="#c8e6c8"/>
<rect x="91.97" y="303" width="8.46" height="13.65" fill="#5aaf5a"/>
<rect x="100.39" y="303" width="8.46" height="13.65" fill="#fde6e6"/>
<rect x="108.8" y="303" width="8.46" height="13.65" fill="#e6f3e6"/>
<rect x="117.22" y="303" width="8.46" height="13.65" fill="#a8d8a8"/>
<rect x="125.63" y="303" width="8.46" height="13.65" fill="#5aaf5a"/>
<rect x="134.05" y="303" width="8.46" height="13.65" fill="#fdfcfc"/>
<rect x="142.47" y="303" width="8.46" height="13.65" fill="#fdf3f3"/>
<rect x="150.88" y="303" width="8.46" height="13.65" fill="#fdf3f3"/>
<rect x="159.29" y="303" width="8.46" height="13.65" fill="#fdfcfc"/>
<rect x="167.71" y="303" width="8.46" height="13.65" fill="#fdfcfc"/>
<rect x="176.12" y="303" width="8.46" height="13.65" fill="#fde6e6"/>
<rect x="184.54" y="303" width="8.46" height="13.65" fill="#fde6e6"/>
<rect x="192.95" y="303" width="8.46" height="13.65" fill="#fdf3f3"/>
<rect x="201.37" y="303" width="8.46" height="13.65" fill="#fdf3f3"/>
<rect x="209.78" y="303" width="8.46" height="13.65" fill="#fdfcfc"/>
<rect x="218.2" y="303" width="8.46" height="13.65" fill="#5aaf5a"/>
<rect x="226.61" y="303" width="8.46" height="13.65" fill="#e6f3e6"/>
<rect x="235.03" y="303" width="8.46" height="13.65" fill="#5aaf5a"/>
<rect x="243.44" y="303" width="8.46" height="13.65" fill="#e6f3e6"/>
<rect x="251.86" y="303" width="8.46" height="13.65" fill="#fde6e6"/>
<rect x="260.27" y="303" width="8.46" height="13.65" fill="#fdf3f3"/>
<rect x="268.69" y="303" width="8.46" height="13.65" fill="#fdf3f3"/>
<rect x="277.1" y="303" width="8.46" height="13.65" fill="#82c482"/>
<rect x="285.52" y="303" width="8.46" height="13.65" fill="#5aaf5a"/>
<rect x="293.93" y="303" width="8.46" height="13.65" fill="#fdf3f3"/>
<rect x="302.35" y="303" width="8.46" height="13.65" fill="#fdfcfc"/>
<rect x="310.76" y="303" width="8.46" height="13.65" fill="#c8e6c8"/>
<rect x="319.18" y="303" width="8.46" height="13.65" fill="#fdf3f3"/>
<rect x="327.59" y="303" width="8.46" height="13.65" fill="#fdf3f3"/>
<rect x="336.01" y="303" width="8.46" height="13.65" fill="#c8e6c8"/>
<rect x="344.42" y="303" width="8.46" height="13.65" fill="#c8e6c8"/>
<rect x="352.84" y="303" width="8.46" height="13.65" fill="#fdf3f3"/>
<rect x="361.25" y="303" width="8.46" height="13.65" fill="#e6f3e6"/>
<rect x="369.67" y="303" width="8.46" height="13.65" fill="#82c482"/>
<rect x="378.08" y="303" width="8.46" height="13.65" fill="#fdfcfc"/>
<rect x="386.5" y="303" width="8.46" height="13.65" fill="#fdf3f3"/>
<rect x="394.91" y="303" width="8.46" height="13.65" fill="#a8d8a8"/>
<rect x="403.33" y="303" width="8.46" height="13.65" fill="#fdf3f3"/>
<rect x="411.74" y="303" width="8.46" height="13.65" fill="#a8d8a8"/>
<rect x="420.16" y="303" width="8.46" height="13.65" fill="#fcd6d6"/>
<rect x="428.57" y="303" width="8.46" height="13.65" fill="#3a9a3a"/>
<rect x="436.99" y="303" width="8.46" height="13.65" fill="#fde6e6"/>
<rect x="445.4" y="303" width="8.46" height="13.65" fill="#fdfcfc"/>
<rect x="453.82" y="303" width="8.46" height="13.65" fill="#fcd6d6"/>
<rect x="462.23" y="303" width="8.46" height="13.65" fill="#fdfcfc"/>
<rect x="470.65" y="303" width="8.46" height="13.65" fill="#fdf3f3"/>
<rect x="479.06" y="303" width="8.46" height="13.65" fill="#a8d8a8"/>
<rect x="487.48" y="303" width="8.46" height="13.65" fill="#fcd6d6"/>
<rect x="495.89" y="303" width="8.46" height="13.65" fill="#fcd6d6"/>
<rect x="504.31" y="303" width="8.46" height="13.65" fill="#e6f3e6"/>
<rect x="512.72" y="303" width="8.46" height="13.65" fill="#a8d8a8"/>
<rect x="521.14" y="303" width="8.46" height="13.65" fill="#fcd6d6"/>
<rect x="529.55" y="303" width="8.46" height="13.65" fill="#fdf3f3"/>
<rect x="537.97" y="303" width="8.46" height="13.65" fill="#fde6e6"/>
<rect x="546.38" y="303" width="8.46" height="13.65" fill="#fcd6d6"/>
<rect x="554.8" y="303" width="8.46" height="13.65" fill="#f9b8b8"/>
<rect x="563.21" y="303" width="8.46" height="13.65" fill="#fdfcfc"/>
<rect x="571.63" y="303" width="8.46" height="13.65" fill="#e6f3e6"/>
<rect x="580.04" y="303" width="8.46" height="13.65" fill="#fde6e6"/>
<rect x="588.46" y="303" width="8.46" height="13.65" fill="#fde6e6"/>
<rect x="596.87" y="303" width="8.46" height="13.65" fill="#fdf3f3"/>
<rect x="605.29" y="303" width="8.46" height="13.65" fill="#fde6e6"/>
<rect x="613.7" y="303" width="8.46" height="13.65" fill="#fde6e6"/>
<rect x="622.12" y="303" width="8.46" height="13.65" fill="#fdfcfc"/>
<rect x="630.53" y="303" width="8.46" height="13.65" fill="#fde6e6"/>
<rect x="638.95" y="303" width="8.46" height="13.65" fill="#e6f3e6"/>
<rect x="647.36" y="303" width="8.46" height="13.65" fill="#fdf3f3"/>
<rect x="655.78" y="303" width="8.46" height="13.65" fill="#fde6e6"/>
<rect x="664.19" y="303" width="8.46" height="13.65" fill="#fdf3f3"/>
<line x1="58.31" y1="289.4" x2="58.31" y2="316.6" stroke="#c8c8c8" stroke-opacity="0.7" stroke-width="0.9"/>
<line x1="66.73" y1="289.4" x2="66.73" y2="316.6" stroke="#c8c8c8" stroke-opacity="0.7" stroke-width="0.9"/>
<line x1="75.14" y1="289.4" x2="75.14" y2="316.6" stroke="#c8c8c8" stroke-opacity="0.7" stroke-width="0.9"/>
<line x1="83.56" y1="289.4" x2="83.56" y2="316.6" stroke="#c8c8c8" stroke-opacity="0.7" stroke-width="0.9"/>
<line x1="91.97" y1="289.4" x2="91.97" y2="316.6" stroke="#c8c8c8" stroke-opacity="0.7" stroke-width="0.9"/>
<line x1="100.39" y1="289.4" x2="100.39" y2="316.6" stroke="#c8c8c8" stroke-opacity="0.7" stroke-width="0.9"/>
<line x1="108.8" y1="289.4" x2="108.8" y2="316.6" stroke="#c8c8c8" stroke-opacity="0.7" stroke-width="0.9"/>
<line x1="117.22" y1="289.4" x2="117.22" y2="316.6" stroke="#c8c8c8" stroke-opacity="0.7" stroke-width="0.9"/>
<line x1="125.63" y1="289.4" x2="125.63" y2="316.6" stroke="#c8c8c8" stroke-opacity="0.7" stroke-width="0.9"/>
<line x1="134.05" y1="289.4" x2="134.05" y2="316.6" stroke="#c8c8c8" stroke-opacity="0.7" stroke-width="0.9"/>
<line x1="142.47" y1="289.4" x2="142.47" y2="316.6" stroke="#c8c8c8" stroke-opacity="0.7" stroke-width="0.9"/>
<line x1="150.88" y1="289.4" x2="150.88" y2="316.6" stroke="#c8c8c8" stroke-opacity="0.7" stroke-width="0.9"/>
<line x1="159.29" y1="289.4" x2="159.29" y2="316.6" stroke="#c8c8c8" stroke-opacity="0.7" stroke-width="0.9"/>
<line x1="167.71" y1="289.4" x2="167.71" y2="316.6" stroke="#c8c8c8" stroke-opacity="0.7" stroke-width="0.9"/>
<line x1="176.12" y1="289.4" x2="176.12" y2="316.6" stroke="#c8c8c8" stroke-opacity="0.7" stroke-width="0.9"/>
<line x1="184.54" y1="289.4" x2="184.54" y2="316.6" stroke="#c8c8c8" stroke-opacity="0.7" stroke-width="0.9"/>
<line x1="192.95" y1="289.4" x2="192.95" y2="316.6" stroke="#c8c8c8" stroke-opacity="0.7" stroke-width="0.9"/>
<line x1="201.37" y1="289.4" x2="201.37" y2="316.6" stroke="#c8c8c8" stroke-opacity="0.7" stroke-width="0.9"/>
<line x1="209.78" y1="289.4" x2="209.78" y2="316.6" stroke="#c8c8c8" stroke-opacity="0.7" stroke-width="0.9"/>
<line x1="218.2" y1="289.4" x2="218.2" y2="316.6" stroke="#c8c8c8" stroke-opacity="0.7" stroke-width="0.9"/>
<line x1="226.61" y1="289.4" x2="226.61" y2="316.6" stroke="#c8c8c8" stroke-opacity="0.7" stroke-width="0.9"/>
<line x1="235.03" y1="289.4" x2="235.03" y2="316.6" stroke="#c8c8c8" stroke-opacity="0.7" stroke-width="0.9"/>
<line x1="243.44" y1="289.4" x2="243.44" y2="316.6" stroke="#c8c8c8" stroke-opacity="0.7" stroke-width="0.9"/>
<line x1="251.86" y1="289.4" x2="251.86" y2="316.6" stroke="#c8c8c8" stroke-opacity="0.7" stroke-width="0.9"/>
<line x1="260.27" y1="289.4" x2="260.27" y2="316.6" stroke="#c8c8c8" stroke-opacity="0.7" stroke-width="0.9"/>
<line x1="268.69" y1="289.4" x2="268.69" y2="316.6" stroke="#c8c8c8" stroke-opacity="0.7" stroke-width="0.9"/>
<line x1="277.1" y1="289.4" x2="277.1" y2="316.6" stroke="#c8c8c8" stroke-opacity="0.7" stroke-width="0.9"/>
<line x1="285.52" y1="289.4" x2="285.52" y2="316.6" stroke="#c8c8c8" stroke-opacity="0.7" stroke-width="0.9"/>
<line x1="293.93" y1="289.4" x2="293.93" y2="316.6" stroke="#c8c8c8" stroke-opacity="0.7" stroke-width="0.9"/>
<line x1="302.35" y1="289.4" x2="302.35" y2="316.6" stroke="#c8c8c8" stroke-opacity="0.7" stroke-width="0.9"/>
<line x1="310.76" y1="289.4" x2="310.76" y2="316.6" stroke="#c8c8c8" stroke-opacity="0.7" stroke-width="0.9"/>
<line x1="319.18" y1="289.4" x2="319.18" y2="316.6" stroke="#c8c8c8" stroke-opacity="0.7" stroke-width="0.9"/>
<line x1="327.59" y1="289.4" x2="327.59" y2="316.6" stroke="#c8c8c8" stroke-opacity="0.7" stroke-width="0.9"/>
<line x1="336.01" y1="289.4" x2="336.01" y2="316.6" stroke="#c8c8c8" stroke-opacity="0.7" stroke-width="0.9"/>
<line x1="344.42" y1="289.4" x2="344.42" y2="316.6" stroke="#c8c8c8" stroke-opacity="0.7" stroke-width="0.9"/>
<line x1="352.84" y1="289.4" x2="352.84" y2="316.6" stroke="#c8c8c8" stroke-opacity="0.7" stroke-width="0.9"/>
<line x1="361.25" y1="289.4" x2="361.25" y2="316.6" stroke="#c8c8c8" stroke-opacity="0.7" stroke-width="0.9"/>
<line x1="369.67" y1="289.4" x2="369.67" y2="316.6" stroke="#c8c8c8" stroke-opacity="0.7" stroke-width="0.9"/>
<line x1="378.08" y1="289.4" x2="378.08" y2="316.6" stroke="#c8c8c8" stroke-opacity="0.7" stroke-width="0.9"/>
<line x1="386.5" y1="289.4" x2="386.5" y2="316.6" stroke="#c8c8c8" stroke-opacity="0.7" stroke-width="0.9"/>
<line x1="394.91" y1="289.4" x2="394.91" y2="316.6" stroke="#c8c8c8" stroke-opacity="0.7" stroke-width="0.9"/>
<line x1="403.33" y1="289.4" x2="403.33" y2="316.6" stroke="#c8c8c8" stroke-opacity="0.7" stroke-width="0.9"/>
<line x1="411.74" y1="289.4" x2="411.74" y2="316.6" stroke="#c8c8c8" stroke-opacity="0.7" stroke-width="0.9"/>
<line x1="420.16" y1="289.4" x2="420.16" y2="316.6" stroke="#c8c8c8" stroke-opacity="0.7" stroke-width="0.9"/>
<line x1="428.57" y1="289.4" x2="428.57" y2="316.6" stroke="#c8c8c8" stroke-opacity="0.7" stroke-width="0.9"/>
<line x1="436.99" y1="289.4" x2="436.99" y2="316.6" stroke="#c8c8c8" stroke-opacity="0.7" stroke-width="0.9"/>
<line x1="445.4" y1="289.4" x2="445.4" y2="316.6" stroke="#c8c8c8" stroke-opacity="0.7" stroke-width="0.9"/>
<line x1="453.82" y1="289.4" x2="453.82" y2="316.6" stroke="#c8c8c8" stroke-opacity="0.7" stroke-width="0.9"/>
<line x1="462.23" y1="289.4" x2="462.23" y2="316.6" stroke="#c8c8c8" stroke-opacity="0.7" stroke-width="0.9"/>
<line x1="470.65" y1="289.4" x2="470.65" y2="316.6" stroke="#c8c8c8" stroke-opacity="0.7" stroke-width="0.9"/>
<line x1="479.06" y1="289.4" x2="479.06" y2="316.6" stroke="#c8c8c8" stroke-opacity="0.7" stroke-width="0.9"/>
<line x1="487.48" y1="289.4" x2="487.48" y2="316.6" stroke="#c8c8c8" stroke-opacity="0.7" stroke-width="0.9"/>
<line x1="495.89" y1="289.4" x2="495.89" y2="316.6" stroke="#c8c8c8" stroke-opacity="0.7" stroke-width="0.9"/>
<line x1="504.31" y1="289.4" x2="504.31" y2="316.6" stroke="#c8c8c8" stroke-opacity="0.7" stroke-width="0.9"/>
<line x1="512.72" y1="289.4" x2="512.72" y2="316.6" stroke="#c8c8c8" stroke-opacity="0.7" stroke-width="0.9"/>
<line x1="521.14" y1="289.4" x2="521.14" y2="316.6" stroke="#c8c8c8" stroke-opacity="0.7" stroke-width="0.9"/>
<line x1="529.55" y1="289.4" x2="529.55" y2="316.6" stroke="#c8c8c8" stroke-opacity="0.7" stroke-width="0.9"/>
<line x1="537.97" y1="289.4" x2="537.97" y2="316.6" stroke="#c8c8c8" stroke-opacity="0.7" stroke-width="0.9"/>
<line x1="546.38" y1="289.4" x2="546.38" y2="316.6" stroke="#c8c8c8" stroke-opacity="0.7" stroke-width="0.9"/>
<line x1="554.8" y1="289.4" x2="554.8" y2="316.6" stroke="#c8c8c8" stroke-opacity="0.7" stroke-width="0.9"/>
<line x1="563.21" y1="289.4" x2="563.21" y2="316.6" stroke="#c8c8c8" stroke-opacity="0.7" stroke-width="0.9"/>
<line x1="571.63" y1="289.4" x2="571.63" y2="316.6" stroke="#c8c8c8" stroke-opacity="0.7" stroke-width="0.9"/>
<line x1="580.04" y1="289.4" x2="580.04" y2="316.6" stroke="#c8c8c8" stroke-opacity="0.7" stroke-width="0.9"/>
<line x1="588.46" y1="289.4" x2="588.46" y2="316.6" stroke="#c8c8c8" stroke-opacity="0.7" stroke-width="0.9"/>
<line x1="596.87" y1="289.4" x2="596.87" y2="316.6" stroke="#c8c8c8" stroke-opacity="0.7" stroke-width="0.9"/>
<line x1="605.29" y1="289.4" x2="605.29" y2="316.6" stroke="#c8c8c8" stroke-opacity="0.7" stroke-width="0.9"/>
<line x1="613.7" y1="289.4" x2="613.7" y2="316.6" stroke="#c8c8c8" stroke-opacity="0.7" stroke-width="0.9"/>
<line x1="622.12" y1="289.4" x2="622.12" y2="316.6" stroke="#c8c8c8" stroke-opacity="0.7" stroke-width="0.9"/>
<line x1="630.53" y1="289.4" x2="630.53" y2="316.6" stroke="#c8c8c8" stroke-opacity="0.7" stroke-width="0.9"/>
<line x1="638.95" y1="289.4" x2="638.95" y2="316.6" stroke="#c8c8c8" stroke-opacity="0.7" stroke-width="0.9"/>
<line x1="647.36" y1="289.4" x2="647.36" y2="316.6" stroke="#c8c8c8" stroke-opacity="0.7" stroke-width="0.9"/>
<line x1="655.78" y1="289.4" x2="655.78" y2="316.6" stroke="#c8c8c8" stroke-opacity="0.7" stroke-width="0.9"/>
<line x1="664.19" y1="289.4" x2="664.19" y2="316.6" stroke="#c8c8c8" stroke-opacity="0.7" stroke-width="0.9"/>
<line x1="49.9" y1="289.4" x2="672.61" y2="289.4" stroke="#c8c8c8" stroke-opacity="0.7" stroke-width="0.9"/>
<line x1="49.9" y1="303" x2="672.61" y2="303" stroke="#c8c8c8" stroke-opacity="0.7" stroke-width="0.9"/>
<line x1="49.9" y1="316.6" x2="672.61" y2="316.6" stroke="#c8c8c8" stroke-opacity="0.7" stroke-width="0.9"/>
<rect x="49.9" y="321.35" width="8.46" height="13.65" fill="#c8e6c8"/>
<rect x="58.31" y="321.35" width="8.46" height="13.65" fill="#fdfcfc"/>
<rect x="66.73" y="321.35" width="8.46" height="13.65" fill="#5aaf5a"/>
<rect x="75.14" y="321.35" width="8.46" height="13.65" fill="#fcd6d6"/>
<rect x="83.56" y="321.35" width="8.46" height="13.65" fill="#fdf3f3"/>
<rect x="91.97" y="321.35" width="8.46" height="13.65" fill="#5aaf5a"/>
<rect x="100.39" y="321.35" width="8.46" height="13.65" fill="#fde6e6"/>
<rect x="108.8" y="321.35" width="8.46" height="13.65" fill="#c8e6c8"/>
<rect x="117.22" y="321.35" width="8.46" height="13.65" fill="#a8d8a8"/>
<rect x="125.63" y="321.35" width="8.46" height="13.65" fill="#82c482"/>
<rect x="134.05" y="321.35" width="8.46" height="13.65" fill="#e6f3e6"/>
<rect x="142.47" y="321.35" width="8.46" height="13.65" fill="#fdf3f3"/>
<rect x="150.88" y="321.35" width="8.46" height="13.65" fill="#fdfcfc"/>
<rect x="159.29" y="321.35" width="8.46" height="13.65" fill="#fdf3f3"/>
<rect x="167.71" y="321.35" width="8.46" height="13.65" fill="#fdfcfc"/>
<rect x="176.12" y="321.35" width="8.46" height="13.65" fill="#fde6e6"/>
<rect x="184.54" y="321.35" width="8.46" height="13.65" fill="#fdf3f3"/>
<rect x="192.95" y="321.35" width="8.46" height="13.65" fill="#fdf3f3"/>
<rect x="201.37" y="321.35" width="8.46" height="13.65" fill="#e6f3e6"/>
<rect x="209.78" y="321.35" width="8.46" height="13.65" fill="#a8d8a8"/>
<rect x="218.2" y="321.35" width="8.46" height="13.65" fill="#c8e6c8"/>
<rect x="226.61" y="321.35" width="8.46" height="13.65" fill="#fdfcfc"/>
<rect x="235.03" y="321.35" width="8.46" height="13.65" fill="#82c482"/>
<rect x="243.44" y="321.35" width="8.46" height="13.65" fill="#a8d8a8"/>
<rect x="251.86" y="321.35" width="8.46" height="13.65" fill="#fdf3f3"/>
<rect x="260.27" y="321.35" width="8.46" height="13.65" fill="#fdf3f3"/>
<rect x="268.69" y="321.35" width="8.46" height="13.65" fill="#fdfcfc"/>
<rect x="277.1" y="321.35" width="8.46" height="13.65" fill="#fdf3f3"/>
<rect x="285.52" y="321.35" width="8.46" height="13.65" fill="#3a9a3a"/>
<rect x="293.93" y="321.35" width="8.46" height="13.65" fill="#fdfcfc"/>
<rect x="302.35" y="321.35" width="8.46" height="13.65" fill="#a8d8a8"/>
<rect x="310.76" y="321.35" width="8.46" height="13.65" fill="#e6f3e6"/>
<rect x="319.18" y="321.35" width="8.46" height="13.65" fill="#fdf3f3"/>
<rect x="327.59" y="321.35" width="8.46" height="13.65" fill="#fdf3f3"/>
<rect x="336.01" y="321.35" width="8.46" height="13.65" fill="#fdf3f3"/>
<rect x="344.42" y="321.35" width="8.46" height="13.65" fill="#fdfcfc"/>
<rect x="352.84" y="321.35" width="8.46" height="13.65" fill="#fdfcfc"/>
<rect x="361.25" y="321.35" width="8.46" height="13.65" fill="#fdf3f3"/>
<rect x="369.67" y="321.35" width="8.46" height="13.65" fill="#a8d8a8"/>
<rect x="378.08" y="321.35" width="8.46" height="13.65" fill="#fdfcfc"/>
<rect x="386.5" y="321.35" width="8.46" height="13.65" fill="#fdf3f3"/>
<rect x="394.91" y="321.35" width="8.46" height="13.65" fill="#fdfcfc"/>
<rect x="403.33" y="321.35" width="8.46" height="13.65" fill="#fdfcfc"/>
<rect x="411.74" y="321.35" width="8.46" height="13.65" fill="#a8d8a8"/>
<rect x="420.16" y="321.35" width="8.46" height="13.65" fill="#fdf3f3"/>
<rect x="428.57" y="321.35" width="8.46" height="13.65" fill="#82c482"/>
<rect x="436.99" y="321.35" width="8.46" height="13.65" fill="#fde6e6"/>
<rect x="445.4" y="321.35" width="8.46" height="13.65" fill="#fdf3f3"/>
<rect x="453.82" y="321.35" width="8.46" height="13.65" fill="#fcd6d6"/>
<rect x="462.23" y="321.35" width="8.46" height="13.65" fill="#a8d8a8"/>
<rect x="470.65" y="321.35" width="8.46" height="13.65" fill="#fcd6d6"/>
<rect x="479.06" y="321.35" width="8.46" height="13.65" fill="#fdfcfc"/>
<rect x="487.48" y="321.35" width="8.46" height="13.65" fill="#fdf3f3"/>
<rect x="495.89" y="321.35" width="8.46" height="13.65" fill="#fdfcfc"/>
<rect x="504.31" y="321.35" width="8.46" height="13.65" fill="#fdf3f3"/>
<rect x="512.72" y="321.35" width="8.46" height="13.65" fill="#e6f3e6"/>
<rect x="521.14" y="321.35" width="8.46" height="13.65" fill="#fde6e6"/>
<rect x="529.55" y="321.35" width="8.46" height="13.65" fill="#fdf3f3"/>
<rect x="537.97" y="321.35" width="8.46" height="13.65" fill="#fde6e6"/>
<rect x="546.38" y="321.35" width="8.46" height="13.65" fill="#fdf3f3"/>
<rect x="554.8" y="321.35" width="8.46" height="13.65" fill="#fcd6d6"/>
<rect x="563.21" y="321.35" width="8.46" height="13.65" fill="#fdf3f3"/>
<rect x="571.63" y="321.35" width="8.46" height="13.65" fill="#e6f3e6"/>
<rect x="580.04" y="321.35" width="8.46" height="13.65" fill="#fcd6d6"/>
<rect x="588.46" y="321.35" width="8.46" height="13.65" fill="#fde6e6"/>
<rect x="596.87" y="321.35" width="8.46" height="13.65" fill="#fcd6d6"/>
<rect x="605.29" y="321.35" width="8.46" height="13.65" fill="#fdfcfc"/>
<rect x="613.7" y="321.35" width="8.46" height="13.65" fill="#fdf3f3"/>
<rect x="622.12" y="321.35" width="8.46" height="13.65" fill="#fdfcfc"/>
<rect x="630.53" y="321.35" width="8.46" height="13.65" fill="#fde6e6"/>
<rect x="638.95" y="321.35" width="8.46" height="13.65" fill="#fdfcfc"/>
<rect x="647.36" y="321.35" width="8.46" height="13.65" fill="#fdfcfc"/>
<rect x="655.78" y="321.35" width="8.46" height="13.65" fill="#fdf3f3"/>
<rect x="664.19" y="321.35" width="8.46" height="13.65" fill="#fdfcfc"/>
<rect x="49.9" y="334.95" width="8.46" height="13.65" fill="#a8d8a8"/>
<rect x="58.31" y="334.95" width="8.46" height="13.65" fill="#fdf3f3"/>
<rect x="66.73" y="334.95" width="8.46" height="13.65" fill="#5aaf5a"/>
<rect x="75.14" y="334.95" width="8.46" height="13.65" fill="#fcd6d6"/>
<rect x="83.56" y="334.95" width="8.46" height="13.65" fill="#fdf3f3"/>
<rect x="91.97" y="334.95" width="8.46" height="13.65" fill="#3a9a3a"/>
<rect x="100.39" y="334.95" width="8.46" height="13.65" fill="#fdf3f3"/>
<rect x="108.8" y="334.95" width="8.46" height="13.65" fill="#e6f3e6"/>
<rect x="117.22" y="334.95" width="8.46" height="13.65" fill="#82c482"/>
<rect x="125.63" y="334.95" width="8.46" height="13.65" fill="#82c482"/>
<rect x="134.05" y="334.95" width="8.46" height="13.65" fill="#c8e6c8"/>
<rect x="142.47" y="334.95" width="8.46" height="13.65" fill="#fdf3f3"/>
<rect x="150.88" y="334.95" width="8.46" height="13.65" fill="#fdfcfc"/>
<rect x="159.29" y="334.95" width="8.46" height="13.65" fill="#fdfcfc"/>
<rect x="167.71" y="334.95" width="8.46" height="13.65" fill="#fdfcfc"/>
<rect x="176.12" y="334.95" width="8.46" height="13.65" fill="#fcd6d6"/>
<rect x="184.54" y="334.95" width="8.46" height="13.65" fill="#fdf3f3"/>
<rect x="192.95" y="334.95" width="8.46" height="13.65" fill="#fdf3f3"/>
<rect x="201.37" y="334.95" width="8.46" height="13.65" fill="#e6f3e6"/>
<rect x="209.78" y="334.95" width="8.46" height="13.65" fill="#82c482"/>
<rect x="218.2" y="334.95" width="8.46" height="13.65" fill="#82c482"/>
<rect x="226.61" y="334.95" width="8.46" height="13.65" fill="#fdfcfc"/>
<rect x="235.03" y="334.95" width="8.46" height="13.65" fill="#3a9a3a"/>
<rect x="243.44" y="334.95" width="8.46" height="13.65" fill="#82c482"/>
<rect x="251.86" y="334.95" width="8.46" height="13.65" fill="#fdfcfc"/>
<rect x="260.27" y="334.95" width="8.46" height="13.65" fill="#fdf3f3"/>
<rect x="268.69" y="334.95" width="8.46" height="13.65" fill="#fdf3f3"/>
<rect x="277.1" y="334.95" width="8.46" height="13.65" fill="#fdfcfc"/>
<rect x="285.52" y="334.95" width="8.46" height="13.65" fill="#148a14"/>
<rect x="293.93" y="334.95" width="8.46" height="13.65" fill="#fdf3f3"/>
<rect x="302.35" y="334.95" width="8.46" height="13.65" fill="#82c482"/>
<rect x="310.76" y="334.95" width="8.46" height="13.65" fill="#a8d8a8"/>
<rect x="319.18" y="334.95" width="8.46" height="13.65" fill="#fdf3f3"/>
<rect x="327.59" y="334.95" width="8.46" height="13.65" fill="#fdf3f3"/>
<rect x="336.01" y="334.95" width="8.46" height="13.65" fill="#fdf3f3"/>
<rect x="344.42" y="334.95" width="8.46" height="13.65" fill="#fdfcfc"/>
<rect x="352.84" y="334.95" width="8.46" height="13.65" fill="#fdfcfc"/>
<rect x="361.25" y="334.95" width="8.46" height="13.65" fill="#fdf3f3"/>
<rect x="369.67" y="334.95" width="8.46" height="13.65" fill="#82c482"/>
<rect x="378.08" y="334.95" width="8.46" height="13.65" fill="#fdfcfc"/>
<rect x="386.5" y="334.95" width="8.46" height="13.65" fill="#fdf3f3"/>
<rect x="394.91" y="334.95" width="8.46" height="13.65" fill="#a8d8a8"/>
<rect x="403.33" y="334.95" width="8.46" height="13.65" fill="#fdfcfc"/>
<rect x="411.74" y="334.95" width="8.46" height="13.65" fill="#82c482"/>
<rect x="420.16" y="334.95" width="8.46" height="13.65" fill="#fdf3f3"/>
<rect x="428.57" y="334.95" width="8.46" height="13.65" fill="#5aaf5a"/>
<rect x="436.99" y="334.95" width="8.46" height="13.65" fill="#fde6e6"/>
<rect x="445.4" y="334.95" width="8.46" height="13.65" fill="#fdf3f3"/>
<rect x="453.82" y="334.95" width="8.46" height="13.65" fill="#fde6e6"/>
<rect x="462.23" y="334.95" width="8.46" height="13.65" fill="#82c482"/>
<rect x="470.65" y="334.95" width="8.46" height="13.65" fill="#fcd6d6"/>
<rect x="479.06" y="334.95" width="8.46" height="13.65" fill="#a8d8a8"/>
<rect x="487.48" y="334.95" width="8.46" height="13.65" fill="#fdfcfc"/>
<rect x="495.89" y="334.95" width="8.46" height="13.65" fill="#fdfcfc"/>
<rect x="504.31" y="334.95" width="8.46" height="13.65" fill="#fdf3f3"/>
<rect x="512.72" y="334.95" width="8.46" height="13.65" fill="#82c482"/>
<rect x="521.14" y="334.95" width="8.46" height="13.65" fill="#fde6e6"/>
<rect x="529.55" y="334.95" width="8.46" height="13.65" fill="#fdf3f3"/>
<rect x="537.97" y="334.95" width="8.46" height="13.65" fill="#fde6e6"/>
<rect x="546.38" y="334.95" width="8.46" height="13.65" fill="#fdf3f3"/>
<rect x="554.8" y="334.95" width="8.46" height="13.65" fill="#fcd6d6"/>
<rect x="563.21" y="334.95" width="8.46" height="13.65" fill="#fdfcfc"/>
<rect x="571.63" y="334.95" width="8.46" height="13.65" fill="#c8e6c8"/>
<rect x="580.04" y="334.95" width="8.46" height="13.65" fill="#fcd6d6"/>
<rect x="588.46" y="334.95" width="8.46" height="13.65" fill="#fdf3f3"/>
<rect x="596.87" y="334.95" width="8.46" height="13.65" fill="#fcd6d6"/>
<rect x="605.29" y="334.95" width="8.46" height="13.65" fill="#fdfcfc"/>
<rect x="613.7" y="334.95" width="8.46" height="13.65" fill="#fdf3f3"/>
<rect x="622.12" y="334.95" width="8.46" height="13.65" fill="#fdfcfc"/>
<rect x="630.53" y="334.95" width="8.46" height="13.65" fill="#fde6e6"/>
<rect x="638.95" y="334.95" width="8.46" height="13.65" fill="#c8e6c8"/>
<rect x="647.36" y="334.95" width="8.46" height="13.65" fill="#e6f3e6"/>
<rect x="655.78" y="334.95" width="8.46" height="13.65" fill="#fdf3f3"/>
<rect x="664.19" y="334.95" width="8.46" height="13.65" fill="#fdfcfc"/>
<line x1="58.31" y1="321.35" x2="58.31" y2="348.55" stroke="#c8c8c8" stroke-opacity="0.7" stroke-width="0.9"/>
<line x1="66.73" y1="321.35" x2="66.73" y2="348.55" stroke="#c8c8c8" stroke-opacity="0.7" stroke-width="0.9"/>
<line x1="75.14" y1="321.35" x2="75.14" y2="348.55" stroke="#c8c8c8" stroke-opacity="0.7" stroke-width="0.9"/>
<line x1="83.56" y1="321.35" x2="83.56" y2="348.55" stroke="#c8c8c8" stroke-opacity="0.7" stroke-width="0.9"/>
<line x1="91.97" y1="321.35" x2="91.97" y2="348.55" stroke="#c8c8c8" stroke-opacity="0.7" stroke-width="0.9"/>
<line x1="100.39" y1="321.35" x2="100.39" y2="348.55" stroke="#c8c8c8" stroke-opacity="0.7" stroke-width="0.9"/>
<line x1="108.8" y1="321.35" x2="108.8" y2="348.55" stroke="#c8c8c8" stroke-opacity="0.7" stroke-width="0.9"/>
<line x1="117.22" y1="321.35" x2="117.22" y2="348.55" stroke="#c8c8c8" stroke-opacity="0.7" stroke-width="0.9"/>
<line x1="125.63" y1="321.35" x2="125.63" y2="348.55" stroke="#c8c8c8" stroke-opacity="0.7" stroke-width="0.9"/>
<line x1="134.05" y1="321.35" x2="134.05" y2="348.55" stroke="#c8c8c8" stroke-opacity="0.7" stroke-width="0.9"/>
<line x1="142.47" y1="321.35" x2="142.47" y2="348.55" stroke="#c8c8c8" stroke-opacity="0.7" stroke-width="0.9"/>
<line x1="150.88" y1="321.35" x2="150.88" y2="348.55" stroke="#c8c8c8" stroke-opacity="0.7" stroke-width="0.9"/>
<line x1="159.29" y1="321.35" x2="159.29" y2="348.55" stroke="#c8c8c8" stroke-opacity="0.7" stroke-width="0.9"/>
<line x1="167.71" y1="321.35" x2="167.71" y2="348.55" stroke="#c8c8c8" stroke-opacity="0.7" stroke-width="0.9"/>
<line x1="176.12" y1="321.35" x2="176.12" y2="348.55" stroke="#c8c8c8" stroke-opacity="0.7" stroke-width="0.9"/>
<line x1="184.54" y1="321.35" x2="184.54" y2="348.55" stroke="#c8c8c8" stroke-opacity="0.7" stroke-width="0.9"/>
<line x1="192.95" y1="321.35" x2="192.95" y2="348.55" stroke="#c8c8c8" stroke-opacity="0.7" stroke-width="0.9"/>
<line x1="201.37" y1="321.35" x2="201.37" y2="348.55" stroke="#c8c8c8" stroke-opacity="0.7" stroke-width="0.9"/>
<line x1="209.78" y1="321.35" x2="209.78" y2="348.55" stroke="#c8c8c8" stroke-opacity="0.7" stroke-width="0.9"/>
<line x1="218.2" y1="321.35" x2="218.2" y2="348.55" stroke="#c8c8c8" stroke-opacity="0.7" stroke-width="0.9"/>
<line x1="226.61" y1="321.35" x2="226.61" y2="348.55" stroke="#c8c8c8" stroke-opacity="0.7" stroke-width="0.9"/>
<line x1="235.03" y1="321.35" x2="235.03" y2="348.55" stroke="#c8c8c8" stroke-opacity="0.7" stroke-width="0.9"/>
<line x1="243.44" y1="321.35" x2="243.44" y2="348.55" stroke="#c8c8c8" stroke-opacity="0.7" stroke-width="0.9"/>
<line x1="251.86" y1="321.35" x2="251.86" y2="348.55" stroke="#c8c8c8" stroke-opacity="0.7" stroke-width="0.9"/>
<line x1="260.27" y1="321.35" x2="260.27" y2="348.55" stroke="#c8c8c8" stroke-opacity="0.7" stroke-width="0.9"/>
<line x1="268.69" y1="321.35" x2="268.69" y2="348.55" stroke="#c8c8c8" stroke-opacity="0.7" stroke-width="0.9"/>
<line x1="277.1" y1="321.35" x2="277.1" y2="348.55" stroke="#c8c8c8" stroke-opacity="0.7" stroke-width="0.9"/>
<line x1="285.52" y1="321.35" x2="285.52" y2="348.55" stroke="#c8c8c8" stroke-opacity="0.7" stroke-width="0.9"/>
<line x1="293.93" y1="321.35" x2="293.93" y2="348.55" stroke="#c8c8c8" stroke-opacity="0.7" stroke-width="0.9"/>
<line x1="302.35" y1="321.35" x2="302.35" y2="348.55" stroke="#c8c8c8" stroke-opacity="0.7" stroke-width="0.9"/>
<line x1="310.76" y1="321.35" x2="310.76" y2="348.55" stroke="#c8c8c8" stroke-opacity="0.7" stroke-width="0.9"/>
<line x1="319.18" y1="321.35" x2="319.18" y2="348.55" stroke="#c8c8c8" stroke-opacity="0.7" stroke-width="0.9"/>
<line x1="327.59" y1="321.35" x2="327.59" y2="348.55" stroke="#c8c8c8" stroke-opacity="0.7" stroke-width="0.9"/>
<line x1="336.01" y1="321.35" x2="336.01" y2="348.55" stroke="#c8c8c8" stroke-opacity="0.7" stroke-width="0.9"/>
<line x1="344.42" y1="321.35" x2="344.42" y2="348.55" stroke="#c8c8c8" stroke-opacity="0.7" stroke-width="0.9"/>
<line x1="352.84" y1="321.35" x2="352.84" y2="348.55" stroke="#c8c8c8" stroke-opacity="0.7" stroke-width="0.9"/>
<line x1="361.25" y1="321.35" x2="361.25" y2="348.55" stroke="#c8c8c8" stroke-opacity="0.7" stroke-width="0.9"/>
<line x1="369.67" y1="321.35" x2="369.67" y2="348.55" stroke="#c8c8c8" stroke-opacity="0.7" stroke-width="0.9"/>
<line x1="378.08" y1="321.35" x2="378.08" y2="348.55" stroke="#c8c8c8" stroke-opacity="0.7" stroke-width="0.9"/>
<line x1="386.5" y1="321.35" x2="386.5" y2="348.55" stroke="#c8c8c8" stroke-opacity="0.7" stroke-width="0.9"/>
<line x1="394.91" y1="321.35" x2="394.91" y2="348.55" stroke="#c8c8c8" stroke-opacity="0.7" stroke-width="0.9"/>
<line x1="403.33" y1="321.35" x2="403.33" y2="348.55" stroke="#c8c8c8" stroke-opacity="0.7" stroke-width="0.9"/>
<line x1="411.74" y1="321.35" x2="411.74" y2="348.55" stroke="#c8c8c8" stroke-opacity="0.7" stroke-width="0.9"/>
<line x1="420.16" y1="321.35" x2="420.16" y2="348.55" stroke="#c8c8c8" stroke-opacity="0.7" stroke-width="0.9"/>
<line x1="428.57" y1="321.35" x2="428.57" y2="348.55" stroke="#c8c8c8" stroke-opacity="0.7" stroke-width="0.9"/>
<line x1="436.99" y1="321.35" x2="436.99" y2="348.55" stroke="#c8c8c8" stroke-opacity="0.7" stroke-width="0.9"/>
<line x1="445.4" y1="321.35" x2="445.4" y2="348.55" stroke="#c8c8c8" stroke-opacity="0.7" stroke-width="0.9"/>
<line x1="453.82" y1="321.35" x2="453.82" y2="348.55" stroke="#c8c8c8" stroke-opacity="0.7" stroke-width="0.9"/>
<line x1="462.23" y1="321.35" x2="462.23" y2="348.55" stroke="#c8c8c8" stroke-opacity="0.7" stroke-width="0.9"/>
<line x1="470.65" y1="321.35" x2="470.65" y2="348.55" stroke="#c8c8c8" stroke-opacity="0.7" stroke-width="0.9"/>
<line x1="479.06" y1="321.35" x2="479.06" y2="348.55" stroke="#c8c8c8" stroke-opacity="0.7" stroke-width="0.9"/>
<line x1="487.48" y1="321.35" x2="487.48" y2="348.55" stroke="#c8c8c8" stroke-opacity="0.7" stroke-width="0.9"/>
<line x1="495.89" y1="321.35" x2="495.89" y2="348.55" stroke="#c8c8c8" stroke-opacity="0.7" stroke-width="0.9"/>
<line x1="504.31" y1="321.35" x2="504.31" y2="348.55" stroke="#c8c8c8" stroke-opacity="0.7" stroke-width="0.9"/>
<line x1="512.72" y1="321.35" x2="512.72" y2="348.55" stroke="#c8c8c8" stroke-opacity="0.7" stroke-width="0.9"/>
<line x1="521.14" y1="321.35" x2="521.14" y2="348.55" stroke="#c8c8c8" stroke-opacity="0.7" stroke-width="0.9"/>
<line x1="529.55" y1="321.35" x2="529.55" y2="348.55" stroke="#c8c8c8" stroke-opacity="0.7" stroke-width="0.9"/>
<line x1="537.97" y1="321.35" x2="537.97" y2="348.55" stroke="#c8c8c8" stroke-opacity="0.7" stroke-width="0.9"/>
<line x1="546.38" y1="321.35" x2="546.38" y2="348.55" stroke="#c8c8c8" stroke-opacity="0.7" stroke-width="0.9"/>
<line x1="554.8" y1="321.35" x2="554.8" y2="348.55" stroke="#c8c8c8" stroke-opacity="0.7" stroke-width="0.9"/>
<line x1="563.21" y1="321.35" x2="563.21" y2="348.55" stroke="#c8c8c8" stroke-opacity="0.7" stroke-width="0.9"/>
<line x1="571.63" y1="321.35" x2="571.63" y2="348.55" stroke="#c8c8c8" stroke-opacity="0.7" stroke-width="0.9"/>
<line x1="580.04" y1="321.35" x2="580.04" y2="348.55" stroke="#c8c8c8" stroke-opacity="0.7" stroke-width="0.9"/>
<line x1="588.46" y1="321.35" x2="588.46" y2="348.55" stroke="#c8c8c8" stroke-opacity="0.7" stroke-width="0.9"/>
<line x1="596.87" y1="321.35" x2="596.87" y2="348.55" stroke="#c8c8c8" stroke-opacity="0.7" stroke-width="0.9"/>
<line x1="605.29" y1="321.35" x2="605.29" y2="348.55" stroke="#c8c8c8" stroke-opacity="0.7" stroke-width="0.9"/>
<line x1="613.7" y1="321.35" x2="613.7" y2="348.55" stroke="#c8c8c8" stroke-opacity="0.7" stroke-width="0.9"/>
<line x1="622.12" y1="321.35" x2="622.12" y2="348.55" stroke="#c8c8c8" stroke-opacity="0.7" stroke-width="0.9"/>
<line x1="630.53" y1="321.35" x2="630.53" y2="348.55" stroke="#c8c8c8" stroke-opacity="0.7" stroke-width="0.9"/>
<line x1="638.95" y1="321.35" x2="638.95" y2="348.55" stroke="#c8c8c8" stroke-opacity="0.7" stroke-width="0.9"/>
<line x1="647.36" y1="321.35" x2="647.36" y2="348.55" stroke="#c8c8c8" stroke-opacity="0.7" stroke-width="0.9"/>
<line x1="655.78" y1="321.35" x2="655.78" y2="348.55" stroke="#c8c8c8" stroke-opacity="0.7" stroke-width="0.9"/>
<line x1="664.19" y1="321.35" x2="664.19" y2="348.55" stroke="#c8c8c8" stroke-opacity="0.7" stroke-width="0.9"/>
<line x1="49.9" y1="321.35" x2="672.61" y2="321.35" stroke="#c8c8c8" stroke-opacity="0.7" stroke-width="0.9"/>
<line x1="49.9" y1="334.95" x2="672.61" y2="334.95" stroke="#c8c8c8" stroke-opacity="0.7" stroke-width="0.9"/>
<line x1="49.9" y1="348.55" x2="672.61" y2="348.55" stroke="#c8c8c8" stroke-opacity="0.7" stroke-width="0.9"/>
<rect x="49.9" y="353.3" width="8.46" height="13.65" fill="#a8d8a8"/>
<rect x="58.31" y="353.3" width="8.46" height="13.65" fill="#fde6e6"/>
<rect x="66.73" y="353.3" width="8.46" height="13.65" fill="#3a9a3a"/>
<rect x="75.14" y="353.3" width="8.46" height="13.65" fill="#fcd6d6"/>
<rect x="83.56" y="353.3" width="8.46" height="13.65" fill="#fdfcfc"/>
<rect x="91.97" y="353.3" width="8.46" height="13.65" fill="#148a14"/>
<rect x="100.39" y="353.3" width="8.46" height="13.65" fill="#fde6e6"/>
<rect x="108.8" y="353.3" width="8.46" height="13.65" fill="#fdfcfc"/>
<rect x="117.22" y="353.3" width="8.46" height="13.65" fill="#3a9a3a"/>
<rect x="125.63" y="353.3" width="8.46" height="13.65" fill="#5aaf5a"/>
<rect x="134.05" y="353.3" width="8.46" height="13.65" fill="#fdfcfc"/>
<rect x="142.47" y="353.3" width="8.46" height="13.65" fill="#fdf3f3"/>
<rect x="150.88" y="353.3" width="8.46" height="13.65" fill="#fdfcfc"/>
<rect x="159.29" y="353.3" width="8.46" height="13.65" fill="#e6f3e6"/>
<rect x="167.71" y="353.3" width="8.46" height="13.65" fill="#fdf3f3"/>
<rect x="176.12" y="353.3" width="8.46" height="13.65" fill="#f9b8b8"/>
<rect x="184.54" y="353.3" width="8.46" height="13.65" fill="#fdf3f3"/>
<rect x="192.95" y="353.3" width="8.46" height="13.65" fill="#fdf3f3"/>
<rect x="201.37" y="353.3" width="8.46" height="13.65" fill="#fdfcfc"/>
<rect x="209.78" y="353.3" width="8.46" height="13.65" fill="#a8d8a8"/>
<rect x="218.2" y="353.3" width="8.46" height="13.65" fill="#3a9a3a"/>
<rect x="226.61" y="353.3" width="8.46" height="13.65" fill="#fdfcfc"/>
<rect x="235.03" y="353.3" width="8.46" height="13.65" fill="#148a14"/>
<rect x="243.44" y="353.3" width="8.46" height="13.65" fill="#5aaf5a"/>
<rect x="251.86" y="353.3" width="8.46" height="13.65" fill="#fdf3f3"/>
<rect x="260.27" y="353.3" width="8.46" height="13.65" fill="#fdfcfc"/>
<rect x="268.69" y="353.3" width="8.46" height="13.65" fill="#fdfcfc"/>
<rect x="277.1" y="353.3" width="8.46" height="13.65" fill="#3a9a3a"/>
<rect x="285.52" y="353.3" width="8.46" height="13.65" fill="#148a14"/>
<rect x="293.93" y="353.3" width="8.46" height="13.65" fill="#fdf3f3"/>
<rect x="302.35" y="353.3" width="8.46" height="13.65" fill="#82c482"/>
<rect x="310.76" y="353.3" width="8.46" height="13.65" fill="#5aaf5a"/>
<rect x="319.18" y="353.3" width="8.46" height="13.65" fill="#fdfcfc"/>
<rect x="327.59" y="353.3" width="8.46" height="13.65" fill="#fdf3f3"/>
<rect x="336.01" y="353.3" width="8.46" height="13.65" fill="#fdfcfc"/>
<rect x="344.42" y="353.3" width="8.46" height="13.65" fill="#a8d8a8"/>
<rect x="352.84" y="353.3" width="8.46" height="13.65" fill="#c8e6c8"/>
<rect x="361.25" y="353.3" width="8.46" height="13.65" fill="#e6f3e6"/>
<rect x="369.67" y="353.3" width="8.46" height="13.65" fill="#3a9a3a"/>
<rect x="378.08" y="353.3" width="8.46" height="13.65" fill="#a8d8a8"/>
<rect x="386.5" y="353.3" width="8.46" height="13.65" fill="#c8e6c8"/>
<rect x="394.91" y="353.3" width="8.46" height="13.65" fill="#5aaf5a"/>
<rect x="403.33" y="353.3" width="8.46" height="13.65" fill="#fdfcfc"/>
<rect x="411.74" y="353.3" width="8.46" height="13.65" fill="#3a9a3a"/>
<rect x="420.16" y="353.3" width="8.46" height="13.65" fill="#fdf3f3"/>
<rect x="428.57" y="353.3" width="8.46" height="13.65" fill="#3a9a3a"/>
<rect x="436.99" y="353.3" width="8.46" height="13.65" fill="#fde6e6"/>
<rect x="445.4" y="353.3" width="8.46" height="13.65" fill="#e6f3e6"/>
<rect x="453.82" y="353.3" width="8.46" height="13.65" fill="#fdf3f3"/>
<rect x="462.23" y="353.3" width="8.46" height="13.65" fill="#c8e6c8"/>
<rect x="470.65" y="353.3" width="8.46" height="13.65" fill="#fcd6d6"/>
<rect x="479.06" y="353.3" width="8.46" height="13.65" fill="#5aaf5a"/>
<rect x="487.48" y="353.3" width="8.46" height="13.65" fill="#fdf3f3"/>
<rect x="495.89" y="353.3" width="8.46" height="13.65" fill="#fdfcfc"/>
<rect x="504.31" y="353.3" width="8.46" height="13.65" fill="#82c482"/>
<rect x="512.72" y="353.3" width="8.46" height="13.65" fill="#3a9a3a"/>
<rect x="521.14" y="353.3" width="8.46" height="13.65" fill="#fcd6d6"/>
<rect x="529.55" y="353.3" width="8.46" height="13.65" fill="#fdfcfc"/>
<rect x="537.97" y="353.3" width="8.46" height="13.65" fill="#fde6e6"/>
<rect x="546.38" y="353.3" width="8.46" height="13.65" fill="#fde6e6"/>
<rect x="554.8" y="353.3" width="8.46" height="13.65" fill="#fcd6d6"/>
<rect x="563.21" y="353.3" width="8.46" height="13.65" fill="#c8e6c8"/>
<rect x="571.63" y="353.3" width="8.46" height="13.65" fill="#e6f3e6"/>
<rect x="580.04" y="353.3" width="8.46" height="13.65" fill="#fcd6d6"/>
<rect x="588.46" y="353.3" width="8.46" height="13.65" fill="#fdf3f3"/>
<rect x="596.87" y="353.3" width="8.46" height="13.65" fill="#fcd6d6"/>
<rect x="605.29" y="353.3" width="8.46" height="13.65" fill="#fdfcfc"/>
<rect x="613.7" y="353.3" width="8.46" height="13.65" fill="#fdf3f3"/>
<rect x="622.12" y="353.3" width="8.46" height="13.65" fill="#c8e6c8"/>
<rect x="630.53" y="353.3" width="8.46" height="13.65" fill="#fde6e6"/>
<rect x="638.95" y="353.3" width="8.46" height="13.65" fill="#3a9a3a"/>
<rect x="647.36" y="353.3" width="8.46" height="13.65" fill="#c8e6c8"/>
<rect x="655.78" y="353.3" width="8.46" height="13.65" fill="#fde6e6"/>
<rect x="664.19" y="353.3" width="8.46" height="13.65" fill="#fdf3f3"/>
<rect x="49.9" y="366.9" width="8.46" height="13.65" fill="#a8d8a8"/>
<rect x="58.31" y="366.9" width="8.46" height="13.65" fill="#fde6e6"/>
<rect x="66.73" y="366.9" width="8.46" height="13.65" fill="#3a9a3a"/>
<rect x="75.14" y="366.9" width="8.46" height="13.65" fill="#fcd6d6"/>
<rect x="83.56" y="366.9" width="8.46" height="13.65" fill="#c8e6c8"/>
<rect x="91.97" y="366.9" width="8.46" height="13.65" fill="#148a14"/>
<rect x="100.39" y="366.9" width="8.46" height="13.65" fill="#fdf3f3"/>
<rect x="108.8" y="366.9" width="8.46" height="13.65" fill="#fdfcfc"/>
<rect x="117.22" y="366.9" width="8.46" height="13.65" fill="#3a9a3a"/>
<rect x="125.63" y="366.9" width="8.46" height="13.65" fill="#5aaf5a"/>
<rect x="134.05" y="366.9" width="8.46" height="13.65" fill="#c8e6c8"/>
<rect x="142.47" y="366.9" width="8.46" height="13.65" fill="#fdf3f3"/>
<rect x="150.88" y="366.9" width="8.46" height="13.65" fill="#fdfcfc"/>
<rect x="159.29" y="366.9" width="8.46" height="13.65" fill="#e6f3e6"/>
<rect x="167.71" y="366.9" width="8.46" height="13.65" fill="#fdf3f3"/>
<rect x="176.12" y="366.9" width="8.46" height="13.65" fill="#f9b8b8"/>
<rect x="184.54" y="366.9" width="8.46" height="13.65" fill="#fdf3f3"/>
<rect x="192.95" y="366.9" width="8.46" height="13.65" fill="#fdf3f3"/>
<rect x="201.37" y="366.9" width="8.46" height="13.65" fill="#fdf3f3"/>
<rect x="209.78" y="366.9" width="8.46" height="13.65" fill="#a8d8a8"/>
<rect x="218.2" y="366.9" width="8.46" height="13.65" fill="#3a9a3a"/>
<rect x="226.61" y="366.9" width="8.46" height="13.65" fill="#e6f3e6"/>
<rect x="235.03" y="366.9" width="8.46" height="13.65" fill="#148a14"/>
<rect x="243.44" y="366.9" width="8.46" height="13.65" fill="#5aaf5a"/>
<rect x="251.86" y="366.9" width="8.46" height="13.65" fill="#fdf3f3"/>
<rect x="260.27" y="366.9" width="8.46" height="13.65" fill="#fdf3f3"/>
<rect x="268.69" y="366.9" width="8.46" height="13.65" fill="#fdfcfc"/>
<rect x="277.1" y="366.9" width="8.46" height="13.65" fill="#3a9a3a"/>
<rect x="285.52" y="366.9" width="8.46" height="13.65" fill="#148a14"/>
<rect x="293.93" y="366.9" width="8.46" height="13.65" fill="#fdf3f3"/>
<rect x="302.35" y="366.9" width="8.46" height="13.65" fill="#82c482"/>
<rect x="310.76" y="366.9" width="8.46" height="13.65" fill="#5aaf5a"/>
<rect x="319.18" y="366.9" width="8.46" height="13.65" fill="#fdfcfc"/>
<rect x="327.59" y="366.9" width="8.46" height="13.65" fill="#fdf3f3"/>
<rect x="336.01" y="366.9" width="8.46" height="13.65" fill="#fdfcfc"/>
<rect x="344.42" y="366.9" width="8.46" height="13.65" fill="#a8d8a8"/>
<rect x="352.84" y="366.9" width="8.46" height="13.65" fill="#c8e6c8"/>
<rect x="361.25" y="366.9" width="8.46" height="13.65" fill="#e6f3e6"/>
<rect x="369.67" y="366.9" width="8.46" height="13.65" fill="#3a9a3a"/>
<rect x="378.08" y="366.9" width="8.46" height="13.65" fill="#a8d8a8"/>
<rect x="386.5" y="366.9" width="8.46" height="13.65" fill="#a8d8a8"/>
<rect x="394.91" y="366.9" width="8.46" height="13.65" fill="#5aaf5a"/>
<rect x="403.33" y="366.9" width="8.46" height="13.65" fill="#fdfcfc"/>
<rect x="411.74" y="366.9" width="8.46" height="13.65" fill="#3a9a3a"/>
<rect x="420.16" y="366.9" width="8.46" height="13.65" fill="#fdf3f3"/>
<rect x="428.57" y="366.9" width="8.46" height="13.65" fill="#3a9a3a"/>
<rect x="436.99" y="366.9" width="8.46" height="13.65" fill="#fde6e6"/>
<rect x="445.4" y="366.9" width="8.46" height="13.65" fill="#e6f3e6"/>
<rect x="453.82" y="366.9" width="8.46" height="13.65" fill="#fdf3f3"/>
<rect x="462.23" y="366.9" width="8.46" height="13.65" fill="#c8e6c8"/>
<rect x="470.65" y="366.9" width="8.46" height="13.65" fill="#fcd6d6"/>
<rect x="479.06" y="366.9" width="8.46" height="13.65" fill="#5aaf5a"/>
<rect x="487.48" y="366.9" width="8.46" height="13.65" fill="#fdfcfc"/>
<rect x="495.89" y="366.9" width="8.46" height="13.65" fill="#fdfcfc"/>
<rect x="504.31" y="366.9" width="8.46" height="13.65" fill="#82c482"/>
<rect x="512.72" y="366.9" width="8.46" height="13.65" fill="#3a9a3a"/>
<rect x="521.14" y="366.9" width="8.46" height="13.65" fill="#fcd6d6"/>
<rect x="529.55" y="366.9" width="8.46" height="13.65" fill="#fdfcfc"/>
<rect x="537.97" y="366.9" width="8.46" height="13.65" fill="#fde6e6"/>
<rect x="546.38" y="366.9" width="8.46" height="13.65" fill="#fde6e6"/>
<rect x="554.8" y="366.9" width="8.46" height="13.65" fill="#f9b8b8"/>
<rect x="563.21" y="366.9" width="8.46" height="13.65" fill="#c8e6c8"/>
<rect x="571.63" y="366.9" width="8.46" height="13.65" fill="#e6f3e6"/>
<rect x="580.04" y="366.9" width="8.46" height="13.65" fill="#fcd6d6"/>
<rect x="588.46" y="366.9" width="8.46" height="13.65" fill="#fdf3f3"/>
<rect x="596.87" y="366.9" width="8.46" height="13.65" fill="#fcd6d6"/>
<rect x="605.29" y="366.9" width="8.46" height="13.65" fill="#fdfcfc"/>
<rect x="613.7" y="366.9" width="8.46" height="13.65" fill="#fdf3f3"/>
<rect x="622.12" y="366.9" width="8.46" height="13.65" fill="#a8d8a8"/>
<rect x="630.53" y="366.9" width="8.46" height="13.65" fill="#fde6e6"/>
<rect x="638.95" y="366.9" width="8.46" height="13.65" fill="#148a14"/>
<rect x="647.36" y="366.9" width="8.46" height="13.65" fill="#a8d8a8"/>
<rect x="655.78" y="366.9" width="8.46" height="13.65" fill="#fde6e6"/>
<rect x="664.19" y="366.9" width="8.46" height="13.65" fill="#fdf3f3"/>
<line x1="58.31" y1="353.3" x2="58.31" y2="380.5" stroke="#c8c8c8" stroke-opacity="0.7" stroke-width="0.9"/>
<line x1="66.73" y1="353.3" x2="66.73" y2="380.5" stroke="#c8c8c8" stroke-opacity="0.7" stroke-width="0.9"/>
<line x1="75.14" y1="353.3" x2="75.14" y2="380.5" stroke="#c8c8c8" stroke-opacity="0.7" stroke-width="0.9"/>
<line x1="83.56" y1="353.3" x2="83.56" y2="380.5" stroke="#c8c8c8" stroke-opacity="0.7" stroke-width="0.9"/>
<line x1="91.97" y1="353.3" x2="91.97" y2="380.5" stroke="#c8c8c8" stroke-opacity="0.7" stroke-width="0.9"/>
<line x1="100.39" y1="353.3" x2="100.39" y2="380.5" stroke="#c8c8c8" stroke-opacity="0.7" stroke-width="0.9"/>
<line x1="108.8" y1="353.3" x2="108.8" y2="380.5" stroke="#c8c8c8" stroke-opacity="0.7" stroke-width="0.9"/>
<line x1="117.22" y1="353.3" x2="117.22" y2="380.5" stroke="#c8c8c8" stroke-opacity="0.7" stroke-width="0.9"/>
<line x1="125.63" y1="353.3" x2="125.63" y2="380.5" stroke="#c8c8c8" stroke-opacity="0.7" stroke-width="0.9"/>
<line x1="134.05" y1="353.3" x2="134.05" y2="380.5" stroke="#c8c8c8" stroke-opacity="0.7" stroke-width="0.9"/>
<line x1="142.47" y1="353.3" x2="142.47" y2="380.5" stroke="#c8c8c8" stroke-opacity="0.7" stroke-width="0.9"/>
<line x1="150.88" y1="353.3" x2="150.88" y2="380.5" stroke="#c8c8c8" stroke-opacity="0.7" stroke-width="0.9"/>
<line x1="159.29" y1="353.3" x2="159.29" y2="380.5" stroke="#c8c8c8" stroke-opacity="0.7" stroke-width="0.9"/>
<line x1="167.71" y1="353.3" x2="167.71" y2="380.5" stroke="#c8c8c8" stroke-opacity="0.7" stroke-width="0.9"/>
<line x1="176.12" y1="353.3" x2="176.12" y2="380.5" stroke="#c8c8c8" stroke-opacity="0.7" stroke-width="0.9"/>
<line x1="184.54" y1="353.3" x2="184.54" y2="380.5" stroke="#c8c8c8" stroke-opacity="0.7" stroke-width="0.9"/>
<line x1="192.95" y1="353.3" x2="192.95" y2="380.5" stroke="#c8c8c8" stroke-opacity="0.7" stroke-width="0.9"/>
<line x1="201.37" y1="353.3" x2="201.37" y2="380.5" stroke="#c8c8c8" stroke-opacity="0.7" stroke-width="0.9"/>
<line x1="209.78" y1="353.3" x2="209.78" y2="380.5" stroke="#c8c8c8" stroke-opacity="0.7" stroke-width="0.9"/>
<line x1="218.2" y1="353.3" x2="218.2" y2="380.5" stroke="#c8c8c8" stroke-opacity="0.7" stroke-width="0.9"/>
<line x1="226.61" y1="353.3" x2="226.61" y2="380.5" stroke="#c8c8c8" stroke-opacity="0.7" stroke-width="0.9"/>
<line x1="235.03" y1="353.3" x2="235.03" y2="380.5" stroke="#c8c8c8" stroke-opacity="0.7" stroke-width="0.9"/>
<line x1="243.44" y1="353.3" x2="243.44" y2="380.5" stroke="#c8c8c8" stroke-opacity="0.7" stroke-width="0.9"/>
<line x1="251.86" y1="353.3" x2="251.86" y2="380.5" stroke="#c8c8c8" stroke-opacity="0.7" stroke-width="0.9"/>
<line x1="260.27" y1="353.3" x2="260.27" y2="380.5" stroke="#c8c8c8" stroke-opacity="0.7" stroke-width="0.9"/>
<line x1="268.69" y1="353.3" x2="268.69" y2="380.5" stroke="#c8c8c8" stroke-opacity="0.7" stroke-width="0.9"/>
<line x1="277.1" y1="353.3" x2="277.1" y2="380.5" stroke="#c8c8c8" stroke-opacity="0.7" stroke-width="0.9"/>
<line x1="285.52" y1="353.3" x2="285.52" y2="380.5" stroke="#c8c8c8" stroke-opacity="0.7" stroke-width="0.9"/>
<line x1="293.93" y1="353.3" x2="293.93" y2="380.5" stroke="#c8c8c8" stroke-opacity="0.7" stroke-width="0.9"/>
<line x1="302.35" y1="353.3" x2="302.35" y2="380.5" stroke="#c8c8c8" stroke-opacity="0.7" stroke-width="0.9"/>
<line x1="310.76" y1="353.3" x2="310.76" y2="380.5" stroke="#c8c8c8" stroke-opacity="0.7" stroke-width="0.9"/>
<line x1="319.18" y1="353.3" x2="319.18" y2="380.5" stroke="#c8c8c8" stroke-opacity="0.7" stroke-width="0.9"/>
<line x1="327.59" y1="353.3" x2="327.59" y2="380.5" stroke="#c8c8c8" stroke-opacity="0.7" stroke-width="0.9"/>
<line x1="336.01" y1="353.3" x2="336.01" y2="380.5" stroke="#c8c8c8" stroke-opacity="0.7" stroke-width="0.9"/>
<line x1="344.42" y1="353.3" x2="344.42" y2="380.5" stroke="#c8c8c8" stroke-opacity="0.7" stroke-width="0.9"/>
<line x1="352.84" y1="353.3" x2="352.84" y2="380.5" stroke="#c8c8c8" stroke-opacity="0.7" stroke-width="0.9"/>
<line x1="361.25" y1="353.3" x2="361.25" y2="380.5" stroke="#c8c8c8" stroke-opacity="0.7" stroke-width="0.9"/>
<line x1="369.67" y1="353.3" x2="369.67" y2="380.5" stroke="#c8c8c8" stroke-opacity="0.7" stroke-width="0.9"/>
<line x1="378.08" y1="353.3" x2="378.08" y2="380.5" stroke="#c8c8c8" stroke-opacity="0.7" stroke-width="0.9"/>
<line x1="386.5" y1="353.3" x2="386.5" y2="380.5" stroke="#c8c8c8" stroke-opacity="0.7" stroke-width="0.9"/>
<line x1="394.91" y1="353.3" x2="394.91" y2="380.5" stroke="#c8c8c8" stroke-opacity="0.7" stroke-width="0.9"/>
<line x1="403.33" y1="353.3" x2="403.33" y2="380.5" stroke="#c8c8c8" stroke-opacity="0.7" stroke-width="0.9"/>
<line x1="411.74" y1="353.3" x2="411.74" y2="380.5" stroke="#c8c8c8" stroke-opacity="0.7" stroke-width="0.9"/>
<line x1="420.16" y1="353.3" x2="420.16" y2="380.5" stroke="#c8c8c8" stroke-opacity="0.7" stroke-width="0.9"/>
<line x1="428.57" y1="353.3" x2="428.57" y2="380.5" stroke="#c8c8c8" stroke-opacity="0.7" stroke-width="0.9"/>
<line x1="436.99" y1="353.3" x2="436.99" y2="380.5" stroke="#c8c8c8" stroke-opacity="0.7" stroke-width="0.9"/>
<line x1="445.4" y1="353.3" x2="445.4" y2="380.5" stroke="#c8c8c8" stroke-opacity="0.7" stroke-width="0.9"/>
<line x1="453.82" y1="353.3" x2="453.82" y2="380.5" stroke="#c8c8c8" stroke-opacity="0.7" stroke-width="0.9"/>
<line x1="462.23" y1="353.3" x2="462.23" y2="380.5" stroke="#c8c8c8" stroke-opacity="0.7" stroke-width="0.9"/>
<line x1="470.65" y1="353.3" x2="470.65" y2="380.5" stroke="#c8c8c8" stroke-opacity="0.7" stroke-width="0.9"/>
<line x1="479.06" y1="353.3" x2="479.06" y2="380.5" stroke="#c8c8c8" stroke-opacity="0.7" stroke-width="0.9"/>
<line x1="487.48" y1="353.3" x2="487.48" y2="380.5" stroke="#c8c8c8" stroke-opacity="0.7" stroke-width="0.9"/>
<line x1="495.89" y1="353.3" x2="495.89" y2="380.5" stroke="#c8c8c8" stroke-opacity="0.7" stroke-width="0.9"/>
<line x1="504.31" y1="353.3" x2="504.31" y2="380.5" stroke="#c8c8c8" stroke-opacity="0.7" stroke-width="0.9"/>
<line x1="512.72" y1="353.3" x2="512.72" y2="380.5" stroke="#c8c8c8" stroke-opacity="0.7" stroke-width="0.9"/>
<line x1="521.14" y1="353.3" x2="521.14" y2="380.5" stroke="#c8c8c8" stroke-opacity="0.7" stroke-width="0.9"/>
<line x1="529.55" y1="353.3" x2="529.55" y2="380.5" stroke="#c8c8c8" stroke-opacity="0.7" stroke-width="0.9"/>
<line x1="537.97" y1="353.3" x2="537.97" y2="380.5" stroke="#c8c8c8" stroke-opacity="0.7" stroke-width="0.9"/>
<line x1="546.38" y1="353.3" x2="546.38" y2="380.5" stroke="#c8c8c8" stroke-opacity="0.7" stroke-width="0.9"/>
<line x1="554.8" y1="353.3" x2="554.8" y2="380.5" stroke="#c8c8c8" stroke-opacity="0.7" stroke-width="0.9"/>
<line x1="563.21" y1="353.3" x2="563.21" y2="380.5" stroke="#c8c8c8" stroke-opacity="0.7" stroke-width="0.9"/>
<line x1="571.63" y1="353.3" x2="571.63" y2="380.5" stroke="#c8c8c8" stroke-opacity="0.7" stroke-width="0.9"/>
<line x1="580.04" y1="353.3" x2="580.04" y2="380.5" stroke="#c8c8c8" stroke-opacity="0.7" stroke-width="0.9"/>
<line x1="588.46" y1="353.3" x2="588.46" y2="380.5" stroke="#c8c8c8" stroke-opacity="0.7" stroke-width="0.9"/>
<line x1="596.87" y1="353.3" x2="596.87" y2="380.5" stroke="#c8c8c8" stroke-opacity="0.7" stroke-width="0.9"/>
<line x1="605.29" y1="353.3" x2="605.29" y2="380.5" stroke="#c8c8c8" stroke-opacity="0.7" stroke-width="0.9"/>
<line x1="613.7" y1="353.3" x2="613.7" y2="380.5" stroke="#c8c8c8" stroke-opacity="0.7" stroke-width="0.9"/>
<line x1="622.12" y1="353.3" x2="622.12" y2="380.5" stroke="#c8c8c8" stroke-opacity="0.7" stroke-width="0.9"/>
<line x1="630.53" y1="353.3" x2="630.53" y2="380.5" stroke="#c8c8c8" stroke-opacity="0.7" stroke-width="0.9"/>
<line x1="638.95" y1="353.3" x2="638.95" y2="380.5" stroke="#c8c8c8" stroke-opacity="0.7" stroke-width="0.9"/>
<line x1="647.36" y1="353.3" x2="647.36" y2="380.5" stroke="#c8c8c8" stroke-opacity="0.7" stroke-width="0.9"/>
<line x1="655.78" y1="353.3" x2="655.78" y2="380.5" stroke="#c8c8c8" stroke-opacity="0.7" stroke-width="0.9"/>
<line x1="664.19" y1="353.3" x2="664.19" y2="380.5" stroke="#c8c8c8" stroke-opacity="0.7" stroke-width="0.9"/>
<line x1="49.9" y1="353.3" x2="672.61" y2="353.3" stroke="#c8c8c8" stroke-opacity="0.7" stroke-width="0.9"/>
<line x1="49.9" y1="366.9" x2="672.61" y2="366.9" stroke="#c8c8c8" stroke-opacity="0.7" stroke-width="0.9"/>
<line x1="49.9" y1="380.5" x2="672.61" y2="380.5" stroke="#c8c8c8" stroke-opacity="0.7" stroke-width="0.9"/>
<rect x="49.9" y="225.5" width="622.71" height="155" fill="none" stroke="#8c8c8c" stroke-width="1"/>
<line x1="54.11" y1="222.7" x2="54.11" y2="225.5" stroke="#777" stroke-width="0.7"/>
<line x1="62.52" y1="222.7" x2="62.52" y2="225.5" stroke="#777" stroke-width="0.7"/>
<line x1="70.94" y1="222.7" x2="70.94" y2="225.5" stroke="#777" stroke-width="0.7"/>
<line x1="79.35" y1="222.7" x2="79.35" y2="225.5" stroke="#777" stroke-width="0.7"/>
<line x1="87.77" y1="222.7" x2="87.77" y2="225.5" stroke="#777" stroke-width="0.7"/>
<line x1="96.18" y1="222.7" x2="96.18" y2="225.5" stroke="#777" stroke-width="0.7"/>
<line x1="104.6" y1="222.7" x2="104.6" y2="225.5" stroke="#777" stroke-width="0.7"/>
<line x1="113.01" y1="222.7" x2="113.01" y2="225.5" stroke="#777" stroke-width="0.7"/>
<line x1="121.43" y1="222.7" x2="121.43" y2="225.5" stroke="#777" stroke-width="0.7"/>
<line x1="129.84" y1="222.7" x2="129.84" y2="225.5" stroke="#777" stroke-width="0.7"/>
<line x1="138.26" y1="222.7" x2="138.26" y2="225.5" stroke="#777" stroke-width="0.7"/>
<line x1="146.67" y1="222.7" x2="146.67" y2="225.5" stroke="#777" stroke-width="0.7"/>
<line x1="155.09" y1="222.7" x2="155.09" y2="225.5" stroke="#777" stroke-width="0.7"/>
<line x1="163.5" y1="222.7" x2="163.5" y2="225.5" stroke="#777" stroke-width="0.7"/>
<line x1="171.92" y1="222.7" x2="171.92" y2="225.5" stroke="#777" stroke-width="0.7"/>
<line x1="180.33" y1="222.7" x2="180.33" y2="225.5" stroke="#777" stroke-width="0.7"/>
<line x1="188.75" y1="222.7" x2="188.75" y2="225.5" stroke="#777" stroke-width="0.7"/>
<line x1="197.16" y1="222.7" x2="197.16" y2="225.5" stroke="#777" stroke-width="0.7"/>
<line x1="205.58" y1="222.7" x2="205.58" y2="225.5" stroke="#777" stroke-width="0.7"/>
<line x1="213.99" y1="222.7" x2="213.99" y2="225.5" stroke="#777" stroke-width="0.7"/>
<line x1="222.41" y1="222.7" x2="222.41" y2="225.5" stroke="#777" stroke-width="0.7"/>
<line x1="230.82" y1="222.7" x2="230.82" y2="225.5" stroke="#777" stroke-width="0.7"/>
<line x1="239.24" y1="222.7" x2="239.24" y2="225.5" stroke="#777" stroke-width="0.7"/>
<line x1="247.65" y1="222.7" x2="247.65" y2="225.5" stroke="#777" stroke-width="0.7"/>
<line x1="256.07" y1="222.7" x2="256.07" y2="225.5" stroke="#777" stroke-width="0.7"/>
<line x1="264.48" y1="222.7" x2="264.48" y2="225.5" stroke="#777" stroke-width="0.7"/>
<line x1="272.9" y1="222.7" x2="272.9" y2="225.5" stroke="#777" stroke-width="0.7"/>
<line x1="281.31" y1="222.7" x2="281.31" y2="225.5" stroke="#777" stroke-width="0.7"/>
<line x1="289.73" y1="222.7" x2="289.73" y2="225.5" stroke="#777" stroke-width="0.7"/>
<line x1="298.14" y1="222.7" x2="298.14" y2="225.5" stroke="#777" stroke-width="0.7"/>
<line x1="306.56" y1="222.7" x2="306.56" y2="225.5" stroke="#777" stroke-width="0.7"/>
<line x1="314.97" y1="222.7" x2="314.97" y2="225.5" stroke="#777" stroke-width="0.7"/>
<line x1="323.39" y1="222.7" x2="323.39" y2="225.5" stroke="#777" stroke-width="0.7"/>
<line x1="331.8" y1="222.7" x2="331.8" y2="225.5" stroke="#777" stroke-width="0.7"/>
<line x1="340.22" y1="222.7" x2="340.22" y2="225.5" stroke="#777" stroke-width="0.7"/>
<line x1="348.63" y1="222.7" x2="348.63" y2="225.5" stroke="#777" stroke-width="0.7"/>
<line x1="357.05" y1="222.7" x2="357.05" y2="225.5" stroke="#777" stroke-width="0.7"/>
<line x1="365.46" y1="222.7" x2="365.46" y2="225.5" stroke="#777" stroke-width="0.7"/>
<line x1="373.88" y1="222.7" x2="373.88" y2="225.5" stroke="#777" stroke-width="0.7"/>
<line x1="382.29" y1="222.7" x2="382.29" y2="225.5" stroke="#777" stroke-width="0.7"/>
<line x1="390.71" y1="222.7" x2="390.71" y2="225.5" stroke="#777" stroke-width="0.7"/>
<line x1="399.12" y1="222.7" x2="399.12" y2="225.5" stroke="#777" stroke-width="0.7"/>
<line x1="407.54" y1="222.7" x2="407.54" y2="225.5" stroke="#777" stroke-width="0.7"/>
<line x1="415.95" y1="222.7" x2="415.95" y2="225.5" stroke="#777" stroke-width="0.7"/>
<line x1="424.37" y1="222.7" x2="424.37" y2="225.5" stroke="#777" stroke-width="0.7"/>
<line x1="432.78" y1="222.7" x2="432.78" y2="225.5" stroke="#777" stroke-width="0.7"/>
<line x1="441.2" y1="222.7" x2="441.2" y2="225.5" stroke="#777" stroke-width="0.7"/>
<line x1="449.61" y1="222.7" x2="449.61" y2="225.5" stroke="#777" stroke-width="0.7"/>
<line x1="458.03" y1="222.7" x2="458.03" y2="225.5" stroke="#777" stroke-width="0.7"/>
<line x1="466.44" y1="222.7" x2="466.44" y2="225.5" stroke="#777" stroke-width="0.7"/>
<line x1="474.86" y1="222.7" x2="474.86" y2="225.5" stroke="#777" stroke-width="0.7"/>
<line x1="483.27" y1="222.7" x2="483.27" y2="225.5" stroke="#777" stroke-width="0.7"/>
<line x1="491.69" y1="222.7" x2="491.69" y2="225.5" stroke="#777" stroke-width="0.7"/>
<line x1="500.1" y1="222.7" x2="500.1" y2="225.5" stroke="#777" stroke-width="0.7"/>
<line x1="508.52" y1="222.7" x2="508.52" y2="225.5" stroke="#777" stroke-width="0.7"/>
<line x1="516.93" y1="222.7" x2="516.93" y2="225.5" stroke="#777" stroke-width="0.7"/>
<line x1="525.35" y1="222.7" x2="525.35" y2="225.5" stroke="#777" stroke-width="0.7"/>
<line x1="533.76" y1="222.7" x2="533.76" y2="225.5" stroke="#777" stroke-width="0.7"/>
<line x1="542.18" y1="222.7" x2="542.18" y2="225.5" stroke="#777" stroke-width="0.7"/>
<line x1="550.59" y1="222.7" x2="550.59" y2="225.5" stroke="#777" stroke-width="0.7"/>
<line x1="559.01" y1="222.7" x2="559.01" y2="225.5" stroke="#777" stroke-width="0.7"/>
<line x1="567.42" y1="222.7" x2="567.42" y2="225.5" stroke="#777" stroke-width="0.7"/>
<line x1="575.84" y1="222.7" x2="575.84" y2="225.5" stroke="#777" stroke-width="0.7"/>
<line x1="584.25" y1="222.7" x2="584.25" y2="225.5" stroke="#777" stroke-width="0.7"/>
<line x1="592.67" y1="222.7" x2="592.67" y2="225.5" stroke="#777" stroke-width="0.7"/>
<line x1="601.08" y1="222.7" x2="601.08" y2="225.5" stroke="#777" stroke-width="0.7"/>
<line x1="609.5" y1="222.7" x2="609.5" y2="225.5" stroke="#777" stroke-width="0.7"/>
<line x1="617.91" y1="222.7" x2="617.91" y2="225.5" stroke="#777" stroke-width="0.7"/>
<line x1="626.33" y1="222.7" x2="626.33" y2="225.5" stroke="#777" stroke-width="0.7"/>
<line x1="634.74" y1="222.7" x2="634.74" y2="225.5" stroke="#777" stroke-width="0.7"/>
<line x1="643.16" y1="222.7" x2="643.16" y2="225.5" stroke="#777" stroke-width="0.7"/>
<line x1="651.57" y1="222.7" x2="651.57" y2="225.5" stroke="#777" stroke-width="0.7"/>
<line x1="659.99" y1="222.7" x2="659.99" y2="225.5" stroke="#777" stroke-width="0.7"/>
<line x1="668.4" y1="222.7" x2="668.4" y2="225.5" stroke="#777" stroke-width="0.7"/>
<text transform="translate(57.46,221.4) rotate(-90) scale(0.96,1)" font-size="9.6" fill="#231f20">F02</text>
<text transform="translate(65.87,221.4) rotate(-90) scale(0.96,1)" font-size="9.6" fill="#231f20">F03</text>
<text transform="translate(74.29,221.4) rotate(-90) scale(0.96,1)" font-size="9.6" fill="#231f20">F04</text>
<text transform="translate(82.7,221.4) rotate(-90) scale(0.96,1)" font-size="9.6" fill="#231f20">F05</text>
<text transform="translate(91.12,221.4) rotate(-90) scale(0.96,1)" font-size="9.6" fill="#231f20">F06</text>
<text transform="translate(99.53,221.4) rotate(-90) scale(0.96,1)" font-size="9.6" fill="#231f20">F08</text>
<text transform="translate(107.95,221.4) rotate(-90) scale(0.96,1)" font-size="9.6" fill="#231f20">F09</text>
<text transform="translate(116.36,221.4) rotate(-90) scale(0.96,1)" font-size="9.6" fill="#231f20">F10</text>
<text transform="translate(124.78,221.4) rotate(-90) scale(0.96,1)" font-size="9.6" fill="#231f20">F11</text>
<text transform="translate(133.19,221.4) rotate(-90) scale(0.96,1)" font-size="9.6" fill="#231f20">F12</text>
<text transform="translate(141.61,221.4) rotate(-90) scale(0.96,1)" font-size="9.6" fill="#231f20">F13</text>
<text transform="translate(150.02,221.4) rotate(-90) scale(0.96,1)" font-size="9.6" fill="#231f20">F14</text>
<text transform="translate(158.44,221.4) rotate(-90) scale(0.96,1)" font-size="9.6" fill="#231f20">F15</text>
<text transform="translate(166.85,221.4) rotate(-90) scale(0.96,1)" font-size="9.6" fill="#231f20">F16</text>
<text transform="translate(175.27,221.4) rotate(-90) scale(0.96,1)" font-size="9.6" fill="#231f20">F17</text>
<text transform="translate(183.68,221.4) rotate(-90) scale(0.96,1)" font-size="9.6" fill="#231f20">F18</text>
<text transform="translate(192.1,221.4) rotate(-90) scale(0.96,1)" font-size="9.6" fill="#231f20">F19</text>
<text transform="translate(200.51,221.4) rotate(-90) scale(0.96,1)" font-size="9.6" fill="#231f20">F20</text>
<text transform="translate(208.93,221.4) rotate(-90) scale(0.96,1)" font-size="9.6" fill="#231f20">F21</text>
<text transform="translate(217.34,221.4) rotate(-90) scale(0.96,1)" font-size="9.6" fill="#231f20">F22</text>
<text transform="translate(225.76,221.4) rotate(-90) scale(0.96,1)" font-size="9.6" fill="#231f20">F24</text>
<text transform="translate(234.17,221.4) rotate(-90) scale(0.96,1)" font-size="9.6" fill="#231f20">F25</text>
<text transform="translate(242.59,221.4) rotate(-90) scale(0.96,1)" font-size="9.6" fill="#231f20">F26</text>
<text transform="translate(251,221.4) rotate(-90) scale(0.96,1)" font-size="9.6" fill="#231f20">F27</text>
<text transform="translate(259.42,221.4) rotate(-90) scale(0.96,1)" font-size="9.6" fill="#231f20">F29</text>
<text transform="translate(267.83,221.4) rotate(-90) scale(0.96,1)" font-size="9.6" fill="#231f20">F30</text>
<text transform="translate(276.25,221.4) rotate(-90) scale(0.96,1)" font-size="9.6" fill="#231f20">F31</text>
<text transform="translate(284.66,221.4) rotate(-90) scale(0.96,1)" font-size="9.6" fill="#231f20">F32</text>
<text transform="translate(293.08,221.4) rotate(-90) scale(0.96,1)" font-size="9.6" fill="#231f20">F33</text>
<text transform="translate(301.49,221.4) rotate(-90) scale(0.96,1)" font-size="9.6" fill="#231f20">F34</text>
<text transform="translate(309.91,221.4) rotate(-90) scale(0.96,1)" font-size="9.6" fill="#231f20">F36</text>
<text transform="translate(318.32,221.4) rotate(-90) scale(0.96,1)" font-size="9.6" fill="#231f20">F37</text>
<text transform="translate(326.74,221.4) rotate(-90) scale(0.96,1)" font-size="9.6" fill="#231f20">F39</text>
<text transform="translate(335.15,221.4) rotate(-90) scale(0.96,1)" font-size="9.6" fill="#231f20">F40</text>
<text transform="translate(343.57,221.4) rotate(-90) scale(0.96,1)" font-size="9.6" fill="#231f20">F42</text>
<text transform="translate(351.98,221.4) rotate(-90) scale(0.96,1)" font-size="9.6" fill="#231f20">F43</text>
<text transform="translate(360.4,221.4) rotate(-90) scale(0.96,1)" font-size="9.6" fill="#231f20">F44</text>
<text transform="translate(368.81,221.4) rotate(-90) scale(0.96,1)" font-size="9.6" fill="#231f20">F45</text>
<text transform="translate(377.23,221.4) rotate(-90) scale(0.96,1)" font-size="9.6" fill="#231f20">F46</text>
<text transform="translate(385.64,221.4) rotate(-90) scale(0.96,1)" font-size="9.6" fill="#231f20">F47</text>
<text transform="translate(394.06,221.4) rotate(-90) scale(0.96,1)" font-size="9.6" fill="#231f20">F48</text>
<text transform="translate(402.47,221.4) rotate(-90) scale(0.96,1)" font-size="9.6" fill="#231f20">F49</text>
<text transform="translate(410.89,221.4) rotate(-90) scale(0.96,1)" font-size="9.6" fill="#231f20">F50</text>
<text transform="translate(419.3,221.4) rotate(-90) scale(0.96,1)" font-size="9.6" fill="#231f20">F51</text>
<text transform="translate(427.72,221.4) rotate(-90) scale(0.96,1)" font-size="9.6" fill="#231f20">F52</text>
<text transform="translate(436.13,221.4) rotate(-90) scale(0.96,1)" font-size="9.6" fill="#231f20">F53</text>
<text transform="translate(444.55,221.4) rotate(-90) scale(0.96,1)" font-size="9.6" fill="#231f20">F54</text>
<text transform="translate(452.96,221.4) rotate(-90) scale(0.96,1)" font-size="9.6" fill="#231f20">F55</text>
<text transform="translate(461.38,221.4) rotate(-90) scale(0.96,1)" font-size="9.6" fill="#231f20">F56</text>
<text transform="translate(469.79,221.4) rotate(-90) scale(0.96,1)" font-size="9.6" fill="#231f20">F57</text>
<text transform="translate(478.21,221.4) rotate(-90) scale(0.96,1)" font-size="9.6" fill="#231f20">F59</text>
<text transform="translate(486.62,221.4) rotate(-90) scale(0.96,1)" font-size="9.6" fill="#231f20">F60</text>
<text transform="translate(495.04,221.4) rotate(-90) scale(0.96,1)" font-size="9.6" fill="#231f20">F62</text>
<text transform="translate(503.45,221.4) rotate(-90) scale(0.96,1)" font-size="9.6" fill="#231f20">F63</text>
<text transform="translate(511.87,221.4) rotate(-90) scale(0.96,1)" font-size="9.6" fill="#231f20">F64</text>
<text transform="translate(520.28,221.4) rotate(-90) scale(0.96,1)" font-size="9.6" fill="#231f20">F66</text>
<text transform="translate(528.7,221.4) rotate(-90) scale(0.96,1)" font-size="9.6" fill="#231f20">F69</text>
<text transform="translate(537.11,221.4) rotate(-90) scale(0.96,1)" font-size="9.6" fill="#231f20">F70</text>
<text transform="translate(545.53,221.4) rotate(-90) scale(0.96,1)" font-size="9.6" fill="#231f20">F71</text>
<text transform="translate(553.94,221.4) rotate(-90) scale(0.96,1)" font-size="9.6" fill="#231f20">F72</text>
<text transform="translate(562.36,221.4) rotate(-90) scale(0.96,1)" font-size="9.6" fill="#231f20">F77</text>
<text transform="translate(570.77,221.4) rotate(-90) scale(0.96,1)" font-size="9.6" fill="#231f20">F78</text>
<text transform="translate(579.19,221.4) rotate(-90) scale(0.96,1)" font-size="9.6" fill="#231f20">F79</text>
<text transform="translate(587.6,221.4) rotate(-90) scale(0.96,1)" font-size="9.6" fill="#231f20">F80</text>
<text transform="translate(596.02,221.4) rotate(-90) scale(0.96,1)" font-size="9.6" fill="#231f20">F81</text>
<text transform="translate(604.43,221.4) rotate(-90) scale(0.96,1)" font-size="9.6" fill="#231f20">F83</text>
<text transform="translate(612.85,221.4) rotate(-90) scale(0.96,1)" font-size="9.6" fill="#231f20">F84</text>
<text transform="translate(621.26,221.4) rotate(-90) scale(0.96,1)" font-size="9.6" fill="#231f20">F86</text>
<text transform="translate(629.68,221.4) rotate(-90) scale(0.96,1)" font-size="9.6" fill="#231f20">F87</text>
<text transform="translate(638.09,221.4) rotate(-90) scale(0.96,1)" font-size="9.6" fill="#231f20">F89</text>
<text transform="translate(646.51,221.4) rotate(-90) scale(0.96,1)" font-size="9.6" fill="#231f20">F90</text>
<text transform="translate(654.92,221.4) rotate(-90) scale(0.96,1)" font-size="9.6" fill="#231f20">F93</text>
<text transform="translate(663.34,221.4) rotate(-90) scale(0.96,1)" font-size="9.6" fill="#231f20">F95</text>
<text transform="translate(671.75,221.4) rotate(-90) scale(0.96,1)" font-size="9.6" fill="#231f20">F96</text>
<line x1="46.9" y1="232.3" x2="49.9" y2="232.3" stroke="#777" stroke-width="0.7"/>
<text x="46.8" y="234.9" font-size="10.4" text-anchor="end" fill="#231f20">Heart #3</text>
<line x1="46.9" y1="245.9" x2="49.9" y2="245.9" stroke="#777" stroke-width="0.7"/>
<text x="46.8" y="248.5" font-size="10.4" text-anchor="end" fill="#231f20">Heart #4</text>
<line x1="46.9" y1="264.25" x2="49.9" y2="264.25" stroke="#777" stroke-width="0.7"/>
<text x="46.8" y="266.85" font-size="10.4" text-anchor="end" fill="#231f20">Liver #3</text>
<line x1="46.9" y1="277.85" x2="49.9" y2="277.85" stroke="#777" stroke-width="0.7"/>
<text x="46.8" y="280.45" font-size="10.4" text-anchor="end" fill="#231f20">Liver #4</text>
<line x1="46.9" y1="296.2" x2="49.9" y2="296.2" stroke="#777" stroke-width="0.7"/>
<text x="46.8" y="298.8" font-size="10.4" text-anchor="end" fill="#231f20">Spleen #3</text>
<line x1="46.9" y1="309.8" x2="49.9" y2="309.8" stroke="#777" stroke-width="0.7"/>
<text x="46.8" y="312.4" font-size="10.4" text-anchor="end" fill="#231f20">Spleen #4</text>
<line x1="46.9" y1="328.15" x2="49.9" y2="328.15" stroke="#777" stroke-width="0.7"/>
<text x="46.8" y="330.75" font-size="10.4" text-anchor="end" fill="#231f20">Lung #3</text>
<line x1="46.9" y1="341.75" x2="49.9" y2="341.75" stroke="#777" stroke-width="0.7"/>
<text x="46.8" y="344.35" font-size="10.4" text-anchor="end" fill="#231f20">Lung #4</text>
<line x1="46.9" y1="360.1" x2="49.9" y2="360.1" stroke="#777" stroke-width="0.7"/>
<text x="46.8" y="362.7" font-size="10.4" text-anchor="end" fill="#231f20">Kidney #3</text>
<line x1="46.9" y1="373.7" x2="49.9" y2="373.7" stroke="#777" stroke-width="0.7"/>
<text x="46.8" y="376.3" font-size="10.4" text-anchor="end" fill="#231f20">Kidney #4</text>
<defs><linearGradient id="cbb" x1="0" y1="0" x2="1" y2="0"><stop offset="0" stop-color="#1e8c1e"/><stop offset="0.03" stop-color="#7cc07c"/><stop offset="0.055" stop-color="#fdfdfd"/><stop offset="0.1" stop-color="#fef4f4"/><stop offset="0.36" stop-color="#fcd2d2"/><stop offset="0.5" stop-color="#fbb4b4"/><stop offset="0.72" stop-color="#f98c8c"/><stop offset="1" stop-color="#f84040"/></linearGradient></defs>
<rect x="323.3" y="387.8" width="150" height="7.6" fill="url(#cbb)" stroke="#7a7a7a" stroke-width="0.9"/>
<line x1="377" y1="387.8" x2="377" y2="389.8" stroke="#555" stroke-width="0.8"/>
<line x1="377" y1="393.4" x2="377" y2="395.4" stroke="#555" stroke-width="0.8"/>
<line x1="377" y1="389.8" x2="377" y2="393.4" stroke="#888" stroke-width="0.5" stroke-dasharray="1,1.2"/>
<line x1="430.5" y1="387.8" x2="430.5" y2="389.8" stroke="#555" stroke-width="0.8"/>
<line x1="430.5" y1="393.4" x2="430.5" y2="395.4" stroke="#555" stroke-width="0.8"/>
<line x1="430.5" y1="389.8" x2="430.5" y2="393.4" stroke="#888" stroke-width="0.5" stroke-dasharray="1,1.2"/>
<text x="316.4" y="395.9" font-size="10.4" text-anchor="end" fill="#231f20">Enrichment Factor</text>
<text x="4.5" y="409.3" font-size="13.5" text-anchor="start" fill="#231f20" font-weight="bold">c</text>
<line x1="22.6" y1="418" x2="22.6" y2="535.4" stroke="#111" stroke-width="1.2"/>
<line x1="22.1" y1="534.9" x2="139.5" y2="534.9" stroke="#111" stroke-width="1.2"/>
<line x1="17.8" y1="534.9" x2="22.6" y2="534.9" stroke="#111" stroke-width="1"/>
<text x="15.9" y="538.2" font-size="10.4" text-anchor="end" fill="#231f20">0</text>
<line x1="17.8" y1="505.67" x2="22.6" y2="505.67" stroke="#111" stroke-width="1"/>
<text x="15.9" y="508.97" font-size="10.4" text-anchor="end" fill="#231f20">2</text>
<line x1="17.8" y1="476.45" x2="22.6" y2="476.45" stroke="#111" stroke-width="1"/>
<text x="15.9" y="479.75" font-size="10.4" text-anchor="end" fill="#231f20">4</text>
<line x1="17.8" y1="447.23" x2="22.6" y2="447.23" stroke="#111" stroke-width="1"/>
<text x="15.9" y="450.53" font-size="10.4" text-anchor="end" fill="#231f20">6</text>
<line x1="17.8" y1="418" x2="22.6" y2="418" stroke="#111" stroke-width="1"/>
<text x="15.9" y="421.3" font-size="10.4" text-anchor="end" fill="#231f20">8</text>
<line x1="37.15" y1="534.9" x2="37.15" y2="539.5" stroke="#111" stroke-width="1"/>
<text x="38.15" y="548.7" font-size="10.2" text-anchor="middle" fill="#231f20">Z93</text>
<line x1="58.9" y1="534.9" x2="58.9" y2="539.5" stroke="#111" stroke-width="1"/>
<text x="59.9" y="548.7" font-size="10.2" text-anchor="middle" fill="#231f20">Z95</text>
<line x1="80.65" y1="534.9" x2="80.65" y2="539.5" stroke="#111" stroke-width="1"/>
<text x="81.65" y="548.7" font-size="10.2" text-anchor="middle" fill="#231f20">Z59</text>
<line x1="102.4" y1="534.9" x2="102.4" y2="539.5" stroke="#111" stroke-width="1"/>
<text x="103.4" y="548.7" font-size="10.2" text-anchor="middle" fill="#231f20">Z69</text>
<line x1="124.15" y1="534.9" x2="124.15" y2="539.5" stroke="#111" stroke-width="1"/>
<text x="125.15" y="548.7" font-size="10.2" text-anchor="middle" fill="#231f20">Z20</text>
<text x="83.2" y="563.8" font-size="10.4" text-anchor="middle" fill="#231f20">Nanocapsules</text>
<text x="79.8" y="415.6" font-size="10.4" text-anchor="middle" fill="#231f20">Heart</text>
<text transform="translate(8.6,474) rotate(-90)" font-size="10.4" text-anchor="middle" fill="#231f20">Enrichment Factor</text>
<line x1="30" y1="452.9" x2="44" y2="452.9" stroke="#7099d6" stroke-opacity="0.75" stroke-width="1.7"/>
<line x1="54" y1="473.4" x2="64" y2="473.4" stroke="#7099d6" stroke-opacity="0.75" stroke-width="1.7"/>
<line x1="75.6" y1="500" x2="85.8" y2="500" stroke="#7099d6" stroke-opacity="0.75" stroke-width="1.7"/>
<line x1="97.7" y1="502.8" x2="107.9" y2="502.8" stroke="#7099d6" stroke-opacity="0.75" stroke-width="1.7"/>
<line x1="119.6" y1="509.9" x2="129.4" y2="509.9" stroke="#7099d6" stroke-opacity="0.75" stroke-width="1.7"/>
<circle cx="37" cy="447.3" r="3.05" fill="#7099d6"/>
<circle cx="37" cy="458.4" r="3.05" fill="#7099d6"/>
<circle cx="54" cy="475.7" r="3.05" fill="#7099d6"/>
<circle cx="64" cy="471.2" r="3.05" fill="#7099d6"/>
<circle cx="75.6" cy="500.5" r="3.05" fill="#7099d6"/>
<circle cx="85.8" cy="499.4" r="3.05" fill="#7099d6"/>
<circle cx="97.7" cy="504.3" r="3.05" fill="#7099d6"/>
<circle cx="107.9" cy="501.3" r="3.05" fill="#7099d6"/>
<circle cx="119.6" cy="509.9" r="3.05" fill="#7099d6"/>
<circle cx="129.4" cy="509.9" r="3.05" fill="#7099d6"/>
<line x1="159.7" y1="418" x2="159.7" y2="535.4" stroke="#111" stroke-width="1.2"/>
<line x1="159.2" y1="534.9" x2="276.6" y2="534.9" stroke="#111" stroke-width="1.2"/>
<line x1="154.9" y1="534.9" x2="159.7" y2="534.9" stroke="#111" stroke-width="1"/>
<text x="153" y="538.2" font-size="10.4" text-anchor="end" fill="#231f20">0</text>
<line x1="154.9" y1="495.93" x2="159.7" y2="495.93" stroke="#111" stroke-width="1"/>
<text x="153" y="499.23" font-size="10.4" text-anchor="end" fill="#231f20">5</text>
<line x1="154.9" y1="456.97" x2="159.7" y2="456.97" stroke="#111" stroke-width="1"/>
<text x="153" y="460.27" font-size="10.4" text-anchor="end" fill="#231f20">10</text>
<line x1="154.9" y1="418" x2="159.7" y2="418" stroke="#111" stroke-width="1"/>
<text x="153" y="421.3" font-size="10.4" text-anchor="end" fill="#231f20">15</text>
<line x1="174.25" y1="534.9" x2="174.25" y2="539.5" stroke="#111" stroke-width="1"/>
<text x="175.25" y="548.7" font-size="10.2" text-anchor="middle" fill="#231f20">Z95</text>
<line x1="196" y1="534.9" x2="196" y2="539.5" stroke="#111" stroke-width="1"/>
<text x="197" y="548.7" font-size="10.2" text-anchor="middle" fill="#231f20">Z93</text>
<line x1="217.75" y1="534.9" x2="217.75" y2="539.5" stroke="#111" stroke-width="1"/>
<text x="218.75" y="548.7" font-size="10.2" text-anchor="middle" fill="#231f20">Z38</text>
<line x1="239.5" y1="534.9" x2="239.5" y2="539.5" stroke="#111" stroke-width="1"/>
<text x="240.5" y="548.7" font-size="10.2" text-anchor="middle" fill="#231f20">Z91</text>
<line x1="261.25" y1="534.9" x2="261.25" y2="539.5" stroke="#111" stroke-width="1"/>
<text x="262.25" y="548.7" font-size="10.2" text-anchor="middle" fill="#231f20">Z69</text>
<text x="220.3" y="563.8" font-size="10.4" text-anchor="middle" fill="#231f20">Nanocapsules</text>
<text x="216.9" y="415.6" font-size="10.4" text-anchor="middle" fill="#231f20">Liver</text>
<text transform="translate(143.5,474) rotate(-90)" font-size="10.4" text-anchor="middle" fill="#231f20">Enrichment Factor</text>
<line x1="167" y1="445.6" x2="181.8" y2="445.6" stroke="#8489cf" stroke-opacity="0.75" stroke-width="1.7"/>
<line x1="189" y1="486.4" x2="203.4" y2="486.4" stroke="#8489cf" stroke-opacity="0.75" stroke-width="1.7"/>
<line x1="210.5" y1="488.2" x2="225" y2="488.2" stroke="#8489cf" stroke-opacity="0.75" stroke-width="1.7"/>
<line x1="235" y1="494.1" x2="244.7" y2="494.1" stroke="#8489cf" stroke-opacity="0.75" stroke-width="1.7"/>
<line x1="254.3" y1="499.2" x2="268.7" y2="499.2" stroke="#8489cf" stroke-opacity="0.75" stroke-width="1.7"/>
<circle cx="174.3" cy="442.6" r="3.05" fill="#8489cf"/>
<circle cx="174.3" cy="448.8" r="3.05" fill="#8489cf"/>
<circle cx="196.2" cy="480.4" r="3.05" fill="#8489cf"/>
<circle cx="196.2" cy="492.4" r="3.05" fill="#8489cf"/>
<circle cx="217.7" cy="481.5" r="3.05" fill="#8489cf"/>
<circle cx="217.7" cy="494.7" r="3.05" fill="#8489cf"/>
<circle cx="235" cy="494.7" r="3.05" fill="#8489cf"/>
<circle cx="244.7" cy="493.5" r="3.05" fill="#8489cf"/>
<circle cx="261.5" cy="495.9" r="3.05" fill="#8489cf"/>
<circle cx="261.5" cy="502.8" r="3.05" fill="#8489cf"/>
<line x1="298.6" y1="418" x2="298.6" y2="535.4" stroke="#111" stroke-width="1.2"/>
<line x1="298.1" y1="534.9" x2="415.5" y2="534.9" stroke="#111" stroke-width="1.2"/>
<line x1="293.8" y1="534.9" x2="298.6" y2="534.9" stroke="#111" stroke-width="1"/>
<text x="291.9" y="538.2" font-size="10.4" text-anchor="end" fill="#231f20">0</text>
<line x1="293.8" y1="505.67" x2="298.6" y2="505.67" stroke="#111" stroke-width="1"/>
<text x="291.9" y="508.97" font-size="10.4" text-anchor="end" fill="#231f20">5</text>
<line x1="293.8" y1="476.45" x2="298.6" y2="476.45" stroke="#111" stroke-width="1"/>
<text x="291.9" y="479.75" font-size="10.4" text-anchor="end" fill="#231f20">10</text>
<line x1="293.8" y1="447.23" x2="298.6" y2="447.23" stroke="#111" stroke-width="1"/>
<text x="291.9" y="450.53" font-size="10.4" text-anchor="end" fill="#231f20">15</text>
<line x1="293.8" y1="418" x2="298.6" y2="418" stroke="#111" stroke-width="1"/>
<text x="291.9" y="421.3" font-size="10.4" text-anchor="end" fill="#231f20">20</text>
<line x1="313.15" y1="534.9" x2="313.15" y2="539.5" stroke="#111" stroke-width="1"/>
<text x="314.15" y="548.7" font-size="10.2" text-anchor="middle" fill="#231f20">Z95</text>
<line x1="334.9" y1="534.9" x2="334.9" y2="539.5" stroke="#111" stroke-width="1"/>
<text x="335.9" y="548.7" font-size="10.2" text-anchor="middle" fill="#231f20">Z93</text>
<line x1="356.65" y1="534.9" x2="356.65" y2="539.5" stroke="#111" stroke-width="1"/>
<text x="357.65" y="548.7" font-size="10.2" text-anchor="middle" fill="#231f20">Z69</text>
<line x1="378.4" y1="534.9" x2="378.4" y2="539.5" stroke="#111" stroke-width="1"/>
<text x="379.4" y="548.7" font-size="10.2" text-anchor="middle" fill="#231f20">Z91</text>
<line x1="400.15" y1="534.9" x2="400.15" y2="539.5" stroke="#111" stroke-width="1"/>
<text x="401.15" y="548.7" font-size="10.2" text-anchor="middle" fill="#231f20">Z84</text>
<text x="359.2" y="563.8" font-size="10.4" text-anchor="middle" fill="#231f20">Nanocapsules</text>
<text x="355.8" y="415.6" font-size="10.4" text-anchor="middle" fill="#231f20">Spleen</text>
<text transform="translate(281.3,474) rotate(-90)" font-size="10.4" text-anchor="middle" fill="#231f20">Enrichment Factor</text>
<line x1="307.9" y1="455.6" x2="318.1" y2="455.6" stroke="#b07cc6" stroke-opacity="0.75" stroke-width="1.7"/>
<line x1="330.1" y1="492.2" x2="340" y2="492.2" stroke="#b07cc6" stroke-opacity="0.75" stroke-width="1.7"/>
<line x1="351.8" y1="519.1" x2="361.9" y2="519.1" stroke="#b07cc6" stroke-opacity="0.75" stroke-width="1.7"/>
<line x1="373.5" y1="519.1" x2="383.4" y2="519.1" stroke="#b07cc6" stroke-opacity="0.75" stroke-width="1.7"/>
<line x1="395.4" y1="521.4" x2="405.3" y2="521.4" stroke="#b07cc6" stroke-opacity="0.75" stroke-width="1.7"/>
<circle cx="307.9" cy="457.9" r="3.05" fill="#b07cc6"/>
<circle cx="318.1" cy="453.4" r="3.05" fill="#b07cc6"/>
<circle cx="330.1" cy="493.1" r="3.05" fill="#b07cc6"/>
<circle cx="340" cy="491.2" r="3.05" fill="#b07cc6"/>
<circle cx="351.8" cy="519.2" r="3.05" fill="#b07cc6"/>
<circle cx="361.9" cy="519" r="3.05" fill="#b07cc6"/>
<circle cx="373.5" cy="519.2" r="3.05" fill="#b07cc6"/>
<circle cx="383.4" cy="519.1" r="3.05" fill="#b07cc6"/>
<circle cx="395.4" cy="521.5" r="3.05" fill="#b07cc6"/>
<circle cx="405.3" cy="521.4" r="3.05" fill="#b07cc6"/>
<line x1="433.3" y1="418" x2="433.3" y2="535.4" stroke="#111" stroke-width="1.2"/>
<line x1="432.8" y1="534.9" x2="550.2" y2="534.9" stroke="#111" stroke-width="1.2"/>
<line x1="428.5" y1="534.9" x2="433.3" y2="534.9" stroke="#111" stroke-width="1"/>
<text x="426.6" y="538.2" font-size="10.4" text-anchor="end" fill="#231f20">0</text>
<line x1="428.5" y1="511.52" x2="433.3" y2="511.52" stroke="#111" stroke-width="1"/>
<text x="426.6" y="514.82" font-size="10.4" text-anchor="end" fill="#231f20">1</text>
<line x1="428.5" y1="488.14" x2="433.3" y2="488.14" stroke="#111" stroke-width="1"/>
<text x="426.6" y="491.44" font-size="10.4" text-anchor="end" fill="#231f20">2</text>
<line x1="428.5" y1="464.76" x2="433.3" y2="464.76" stroke="#111" stroke-width="1"/>
<text x="426.6" y="468.06" font-size="10.4" text-anchor="end" fill="#231f20">3</text>
<line x1="428.5" y1="441.38" x2="433.3" y2="441.38" stroke="#111" stroke-width="1"/>
<text x="426.6" y="444.68" font-size="10.4" text-anchor="end" fill="#231f20">4</text>
<line x1="428.5" y1="418" x2="433.3" y2="418" stroke="#111" stroke-width="1"/>
<text x="426.6" y="421.3" font-size="10.4" text-anchor="end" fill="#231f20">5</text>
<line x1="447.85" y1="534.9" x2="447.85" y2="539.5" stroke="#111" stroke-width="1"/>
<text x="448.85" y="548.7" font-size="10.2" text-anchor="middle" fill="#231f20">Z31</text>
<line x1="469.6" y1="534.9" x2="469.6" y2="539.5" stroke="#111" stroke-width="1"/>
<text x="470.6" y="548.7" font-size="10.2" text-anchor="middle" fill="#231f20">Z91</text>
<line x1="491.35" y1="534.9" x2="491.35" y2="539.5" stroke="#111" stroke-width="1"/>
<text x="492.35" y="548.7" font-size="10.2" text-anchor="middle" fill="#231f20">Z20</text>
<line x1="513.1" y1="534.9" x2="513.1" y2="539.5" stroke="#111" stroke-width="1"/>
<text x="514.1" y="548.7" font-size="10.2" text-anchor="middle" fill="#231f20">Z59</text>
<line x1="534.85" y1="534.9" x2="534.85" y2="539.5" stroke="#111" stroke-width="1"/>
<text x="535.85" y="548.7" font-size="10.2" text-anchor="middle" fill="#231f20">Z89</text>
<text x="493.9" y="563.8" font-size="10.4" text-anchor="middle" fill="#231f20">Nanocapsules</text>
<text x="490.5" y="415.6" font-size="10.4" text-anchor="middle" fill="#231f20">Lung</text>
<text transform="translate(419.6,474) rotate(-90)" font-size="10.4" text-anchor="middle" fill="#231f20">Enrichment Factor</text>
<line x1="442.7" y1="470.8" x2="452.6" y2="470.8" stroke="#17995f" stroke-opacity="0.75" stroke-width="1.7"/>
<line x1="462" y1="478.6" x2="476.4" y2="478.6" stroke="#17995f" stroke-opacity="0.75" stroke-width="1.7"/>
<line x1="486.3" y1="478.9" x2="496.5" y2="478.9" stroke="#17995f" stroke-opacity="0.75" stroke-width="1.7"/>
<line x1="508" y1="484.5" x2="518.2" y2="484.5" stroke="#17995f" stroke-opacity="0.75" stroke-width="1.7"/>
<line x1="527.8" y1="486.2" x2="542.2" y2="486.2" stroke="#17995f" stroke-opacity="0.75" stroke-width="1.7"/>
<circle cx="442.7" cy="472.9" r="3.05" fill="#17995f"/>
<circle cx="452.6" cy="468.8" r="3.05" fill="#17995f"/>
<circle cx="469.2" cy="474.6" r="3.05" fill="#17995f"/>
<circle cx="469.2" cy="482.7" r="3.05" fill="#17995f"/>
<circle cx="486.3" cy="480.6" r="3.05" fill="#17995f"/>
<circle cx="496.5" cy="477.2" r="3.05" fill="#17995f"/>
<circle cx="508" cy="486.2" r="3.05" fill="#17995f"/>
<circle cx="518.2" cy="482.9" r="3.05" fill="#17995f"/>
<circle cx="535" cy="483.6" r="3.05" fill="#17995f"/>
<circle cx="535" cy="488.9" r="3.05" fill="#17995f"/>
<line x1="567.75" y1="418" x2="567.75" y2="535.4" stroke="#111" stroke-width="1.2"/>
<line x1="567.25" y1="534.9" x2="684.65" y2="534.9" stroke="#111" stroke-width="1.2"/>
<line x1="562.95" y1="534.9" x2="567.75" y2="534.9" stroke="#111" stroke-width="1"/>
<text x="561.05" y="538.2" font-size="10.4" text-anchor="end" fill="#231f20">0</text>
<line x1="562.95" y1="505.67" x2="567.75" y2="505.67" stroke="#111" stroke-width="1"/>
<text x="561.05" y="508.97" font-size="10.4" text-anchor="end" fill="#231f20">2</text>
<line x1="562.95" y1="476.45" x2="567.75" y2="476.45" stroke="#111" stroke-width="1"/>
<text x="561.05" y="479.75" font-size="10.4" text-anchor="end" fill="#231f20">4</text>
<line x1="562.95" y1="447.23" x2="567.75" y2="447.23" stroke="#111" stroke-width="1"/>
<text x="561.05" y="450.53" font-size="10.4" text-anchor="end" fill="#231f20">6</text>
<line x1="562.95" y1="418" x2="567.75" y2="418" stroke="#111" stroke-width="1"/>
<text x="561.05" y="421.3" font-size="10.4" text-anchor="end" fill="#231f20">8</text>
<line x1="582.3" y1="534.9" x2="582.3" y2="539.5" stroke="#111" stroke-width="1"/>
<text x="583.3" y="548.7" font-size="10.2" text-anchor="middle" fill="#231f20">Z20</text>
<line x1="604.05" y1="534.9" x2="604.05" y2="539.5" stroke="#111" stroke-width="1"/>
<text x="605.05" y="548.7" font-size="10.2" text-anchor="middle" fill="#231f20">Z40</text>
<line x1="625.8" y1="534.9" x2="625.8" y2="539.5" stroke="#111" stroke-width="1"/>
<text x="626.8" y="548.7" font-size="10.2" text-anchor="middle" fill="#231f20">Z69</text>
<line x1="647.55" y1="534.9" x2="647.55" y2="539.5" stroke="#111" stroke-width="1"/>
<text x="648.55" y="548.7" font-size="10.2" text-anchor="middle" fill="#231f20">Z91</text>
<line x1="669.3" y1="534.9" x2="669.3" y2="539.5" stroke="#111" stroke-width="1"/>
<text x="670.3" y="548.7" font-size="10.2" text-anchor="middle" fill="#231f20">Z58</text>
<text x="628.35" y="563.8" font-size="10.4" text-anchor="middle" fill="#231f20">Nanocapsules</text>
<text x="624.95" y="415.6" font-size="10.4" text-anchor="middle" fill="#231f20">Kidney</text>
<text transform="translate(554.2,474) rotate(-90)" font-size="10.4" text-anchor="middle" fill="#231f20">Enrichment Factor</text>
<line x1="575.2" y1="458.9" x2="589.7" y2="458.9" stroke="#0e7f96" stroke-opacity="0.75" stroke-width="1.7"/>
<line x1="597" y1="466.4" x2="611.4" y2="466.4" stroke="#0e7f96" stroke-opacity="0.75" stroke-width="1.7"/>
<line x1="620.9" y1="486" x2="631" y2="486" stroke="#0e7f96" stroke-opacity="0.75" stroke-width="1.7"/>
<line x1="642.8" y1="491" x2="652.7" y2="491" stroke="#0e7f96" stroke-opacity="0.75" stroke-width="1.7"/>
<line x1="664.7" y1="491.9" x2="674.9" y2="491.9" stroke="#0e7f96" stroke-opacity="0.75" stroke-width="1.7"/>
<circle cx="582.3" cy="451.1" r="3.05" fill="#0e7f96"/>
<circle cx="582.3" cy="466.3" r="3.05" fill="#0e7f96"/>
<circle cx="604.2" cy="460.3" r="3.05" fill="#0e7f96"/>
<circle cx="604.2" cy="472.3" r="3.05" fill="#0e7f96"/>
<circle cx="620.9" cy="488" r="3.05" fill="#0e7f96"/>
<circle cx="631" cy="484.1" r="3.05" fill="#0e7f96"/>
<circle cx="642.8" cy="491" r="3.05" fill="#0e7f96"/>
<circle cx="652.7" cy="491" r="3.05" fill="#0e7f96"/>
<circle cx="664.7" cy="492.9" r="3.05" fill="#0e7f96"/>
<circle cx="674.9" cy="491" r="3.05" fill="#0e7f96"/>
<text x="4.6" y="588.4" font-size="13.5" text-anchor="start" fill="#231f20" font-weight="bold">d</text>
<text x="45.5" y="629.2" font-size="10.4" text-anchor="middle" fill="#231f20">Heart</text>
<text x="45.5" y="656" font-size="10.4" text-anchor="middle" fill="#231f20">Liver</text>
<text x="45.5" y="684.9" font-size="10.4" text-anchor="middle" fill="#231f20">Spleen</text>
<text x="45.5" y="711.4" font-size="10.4" text-anchor="middle" fill="#231f20">Lung</text>
<text x="45.5" y="743.5" font-size="10.4" text-anchor="middle" fill="#231f20">Kidney</text>
<rect x="65.9" y="581.3" width="164.2" height="175.6" fill="none" stroke="#9a5fb8" stroke-width="1.3"/>
<rect x="238.6" y="581.2" width="168.1" height="176" fill="none" stroke="#2e3a9a" stroke-width="1.3"/>
<rect x="414.7" y="581.2" width="158.1" height="176" fill="none" stroke="#e8473c" stroke-width="1.3"/>
<text x="143.5" y="592.2" font-size="10.45" text-anchor="middle" fill="#9050b0">Kidney targeting candidates</text>
<text x="318.2" y="592" font-size="10.4" text-anchor="middle" fill="#2e3a9a">Lung targeting candidates</text>
<text x="491" y="592" font-size="10.4" text-anchor="middle" fill="#e8433a">Liver targeting candidates</text>
<defs>
<linearGradient id="hot" x1="0" y1="1" x2="0" y2="0">
<stop offset="0" stop-color="#1a0000"/><stop offset="0.12" stop-color="#5a0000"/>
<stop offset="0.3" stop-color="#a80000"/><stop offset="0.45" stop-color="#e80000"/>
<stop offset="0.6" stop-color="#ff2a00"/><stop offset="0.75" stop-color="#ff7a00"/>
<stop offset="0.88" stop-color="#ffc000"/><stop offset="1" stop-color="#ffff20"/>
</linearGradient>
<radialGradient id="hy" cx="0.5" cy="0.5" r="0.5">
<stop offset="0" stop-color="#ffff50"/><stop offset="0.45" stop-color="#ffe020"/>
<stop offset="0.7" stop-color="#ff9000"/><stop offset="0.88" stop-color="#ff2a00"/><stop offset="1" stop-color="#d00000"/>
</radialGradient>
<radialGradient id="hyo" cx="0.5" cy="0.5" r="0.5">
<stop offset="0" stop-color="#ffd040"/><stop offset="0.4" stop-color="#ffa010"/>
<stop offset="0.7" stop-color="#ff5000"/><stop offset="0.9" stop-color="#ee1000"/><stop offset="1" stop-color="#c00000"/>
</radialGradient>
<radialGradient id="hr" cx="0.5" cy="0.5" r="0.5">
<stop offset="0" stop-color="#ff3000"/><stop offset="0.7" stop-color="#f01000"/><stop offset="1" stop-color="#c00000"/>
</radialGradient>
<radialGradient id="hdr" cx="0.5" cy="0.5" r="0.5">
<stop offset="0" stop-color="#b00000"/><stop offset="0.8" stop-color="#900000"/><stop offset="1" stop-color="#700000"/>
</radialGradient>
<radialGradient id="wh" cx="0.5" cy="0.5" r="0.5">
<stop offset="0" stop-color="#ffffff"/><stop offset="0.75" stop-color="#f4f4f4"/><stop offset="1" stop-color="#d8d8d8"/>
</radialGradient>
<radialGradient id="lg" cx="0.5" cy="0.5" r="0.5">
<stop offset="0" stop-color="#d4d4d4"/><stop offset="0.8" stop-color="#bcbcbc"/><stop offset="1" stop-color="#a8a8a8"/>
</radialGradient>
<filter id="soft" x="-20%" y="-20%" width="140%" height="140%"><feGaussianBlur stdDeviation="0.45"/></filter>
<filter id="soft2" x="-20%" y="-20%" width="140%" height="140%"><feGaussianBlur stdDeviation="0.8"/></filter>
</defs>
<rect x="73.1" y="612.8" width="36.9" height="138.3" fill="#a0a0a0"/>
<g filter="url(#soft)">
<ellipse cx="96.3" cy="619.9" rx="3.8" ry="4.3" fill="#a6a6a6" stroke="#8a8a8a" stroke-width="0.8" transform="rotate(-30 96.3 619.9)"/>
<ellipse cx="98.3" cy="619.1" rx="1.2" ry="0.8" fill="#e6e6e6"/>
<path d="M79,640 C79,634 85,631 91,631 C97,631 101,634 102,639 C104,644 104,650 102,656 C100,661 95,664 90,663.5 C85,663 80,659 78.5,653 C77.5,648 78,644 79,640 Z" fill="#969696"/>
<ellipse cx="90.0" cy="637.5" rx="9.5" ry="5.5" fill="#8c8c8c"/>
<ellipse cx="78.6" cy="641.5" rx="1.8" ry="2.8" fill="#c4c4c4"/>
<ellipse cx="81.2" cy="645.0" rx="1.4" ry="1.3" fill="#eeeeee"/>
<ellipse cx="90.0" cy="640.8" rx="2.2" ry="0.9" fill="#d8d8d8" transform="rotate(-35 90.0 640.8)"/>
<ellipse cx="90.5" cy="651.5" rx="1.6" ry="2.0" fill="#c8c8c8"/>
<ellipse cx="99.5" cy="645.5" rx="2.2" ry="1.5" fill="#b4b4b4"/>
<ellipse cx="83.5" cy="649.3" rx="3.8" ry="2.3" fill="url(#hr)" transform="rotate(8 83.5 649.3)"/>
<ellipse cx="83.8" cy="649.5" rx="1.6" ry="1.0" fill="#ff7a10"/>
<path d="M88,659.5 L90.5,653.5 L93.5,653 L95,656.5 L94.5,660 L90,660.5 Z" fill="#ff1400"/>
<ellipse cx="93.8" cy="648.0" rx="1.4" ry="2.4" fill="#a80000"/>
<ellipse cx="101.7" cy="642.4" rx="1.5" ry="1.4" fill="#d80000"/>
<ellipse cx="101.5" cy="644.6" rx="0.6" ry="1.3" fill="#c00000"/>
<ellipse cx="98.3" cy="659.0" rx="1.8" ry="1.3" fill="#e00000" transform="rotate(-30 98.3 659.0)"/>
<ellipse cx="90.9" cy="682.4" rx="6.8" ry="2.1" fill="#a0a0a0" stroke="#7c7c7c" stroke-width="0.9"/>
<ellipse cx="88.8" cy="704.0" rx="6.0" ry="4.3" fill="#f6f6f6"/>
<ellipse cx="88.5" cy="712.6" rx="7.6" ry="5.2" fill="#f6f6f6"/>
<ellipse cx="95.5" cy="708.6" rx="1.8" ry="1.4" fill="#e0e0e0"/>
<ellipse cx="87.7" cy="704.4" rx="1.3" ry="0.8" fill="#900000"/>
<ellipse cx="88.3" cy="713.8" rx="1.7" ry="0.8" fill="#900000"/>
<ellipse cx="88.2" cy="735.4" rx="6.3" ry="3.9" fill="#f01000" transform="rotate(-5 88.2 735.4)"/>
<ellipse cx="88.2" cy="735.4" rx="5.0" ry="2.9" fill="#ff8000" transform="rotate(-5 88.2 735.4)"/>
<ellipse cx="88.2" cy="735.4" rx="3.4" ry="1.9" fill="#ffe020" transform="rotate(-5 88.2 735.4)"/>
<ellipse cx="88.8" cy="742.4" rx="6.3" ry="3.9" fill="#f01000" transform="rotate(-8 88.8 742.4)"/>
<ellipse cx="88.8" cy="742.4" rx="5.0" ry="2.9" fill="#ff8000" transform="rotate(-8 88.8 742.4)"/>
<ellipse cx="88.8" cy="742.4" rx="3.4" ry="1.9" fill="#ffe020" transform="rotate(-8 88.8 742.4)"/>
</g>
<rect x="112.4" y="612.8" width="3.7" height="138.3" fill="url(#hot)"/>
<line x1="116.1" y1="614.8" x2="117.4" y2="614.8" stroke="#666" stroke-width="0.5"/>
<line x1="116.1" y1="619.2" x2="117.4" y2="619.2" stroke="#666" stroke-width="0.5"/>
<line x1="116.1" y1="623.6" x2="117.4" y2="623.6" stroke="#666" stroke-width="0.5"/>
<line x1="116.1" y1="628" x2="117.4" y2="628" stroke="#666" stroke-width="0.5"/>
<line x1="116.1" y1="632.4" x2="117.4" y2="632.4" stroke="#666" stroke-width="0.5"/>
<line x1="116.1" y1="636.8" x2="117.4" y2="636.8" stroke="#666" stroke-width="0.5"/>
<line x1="116.1" y1="641.2" x2="117.4" y2="641.2" stroke="#666" stroke-width="0.5"/>
<line x1="116.1" y1="645.6" x2="117.4" y2="645.6" stroke="#666" stroke-width="0.5"/>
<line x1="116.1" y1="650" x2="117.4" y2="650" stroke="#666" stroke-width="0.5"/>
<line x1="116.1" y1="654.4" x2="117.4" y2="654.4" stroke="#666" stroke-width="0.5"/>
<line x1="116.1" y1="658.8" x2="117.4" y2="658.8" stroke="#666" stroke-width="0.5"/>
<line x1="116.1" y1="663.2" x2="117.4" y2="663.2" stroke="#666" stroke-width="0.5"/>
<line x1="116.1" y1="667.6" x2="117.4" y2="667.6" stroke="#666" stroke-width="0.5"/>
<line x1="116.1" y1="672" x2="117.4" y2="672" stroke="#666" stroke-width="0.5"/>
<line x1="116.1" y1="676.4" x2="117.4" y2="676.4" stroke="#666" stroke-width="0.5"/>
<line x1="116.1" y1="680.8" x2="117.4" y2="680.8" stroke="#666" stroke-width="0.5"/>
<line x1="116.1" y1="685.2" x2="117.4" y2="685.2" stroke="#666" stroke-width="0.5"/>
<line x1="116.1" y1="689.6" x2="117.4" y2="689.6" stroke="#666" stroke-width="0.5"/>
<line x1="116.1" y1="694" x2="117.4" y2="694" stroke="#666" stroke-width="0.5"/>
<line x1="116.1" y1="698.4" x2="117.4" y2="698.4" stroke="#666" stroke-width="0.5"/>
<line x1="116.1" y1="702.8" x2="117.4" y2="702.8" stroke="#666" stroke-width="0.5"/>
<line x1="116.1" y1="707.2" x2="117.4" y2="707.2" stroke="#666" stroke-width="0.5"/>
<line x1="116.1" y1="711.6" x2="117.4" y2="711.6" stroke="#666" stroke-width="0.5"/>
<line x1="116.1" y1="716" x2="117.4" y2="716" stroke="#666" stroke-width="0.5"/>
<line x1="116.1" y1="720.4" x2="117.4" y2="720.4" stroke="#666" stroke-width="0.5"/>
<line x1="116.1" y1="724.8" x2="117.4" y2="724.8" stroke="#666" stroke-width="0.5"/>
<line x1="116.1" y1="729.2" x2="117.4" y2="729.2" stroke="#666" stroke-width="0.5"/>
<line x1="116.1" y1="733.6" x2="117.4" y2="733.6" stroke="#666" stroke-width="0.5"/>
<line x1="116.1" y1="738" x2="117.4" y2="738" stroke="#666" stroke-width="0.5"/>
<line x1="116.1" y1="742.4" x2="117.4" y2="742.4" stroke="#666" stroke-width="0.5"/>
<line x1="116.1" y1="746.8" x2="117.4" y2="746.8" stroke="#666" stroke-width="0.5"/>
<line x1="116.1" y1="627.9" x2="118" y2="627.9" stroke="#555" stroke-width="0.6"/>
<text x="119.6" y="631.6" font-size="10.4" text-anchor="start" fill="#231f20">2.2</text>
<line x1="116.1" y1="668.3" x2="118" y2="668.3" stroke="#555" stroke-width="0.6"/>
<text x="119.6" y="672" font-size="10.4" text-anchor="start" fill="#231f20">1.8</text>
<line x1="116.1" y1="710.4" x2="118" y2="710.4" stroke="#555" stroke-width="0.6"/>
<text x="119.6" y="714.1" font-size="10.4" text-anchor="start" fill="#231f20">1.4</text>
<line x1="116.1" y1="749" x2="118" y2="749" stroke="#555" stroke-width="0.6"/>
<text x="119.6" y="752.7" font-size="10.4" text-anchor="start" fill="#231f20">1.0</text>
<text x="129.8" y="688.5" font-size="10.4" fill="#231f20">&#215;10<tspan font-size="6.2" dy="-3.8">9</tspan></text>
<text x="92" y="610.7" font-size="10.4" text-anchor="middle" fill="#231f20">Z20</text>
<rect x="155.1" y="612.8" width="33.1" height="138.3" fill="#a0a0a0"/>
<g filter="url(#soft)">
<ellipse cx="174.4" cy="621.1" rx="2.6" ry="3.8" fill="#a2a2a2" stroke="#7c7c7c" stroke-width="0.8" transform="rotate(-30 174.4 621.1)"/>
<ellipse cx="176.0" cy="622.4" rx="0.9" ry="0.7" fill="#e8e8e8"/>
<path d="M159.5,645.5 L163,643 L168,644 L171,645 L173,641.5 L177,639.3 L181,640.3 L182.8,643.5 L181.5,646.5 L184,650 L183,654 L180,656.5 L176,658.5 L172,660.5 L167,659.6 L162,658 L159.3,654 Z" fill="#f41000"/>
<path d="M161.3,646.8 L165.5,645.3 L170.5,647 L175,646.8 L179.5,648.5 L181.6,651.2 L180.2,654.5 L175.5,656.8 L170.5,658.4 L165.5,657.2 L161.5,654 Z" fill="#ffb000"/>
<path d="M162.5,647.8 L166,646.6 L170.5,648.3 L174.5,648 L178.5,649.6 L180,651.5 L178.8,654 L175,655.8 L170.5,657.2 L166,656.2 L162.8,653.4 Z" fill="#ffff20"/>
<ellipse cx="170.0" cy="652.5" rx="1.2" ry="1.5" fill="#ff9a00"/>
<ellipse cx="171.4" cy="680.8" rx="7.4" ry="2.0" fill="#a8a8a8" stroke="#6a6a6a" stroke-width="1.0"/>
<ellipse cx="173.0" cy="680.6" rx="2.6" ry="1.1" fill="#c00000"/>
<ellipse cx="168.5" cy="681.0" rx="1.2" ry="0.9" fill="#900000"/>
<ellipse cx="168.5" cy="700.5" rx="5.0" ry="4.2" fill="#f8f8f8" transform="rotate(-20 168.5 700.5)"/>
<ellipse cx="172.5" cy="706.5" rx="6.2" ry="5.6" fill="#f8f8f8"/>
<ellipse cx="168.1" cy="729.2" rx="3.4" ry="2.6" fill="#8a0000"/>
<ellipse cx="167.0" cy="735.4" rx="4.2" ry="3.0" fill="#8a0000"/>
</g>
<rect x="190.2" y="612.8" width="3.5" height="138.3" fill="url(#hot)"/>
<line x1="193.7" y1="614.8" x2="195" y2="614.8" stroke="#666" stroke-width="0.5"/>
<line x1="193.7" y1="619.2" x2="195" y2="619.2" stroke="#666" stroke-width="0.5"/>
<line x1="193.7" y1="623.6" x2="195" y2="623.6" stroke="#666" stroke-width="0.5"/>
<line x1="193.7" y1="628" x2="195" y2="628" stroke="#666" stroke-width="0.5"/>
<line x1="193.7" y1="632.4" x2="195" y2="632.4" stroke="#666" stroke-width="0.5"/>
<line x1="193.7" y1="636.8" x2="195" y2="636.8" stroke="#666" stroke-width="0.5"/>
<line x1="193.7" y1="641.2" x2="195" y2="641.2" stroke="#666" stroke-width="0.5"/>
<line x1="193.7" y1="645.6" x2="195" y2="645.6" stroke="#666" stroke-width="0.5"/>
<line x1="193.7" y1="650" x2="195" y2="650" stroke="#666" stroke-width="0.5"/>
<line x1="193.7" y1="654.4" x2="195" y2="654.4" stroke="#666" stroke-width="0.5"/>
<line x1="193.7" y1="658.8" x2="195" y2="658.8" stroke="#666" stroke-width="0.5"/>
<line x1="193.7" y1="663.2" x2="195" y2="663.2" stroke="#666" stroke-width="0.5"/>
<line x1="193.7" y1="667.6" x2="195" y2="667.6" stroke="#666" stroke-width="0.5"/>
<line x1="193.7" y1="672" x2="195" y2="672" stroke="#666" stroke-width="0.5"/>
<line x1="193.7" y1="676.4" x2="195" y2="676.4" stroke="#666" stroke-width="0.5"/>
<line x1="193.7" y1="680.8" x2="195" y2="680.8" stroke="#666" stroke-width="0.5"/>
<line x1="193.7" y1="685.2" x2="195" y2="685.2" stroke="#666" stroke-width="0.5"/>
<line x1="193.7" y1="689.6" x2="195" y2="689.6" stroke="#666" stroke-width="0.5"/>
<line x1="193.7" y1="694" x2="195" y2="694" stroke="#666" stroke-width="0.5"/>
<line x1="193.7" y1="698.4" x2="195" y2="698.4" stroke="#666" stroke-width="0.5"/>
<line x1="193.7" y1="702.8" x2="195" y2="702.8" stroke="#666" stroke-width="0.5"/>
<line x1="193.7" y1="707.2" x2="195" y2="707.2" stroke="#666" stroke-width="0.5"/>
<line x1="193.7" y1="711.6" x2="195" y2="711.6" stroke="#666" stroke-width="0.5"/>
<line x1="193.7" y1="716" x2="195" y2="716" stroke="#666" stroke-width="0.5"/>
<line x1="193.7" y1="720.4" x2="195" y2="720.4" stroke="#666" stroke-width="0.5"/>
<line x1="193.7" y1="724.8" x2="195" y2="724.8" stroke="#666" stroke-width="0.5"/>
<line x1="193.7" y1="729.2" x2="195" y2="729.2" stroke="#666" stroke-width="0.5"/>
<line x1="193.7" y1="733.6" x2="195" y2="733.6" stroke="#666" stroke-width="0.5"/>
<line x1="193.7" y1="738" x2="195" y2="738" stroke="#666" stroke-width="0.5"/>
<line x1="193.7" y1="742.4" x2="195" y2="742.4" stroke="#666" stroke-width="0.5"/>
<line x1="193.7" y1="746.8" x2="195" y2="746.8" stroke="#666" stroke-width="0.5"/>
<line x1="193.7" y1="648" x2="195.6" y2="648" stroke="#555" stroke-width="0.6"/>
<text x="196.4" y="651.7" font-size="10.4" text-anchor="start" fill="#231f20">2.0</text>
<line x1="193.7" y1="686.2" x2="195.6" y2="686.2" stroke="#555" stroke-width="0.6"/>
<text x="196.4" y="689.9" font-size="10.4" text-anchor="start" fill="#231f20">1.5</text>
<line x1="193.7" y1="723.5" x2="195.6" y2="723.5" stroke="#555" stroke-width="0.6"/>
<text x="196.4" y="727.2" font-size="10.4" text-anchor="start" fill="#231f20">1.0</text>
<text x="201.9" y="700.7" font-size="10.4" fill="#231f20">&#215;10<tspan font-size="6.2" dy="-3.8">9</tspan></text>
<text x="171.5" y="610.7" font-size="10.4" text-anchor="middle" fill="#231f20">Z40</text>
<rect x="247.1" y="613.8" width="33.6" height="137.3" fill="#a0a0a0"/>
<g filter="url(#soft)">
<ellipse cx="265.6" cy="619.9" rx="2.4" ry="4.0" fill="#a2a2a2" stroke="#8a8a8a" stroke-width="0.8" transform="rotate(40 265.6 619.9)"/>
<ellipse cx="265.5" cy="620.5" rx="1.0" ry="1.6" fill="#dddddd" transform="rotate(40 265.5 620.5)"/>
<defs><path id="lv31" d="M250,660.5 L249.3,656.8 L252,655 L254.5,652 L256,648 L258.3,644.8 L262,641.5 L266,640 L270,641 L273,644.5 L276,648.5 L275.2,652.5 L271.5,656.5 L266.5,659 L262,661 L257.5,663.2 L253,663.2 Z"/></defs>
<use href="#lv31" fill="#f00c00" transform="translate(263.5 652) scale(1.0) translate(-263.5 -652)"/>
<use href="#lv31" fill="#ff5000" transform="translate(263.5 652) scale(0.88) translate(-263.5 -652)"/>
<use href="#lv31" fill="#ffd000" transform="translate(263.5 652) scale(0.8) translate(-263.5 -652)"/>
<use href="#lv31" fill="#ffff20" transform="translate(263.5 652) scale(0.7) translate(-263.5 -652)"/>
<path d="M250.8,685 C253,682 257.5,680 262.8,680.3 L262.3,682 C258,682.2 254.5,683.5 251.8,686 Z" fill="#9a0000"/>
<ellipse cx="256.5" cy="684.5" rx="1.8" ry="0.7" fill="#eeeeee"/>
<ellipse cx="259.6" cy="709.5" rx="8.8" ry="8.6" fill="#a0a0a0" stroke="#8c8c8c" stroke-width="1.2"/>
<ellipse cx="259.6" cy="709.5" rx="6.6" ry="7.0" fill="#c4c4c4"/>
<ellipse cx="257.8" cy="711.5" rx="2.6" ry="2.6" fill="#e4e4e4"/>
<ellipse cx="261.5" cy="706.5" rx="2.0" ry="1.8" fill="#d8d8d8"/>
<ellipse cx="259.1" cy="733.8" rx="6.0" ry="3.5" fill="#c2c2c2" stroke="#a0a0a0" stroke-width="0.6" transform="rotate(8 259.1 733.8)"/>
<ellipse cx="261.2" cy="742.4" rx="5.8" ry="3.8" fill="#c2c2c2" stroke="#a0a0a0" stroke-width="0.6" transform="rotate(25 261.2 742.4)"/>
</g>
<rect x="283.3" y="613.8" width="4.1" height="137.3" fill="url(#hot)"/>
<line x1="287.4" y1="615.8" x2="288.7" y2="615.8" stroke="#666" stroke-width="0.5"/>
<line x1="287.4" y1="620.2" x2="288.7" y2="620.2" stroke="#666" stroke-width="0.5"/>
<line x1="287.4" y1="624.6" x2="288.7" y2="624.6" stroke="#666" stroke-width="0.5"/>
<line x1="287.4" y1="629" x2="288.7" y2="629" stroke="#666" stroke-width="0.5"/>
<line x1="287.4" y1="633.4" x2="288.7" y2="633.4" stroke="#666" stroke-width="0.5"/>
<line x1="287.4" y1="637.8" x2="288.7" y2="637.8" stroke="#666" stroke-width="0.5"/>
<line x1="287.4" y1="642.2" x2="288.7" y2="642.2" stroke="#666" stroke-width="0.5"/>
<line x1="287.4" y1="646.6" x2="288.7" y2="646.6" stroke="#666" stroke-width="0.5"/>
<line x1="287.4" y1="651" x2="288.7" y2="651" stroke="#666" stroke-width="0.5"/>
<line x1="287.4" y1="655.4" x2="288.7" y2="655.4" stroke="#666" stroke-width="0.5"/>
<line x1="287.4" y1="659.8" x2="288.7" y2="659.8" stroke="#666" stroke-width="0.5"/>
<line x1="287.4" y1="664.2" x2="288.7" y2="664.2" stroke="#666" stroke-width="0.5"/>
<line x1="287.4" y1="668.6" x2="288.7" y2="668.6" stroke="#666" stroke-width="0.5"/>
<line x1="287.4" y1="673" x2="288.7" y2="673" stroke="#666" stroke-width="0.5"/>
<line x1="287.4" y1="677.4" x2="288.7" y2="677.4" stroke="#666" stroke-width="0.5"/>
<line x1="287.4" y1="681.8" x2="288.7" y2="681.8" stroke="#666" stroke-width="0.5"/>
<line x1="287.4" y1="686.2" x2="288.7" y2="686.2" stroke="#666" stroke-width="0.5"/>
<line x1="287.4" y1="690.6" x2="288.7" y2="690.6" stroke="#666" stroke-width="0.5"/>
<line x1="287.4" y1="695" x2="288.7" y2="695" stroke="#666" stroke-width="0.5"/>
<line x1="287.4" y1="699.4" x2="288.7" y2="699.4" stroke="#666" stroke-width="0.5"/>
<line x1="287.4" y1="703.8" x2="288.7" y2="703.8" stroke="#666" stroke-width="0.5"/>
<line x1="287.4" y1="708.2" x2="288.7" y2="708.2" stroke="#666" stroke-width="0.5"/>
<line x1="287.4" y1="712.6" x2="288.7" y2="712.6" stroke="#666" stroke-width="0.5"/>
<line x1="287.4" y1="717" x2="288.7" y2="717" stroke="#666" stroke-width="0.5"/>
<line x1="287.4" y1="721.4" x2="288.7" y2="721.4" stroke="#666" stroke-width="0.5"/>
<line x1="287.4" y1="725.8" x2="288.7" y2="725.8" stroke="#666" stroke-width="0.5"/>
<line x1="287.4" y1="730.2" x2="288.7" y2="730.2" stroke="#666" stroke-width="0.5"/>
<line x1="287.4" y1="734.6" x2="288.7" y2="734.6" stroke="#666" stroke-width="0.5"/>
<line x1="287.4" y1="739" x2="288.7" y2="739" stroke="#666" stroke-width="0.5"/>
<line x1="287.4" y1="743.4" x2="288.7" y2="743.4" stroke="#666" stroke-width="0.5"/>
<line x1="287.4" y1="747.8" x2="288.7" y2="747.8" stroke="#666" stroke-width="0.5"/>
<line x1="287.4" y1="629.1" x2="289.3" y2="629.1" stroke="#555" stroke-width="0.6"/>
<text x="290.3" y="632.8" font-size="10.4" text-anchor="start" fill="#231f20">2.5</text>
<line x1="287.4" y1="665.2" x2="289.3" y2="665.2" stroke="#555" stroke-width="0.6"/>
<text x="290.3" y="668.9" font-size="10.4" text-anchor="start" fill="#231f20">2.0</text>
<line x1="287.4" y1="699.3" x2="289.3" y2="699.3" stroke="#555" stroke-width="0.6"/>
<text x="290.3" y="703" font-size="10.4" text-anchor="start" fill="#231f20">1.5</text>
<line x1="287.4" y1="734.5" x2="289.3" y2="734.5" stroke="#555" stroke-width="0.6"/>
<text x="290.3" y="738.2" font-size="10.4" text-anchor="start" fill="#231f20">1.0</text>
<text x="297.4" y="688.6" font-size="10.4" fill="#231f20">&#215;10<tspan font-size="6.2" dy="-3.8">9</tspan></text>
<text x="264.3" y="610.7" font-size="10.4" text-anchor="middle" fill="#231f20">Z31</text>
<rect x="327.2" y="613.8" width="33.8" height="137.3" fill="#a0a0a0"/>
<g filter="url(#soft)">
<ellipse cx="350.3" cy="621.9" rx="2.5" ry="3.5" fill="#a4a4a4" stroke="#868686" stroke-width="0.8" transform="rotate(-20 350.3 621.9)"/>
<ellipse cx="350.8" cy="622.5" rx="0.9" ry="1.0" fill="#e0e0e0"/>
<path d="M336.5,638 L341,637 L345,638.5 L350,637.5 L354,639 L357,643 L357.5,648 L355,652 L352,656 L349,659 L346,662.5 L344,661 L341,657 L338,652 L335,647 L334.5,643 Z" fill="#f00c00"/>
<path d="M338,645 L342,643 L346,645 L348,650 L347,655 L345.5,659 L342.5,656 L340,652 L338,648 Z" fill="#ffe800"/>
<ellipse cx="343.0" cy="650.5" rx="3.2" ry="5.0" fill="#ffff30"/>
<ellipse cx="353.0" cy="643.5" rx="3.2" ry="2.8" fill="#ffd000"/>
<ellipse cx="350.5" cy="648.5" rx="3.6" ry="3.0" fill="#e60000"/>
<ellipse cx="345.5" cy="641.5" rx="2.5" ry="1.8" fill="#ff7000"/>
<ellipse cx="341.8" cy="678.6" rx="7.2" ry="1.9" fill="#ff0a00" transform="rotate(-5 341.8 678.6)"/>
<ellipse cx="340.6" cy="698.8" rx="9.0" ry="7.2" fill="#f4f4f4"/>
<ellipse cx="336.6" cy="698.4" rx="3.4" ry="5.0" fill="#a00000" transform="rotate(20 336.6 698.4)"/>
<ellipse cx="344.8" cy="698.2" rx="4.2" ry="5.6" fill="#a80000"/>
<ellipse cx="341.6" cy="704.0" rx="2.0" ry="1.6" fill="#f8f8f8"/>
<ellipse cx="343.0" cy="712.0" rx="7.0" ry="5.0" fill="#989898"/>
<ellipse cx="340.7" cy="730.0" rx="4.6" ry="3.4" fill="#ff0a00" transform="rotate(-35 340.7 730.0)"/>
<ellipse cx="340.7" cy="737.0" rx="5.0" ry="3.6" fill="#ff0a00" transform="rotate(-28 340.7 737.0)"/>
</g>
<rect x="363.7" y="613.8" width="3.6" height="137.3" fill="url(#hot)"/>
<line x1="367.3" y1="615.8" x2="368.6" y2="615.8" stroke="#666" stroke-width="0.5"/>
<line x1="367.3" y1="620.2" x2="368.6" y2="620.2" stroke="#666" stroke-width="0.5"/>
<line x1="367.3" y1="624.6" x2="368.6" y2="624.6" stroke="#666" stroke-width="0.5"/>
<line x1="367.3" y1="629" x2="368.6" y2="629" stroke="#666" stroke-width="0.5"/>
<line x1="367.3" y1="633.4" x2="368.6" y2="633.4" stroke="#666" stroke-width="0.5"/>
<line x1="367.3" y1="637.8" x2="368.6" y2="637.8" stroke="#666" stroke-width="0.5"/>
<line x1="367.3" y1="642.2" x2="368.6" y2="642.2" stroke="#666" stroke-width="0.5"/>
<line x1="367.3" y1="646.6" x2="368.6" y2="646.6" stroke="#666" stroke-width="0.5"/>
<line x1="367.3" y1="651" x2="368.6" y2="651" stroke="#666" stroke-width="0.5"/>
<line x1="367.3" y1="655.4" x2="368.6" y2="655.4" stroke="#666" stroke-width="0.5"/>
<line x1="367.3" y1="659.8" x2="368.6" y2="659.8" stroke="#666" stroke-width="0.5"/>
<line x1="367.3" y1="664.2" x2="368.6" y2="664.2" stroke="#666" stroke-width="0.5"/>
<line x1="367.3" y1="668.6" x2="368.6" y2="668.6" stroke="#666" stroke-width="0.5"/>
<line x1="367.3" y1="673" x2="368.6" y2="673" stroke="#666" stroke-width="0.5"/>
<line x1="367.3" y1="677.4" x2="368.6" y2="677.4" stroke="#666" stroke-width="0.5"/>
<line x1="367.3" y1="681.8" x2="368.6" y2="681.8" stroke="#666" stroke-width="0.5"/>
<line x1="367.3" y1="686.2" x2="368.6" y2="686.2" stroke="#666" stroke-width="0.5"/>
<line x1="367.3" y1="690.6" x2="368.6" y2="690.6" stroke="#666" stroke-width="0.5"/>
<line x1="367.3" y1="695" x2="368.6" y2="695" stroke="#666" stroke-width="0.5"/>
<line x1="367.3" y1="699.4" x2="368.6" y2="699.4" stroke="#666" stroke-width="0.5"/>
<line x1="367.3" y1="703.8" x2="368.6" y2="703.8" stroke="#666" stroke-width="0.5"/>
<line x1="367.3" y1="708.2" x2="368.6" y2="708.2" stroke="#666" stroke-width="0.5"/>
<line x1="367.3" y1="712.6" x2="368.6" y2="712.6" stroke="#666" stroke-width="0.5"/>
<line x1="367.3" y1="717" x2="368.6" y2="717" stroke="#666" stroke-width="0.5"/>
<line x1="367.3" y1="721.4" x2="368.6" y2="721.4" stroke="#666" stroke-width="0.5"/>
<line x1="367.3" y1="725.8" x2="368.6" y2="725.8" stroke="#666" stroke-width="0.5"/>
<line x1="367.3" y1="730.2" x2="368.6" y2="730.2" stroke="#666" stroke-width="0.5"/>
<line x1="367.3" y1="734.6" x2="368.6" y2="734.6" stroke="#666" stroke-width="0.5"/>
<line x1="367.3" y1="739" x2="368.6" y2="739" stroke="#666" stroke-width="0.5"/>
<line x1="367.3" y1="743.4" x2="368.6" y2="743.4" stroke="#666" stroke-width="0.5"/>
<line x1="367.3" y1="747.8" x2="368.6" y2="747.8" stroke="#666" stroke-width="0.5"/>
<line x1="367.3" y1="631.9" x2="369.2" y2="631.9" stroke="#555" stroke-width="0.6"/>
<text x="370.4" y="635.6" font-size="10.4" text-anchor="start" fill="#231f20">2.5</text>
<line x1="367.3" y1="658.8" x2="369.2" y2="658.8" stroke="#555" stroke-width="0.6"/>
<text x="370.4" y="662.5" font-size="10.4" text-anchor="start" fill="#231f20">2.0</text>
<line x1="367.3" y1="686.5" x2="369.2" y2="686.5" stroke="#555" stroke-width="0.6"/>
<text x="370.4" y="690.2" font-size="10.4" text-anchor="start" fill="#231f20">1.5</text>
<line x1="367.3" y1="712.9" x2="369.2" y2="712.9" stroke="#555" stroke-width="0.6"/>
<text x="370.4" y="716.6" font-size="10.4" text-anchor="start" fill="#231f20">1.0</text>
<line x1="367.3" y1="741.4" x2="369.2" y2="741.4" stroke="#555" stroke-width="0.6"/>
<text x="370.4" y="745.1" font-size="10.4" text-anchor="start" fill="#231f20">0.5</text>
<text x="377.0" y="698.6" font-size="10.4" fill="#231f20">&#215;10<tspan font-size="6.2" dy="-3.8">9</tspan></text>
<text x="344.6" y="610.7" font-size="10.4" text-anchor="middle" fill="#231f20">Z91</text>
<rect x="424.3" y="613.3" width="33.5" height="137.8" fill="#a0a0a0"/>
<g filter="url(#soft)">
<ellipse cx="445.8" cy="620.3" rx="3.5" ry="3.5" fill="#a8a8a8" stroke="#848484" stroke-width="0.8"/>
<ellipse cx="445.3" cy="621.5" rx="1.0" ry="1.0" fill="#ececec"/>
<defs><path id="lv38" d="M433,643 L437,641 L441,640.5 L445,641 L449,640.5 L451.5,643.5 L451,648 L452.3,652.5 L451.5,657 L448.5,660 L445,661.5 L441,661.2 L437,661.5 L433.5,659 L431.5,655 L432,650 L431.8,646 Z"/></defs>
<use href="#lv38" fill="#e80a00" transform="translate(442 651) scale(1.0) translate(-442 -651)"/>
<use href="#lv38" fill="#ff2800" transform="translate(442 651) scale(0.78) translate(-442 -651)"/>
<ellipse cx="442.0" cy="649.5" rx="3.4" ry="7.5" fill="#ff9000"/>
<ellipse cx="441.8" cy="646.5" rx="2.2" ry="3.6" fill="#ffc020"/>
<ellipse cx="442.5" cy="654.5" rx="3.0" ry="2.8" fill="#ffb020"/>
<ellipse cx="440.9" cy="677.0" rx="7.0" ry="2.2" fill="#a0a0a0" stroke="#666666" stroke-width="1.0"/>
<ellipse cx="442.5" cy="677.2" rx="2.5" ry="0.6" fill="#dddddd"/>
<ellipse cx="437.7" cy="707.3" rx="7.6" ry="6.6" fill="#dcdcdc"/>
<ellipse cx="436.5" cy="706.0" rx="3.0" ry="2.5" fill="#f6f6f6"/>
<ellipse cx="440.5" cy="709.0" rx="2.6" ry="2.0" fill="#f0f0f0"/>
<ellipse cx="436.6" cy="731.1" rx="4.6" ry="4.0" fill="#c4c4c4" stroke="#9a9a9a" stroke-width="0.6"/>
<ellipse cx="438.2" cy="738.1" rx="5.0" ry="3.5" fill="#c4c4c4" stroke="#9a9a9a" stroke-width="0.6"/>
<ellipse cx="435.5" cy="730.6" rx="2.0" ry="1.9" fill="#800000"/>
<ellipse cx="437.5" cy="737.5" rx="1.5" ry="1.0" fill="#900000"/>
</g>
<rect x="460.5" y="613.3" width="4.1" height="137.8" fill="url(#hot)"/>
<line x1="464.6" y1="615.3" x2="465.9" y2="615.3" stroke="#666" stroke-width="0.5"/>
<line x1="464.6" y1="619.7" x2="465.9" y2="619.7" stroke="#666" stroke-width="0.5"/>
<line x1="464.6" y1="624.1" x2="465.9" y2="624.1" stroke="#666" stroke-width="0.5"/>
<line x1="464.6" y1="628.5" x2="465.9" y2="628.5" stroke="#666" stroke-width="0.5"/>
<line x1="464.6" y1="632.9" x2="465.9" y2="632.9" stroke="#666" stroke-width="0.5"/>
<line x1="464.6" y1="637.3" x2="465.9" y2="637.3" stroke="#666" stroke-width="0.5"/>
<line x1="464.6" y1="641.7" x2="465.9" y2="641.7" stroke="#666" stroke-width="0.5"/>
<line x1="464.6" y1="646.1" x2="465.9" y2="646.1" stroke="#666" stroke-width="0.5"/>
<line x1="464.6" y1="650.5" x2="465.9" y2="650.5" stroke="#666" stroke-width="0.5"/>
<line x1="464.6" y1="654.9" x2="465.9" y2="654.9" stroke="#666" stroke-width="0.5"/>
<line x1="464.6" y1="659.3" x2="465.9" y2="659.3" stroke="#666" stroke-width="0.5"/>
<line x1="464.6" y1="663.7" x2="465.9" y2="663.7" stroke="#666" stroke-width="0.5"/>
<line x1="464.6" y1="668.1" x2="465.9" y2="668.1" stroke="#666" stroke-width="0.5"/>
<line x1="464.6" y1="672.5" x2="465.9" y2="672.5" stroke="#666" stroke-width="0.5"/>
<line x1="464.6" y1="676.9" x2="465.9" y2="676.9" stroke="#666" stroke-width="0.5"/>
<line x1="464.6" y1="681.3" x2="465.9" y2="681.3" stroke="#666" stroke-width="0.5"/>
<line x1="464.6" y1="685.7" x2="465.9" y2="685.7" stroke="#666" stroke-width="0.5"/>
<line x1="464.6" y1="690.1" x2="465.9" y2="690.1" stroke="#666" stroke-width="0.5"/>
<line x1="464.6" y1="694.5" x2="465.9" y2="694.5" stroke="#666" stroke-width="0.5"/>
<line x1="464.6" y1="698.9" x2="465.9" y2="698.9" stroke="#666" stroke-width="0.5"/>
<line x1="464.6" y1="703.3" x2="465.9" y2="703.3" stroke="#666" stroke-width="0.5"/>
<line x1="464.6" y1="707.7" x2="465.9" y2="707.7" stroke="#666" stroke-width="0.5"/>
<line x1="464.6" y1="712.1" x2="465.9" y2="712.1" stroke="#666" stroke-width="0.5"/>
<line x1="464.6" y1="716.5" x2="465.9" y2="716.5" stroke="#666" stroke-width="0.5"/>
<line x1="464.6" y1="720.9" x2="465.9" y2="720.9" stroke="#666" stroke-width="0.5"/>
<line x1="464.6" y1="725.3" x2="465.9" y2="725.3" stroke="#666" stroke-width="0.5"/>
<line x1="464.6" y1="729.7" x2="465.9" y2="729.7" stroke="#666" stroke-width="0.5"/>
<line x1="464.6" y1="734.1" x2="465.9" y2="734.1" stroke="#666" stroke-width="0.5"/>
<line x1="464.6" y1="738.5" x2="465.9" y2="738.5" stroke="#666" stroke-width="0.5"/>
<line x1="464.6" y1="742.9" x2="465.9" y2="742.9" stroke="#666" stroke-width="0.5"/>
<line x1="464.6" y1="747.3" x2="465.9" y2="747.3" stroke="#666" stroke-width="0.5"/>
<line x1="464.6" y1="624.4" x2="466.5" y2="624.4" stroke="#555" stroke-width="0.6"/>
<text x="467.2" y="628.1" font-size="10.4" text-anchor="start" fill="#231f20">1.2</text>
<line x1="464.6" y1="656.8" x2="466.5" y2="656.8" stroke="#555" stroke-width="0.6"/>
<text x="467.2" y="660.5" font-size="10.4" text-anchor="start" fill="#231f20">1.0</text>
<line x1="464.6" y1="689.3" x2="466.5" y2="689.3" stroke="#555" stroke-width="0.6"/>
<text x="467.2" y="693" font-size="10.4" text-anchor="start" fill="#231f20">0.8</text>
<line x1="464.6" y1="721.5" x2="466.5" y2="721.5" stroke="#555" stroke-width="0.6"/>
<text x="467.2" y="725.2" font-size="10.4" text-anchor="start" fill="#231f20">0.6</text>
<text x="475.7" y="677.5" font-size="10.4" fill="#231f20">&#215;10<tspan font-size="6.2" dy="-3.8">9</tspan></text>
<text x="441" y="610.7" font-size="10.4" text-anchor="middle" fill="#231f20">Z38</text>
<rect x="497.3" y="613.3" width="33.9" height="137.8" fill="#a0a0a0"/>
<g filter="url(#soft)">
<ellipse cx="522.3" cy="619.9" rx="4.0" ry="2.8" fill="#a8a8a8" stroke="#7a7a7a" stroke-width="0.8" transform="rotate(-10 522.3 619.9)"/>
<ellipse cx="525.5" cy="620.8" rx="0.6" ry="0.6" fill="#a00000"/>
<defs><path id="lv69" d="M507,638 L511,635.5 L515,634.5 L520,635.5 L524.5,637.5 L527.5,641 L529,645.5 L528,650 L525,654.5 L520,658 L514,661 L509,662 L504,660 L500.8,657 L502,652 L503,647.5 L504.5,642 Z"/></defs>
<use href="#lv69" fill="#f00c00" transform="translate(515 648) scale(1.0) translate(-515 -648)"/>
<use href="#lv69" fill="#ff5000" transform="translate(515 648) scale(0.86) translate(-515 -648)"/>
<use href="#lv69" fill="#ffa800" transform="translate(515 648) scale(0.72) translate(-515 -648)"/>
<use href="#lv69" fill="#ffe020" transform="translate(515 648) scale(0.5) translate(-515 -648)"/>
<ellipse cx="517.0" cy="642.5" rx="5.5" ry="3.5" fill="#ffff30"/>
<ellipse cx="511.0" cy="650.0" rx="4.2" ry="3.0" fill="#f00800"/>
<ellipse cx="519.0" cy="653.0" rx="3.5" ry="2.5" fill="#ffd820"/>
<ellipse cx="512.8" cy="683.0" rx="8.0" ry="2.5" fill="#b4b4b4" stroke="#6e6e6e" stroke-width="1.0" transform="rotate(-5 512.8 683.0)"/>
<ellipse cx="509.5" cy="683.5" rx="0.8" ry="0.6" fill="#a00000"/>
<ellipse cx="512.3" cy="706.2" rx="8.6" ry="9.0" fill="#fbfbfb" stroke="#6e6e6e" stroke-width="0.9"/>
<ellipse cx="518.0" cy="706.5" rx="2.2" ry="0.8" fill="#b0b0b0"/>
<ellipse cx="511.2" cy="732.7" rx="4.5" ry="3.5" fill="#c4c4c4" stroke="#9a9a9a" stroke-width="0.6"/>
<ellipse cx="510.0" cy="732.2" rx="1.6" ry="1.3" fill="#800000"/>
<ellipse cx="511.2" cy="740.3" rx="5.0" ry="3.5" fill="#c8c8c8" stroke="#9a9a9a" stroke-width="0.6" transform="rotate(25 511.2 740.3)"/>
</g>
<rect x="533.2" y="613.3" width="3.8" height="137.8" fill="url(#hot)"/>
<line x1="537.0" y1="615.3" x2="538.3" y2="615.3" stroke="#666" stroke-width="0.5"/>
<line x1="537.0" y1="619.7" x2="538.3" y2="619.7" stroke="#666" stroke-width="0.5"/>
<line x1="537.0" y1="624.1" x2="538.3" y2="624.1" stroke="#666" stroke-width="0.5"/>
<line x1="537.0" y1="628.5" x2="538.3" y2="628.5" stroke="#666" stroke-width="0.5"/>
<line x1="537.0" y1="632.9" x2="538.3" y2="632.9" stroke="#666" stroke-width="0.5"/>
<line x1="537.0" y1="637.3" x2="538.3" y2="637.3" stroke="#666" stroke-width="0.5"/>
<line x1="537.0" y1="641.7" x2="538.3" y2="641.7" stroke="#666" stroke-width="0.5"/>
<line x1="537.0" y1="646.1" x2="538.3" y2="646.1" stroke="#666" stroke-width="0.5"/>
<line x1="537.0" y1="650.5" x2="538.3" y2="650.5" stroke="#666" stroke-width="0.5"/>
<line x1="537.0" y1="654.9" x2="538.3" y2="654.9" stroke="#666" stroke-width="0.5"/>
<line x1="537.0" y1="659.3" x2="538.3" y2="659.3" stroke="#666" stroke-width="0.5"/>
<line x1="537.0" y1="663.7" x2="538.3" y2="663.7" stroke="#666" stroke-width="0.5"/>
<line x1="537.0" y1="668.1" x2="538.3" y2="668.1" stroke="#666" stroke-width="0.5"/>
<line x1="537.0" y1="672.5" x2="538.3" y2="672.5" stroke="#666" stroke-width="0.5"/>
<line x1="537.0" y1="676.9" x2="538.3" y2="676.9" stroke="#666" stroke-width="0.5"/>
<line x1="537.0" y1="681.3" x2="538.3" y2="681.3" stroke="#666" stroke-width="0.5"/>
<line x1="537.0" y1="685.7" x2="538.3" y2="685.7" stroke="#666" stroke-width="0.5"/>
<line x1="537.0" y1="690.1" x2="538.3" y2="690.1" stroke="#666" stroke-width="0.5"/>
<line x1="537.0" y1="694.5" x2="538.3" y2="694.5" stroke="#666" stroke-width="0.5"/>
<line x1="537.0" y1="698.9" x2="538.3" y2="698.9" stroke="#666" stroke-width="0.5"/>
<line x1="537.0" y1="703.3" x2="538.3" y2="703.3" stroke="#666" stroke-width="0.5"/>
<line x1="537.0" y1="707.7" x2="538.3" y2="707.7" stroke="#666" stroke-width="0.5"/>
<line x1="537.0" y1="712.1" x2="538.3" y2="712.1" stroke="#666" stroke-width="0.5"/>
<line x1="537.0" y1="716.5" x2="538.3" y2="716.5" stroke="#666" stroke-width="0.5"/>
<line x1="537.0" y1="720.9" x2="538.3" y2="720.9" stroke="#666" stroke-width="0.5"/>
<line x1="537.0" y1="725.3" x2="538.3" y2="725.3" stroke="#666" stroke-width="0.5"/>
<line x1="537.0" y1="729.7" x2="538.3" y2="729.7" stroke="#666" stroke-width="0.5"/>
<line x1="537.0" y1="734.1" x2="538.3" y2="734.1" stroke="#666" stroke-width="0.5"/>
<line x1="537.0" y1="738.5" x2="538.3" y2="738.5" stroke="#666" stroke-width="0.5"/>
<line x1="537.0" y1="742.9" x2="538.3" y2="742.9" stroke="#666" stroke-width="0.5"/>
<line x1="537.0" y1="747.3" x2="538.3" y2="747.3" stroke="#666" stroke-width="0.5"/>
<line x1="537.0" y1="634.1" x2="538.9" y2="634.1" stroke="#555" stroke-width="0.6"/>
<text x="540.2" y="637.8" font-size="10.4" text-anchor="start" fill="#231f20">2.0</text>
<line x1="537.0" y1="667.4" x2="538.9" y2="667.4" stroke="#555" stroke-width="0.6"/>
<text x="540.2" y="671.1" font-size="10.4" text-anchor="start" fill="#231f20">1.5</text>
<line x1="537.0" y1="701.2" x2="538.9" y2="701.2" stroke="#555" stroke-width="0.6"/>
<text x="540.2" y="704.9" font-size="10.4" text-anchor="start" fill="#231f20">1.0</text>
<line x1="537.0" y1="734" x2="538.9" y2="734" stroke="#555" stroke-width="0.6"/>
<text x="540.2" y="737.7" font-size="10.4" text-anchor="start" fill="#231f20">0.5</text>
<text x="547.3" y="688.9" font-size="10.4" fill="#231f20">&#215;10<tspan font-size="6.2" dy="-3.8">9</tspan></text>
<text x="513.7" y="610.7" font-size="10.4" text-anchor="middle" fill="#231f20">Z69</text>
<rect x="599.1" y="614.3" width="34.7" height="137.8" fill="#a0a0a0"/>
<g filter="url(#soft)">
<ellipse cx="616.4" cy="621.5" rx="5.0" ry="3.4" fill="#b0b0b0" stroke="#3c3c3c" stroke-width="1.3" transform="rotate(55 616.4 621.5)"/>
<ellipse cx="616.0" cy="620.5" rx="1.2" ry="1.6" fill="#e4e4e4" transform="rotate(55 616.0 620.5)"/>
<path d="M606,641 L613,636 L621,634.5 L628,637.5 L631,642 L632,650 L630,656 L625,661.5 L620,661.2 L617.5,659.5 L614.5,661 L608,659 L604,654 L602,648 Z" fill="#e8e8e8" stroke="#6a6a6a" stroke-width="1"/>
<ellipse cx="614.0" cy="648.0" rx="7.0" ry="6.0" fill="#f8f8f8"/>
<ellipse cx="622.0" cy="645.0" rx="4.0" ry="5.0" fill="#f2f2f2"/>
<ellipse cx="608.5" cy="651.0" rx="3.0" ry="5.0" fill="#d0d0d0"/>
<path d="M606,685.2 C607,681 611.5,680.8 615,679.8 C618.5,678.8 621,677 623.8,677.6 C625.5,678.8 624.8,681.2 622.5,682.3 C619,684 616,684.8 612.5,685.6 C609.5,686.4 606.8,687.5 606,685.2 Z" fill="#3e3e3e"/>
<path d="M609,684 C612,683 616,682 620,680.5" fill="none" stroke="#dcdcdc" stroke-width="0.8"/>
<path d="M607.5,700 L613,696 L620,696.5 L624.5,702 L625,708 L621,712.5 L614,713 L608,711.5 L606.5,706 Z" fill="#f0f0f0" stroke="#7a7a7a" stroke-width="0.7"/>
<ellipse cx="614.0" cy="706.0" rx="3.5" ry="3.0" fill="#fbfbfb"/>
<ellipse cx="617.2" cy="732.2" rx="7.8" ry="4.8" fill="#f00c00" transform="rotate(-30 617.2 732.2)"/>
<ellipse cx="617.2" cy="732.2" rx="6.8" ry="3.9" fill="#ffa000" transform="rotate(-30 617.2 732.2)"/>
<ellipse cx="617.2" cy="732.2" rx="5.6" ry="3.1" fill="#ffff20" transform="rotate(-30 617.2 732.2)"/>
<ellipse cx="619.7" cy="743.5" rx="7.8" ry="4.8" fill="#f00c00" transform="rotate(-15 619.7 743.5)"/>
<ellipse cx="619.7" cy="743.5" rx="6.8" ry="3.9" fill="#ffa000" transform="rotate(-15 619.7 743.5)"/>
<ellipse cx="619.7" cy="743.5" rx="5.6" ry="3.1" fill="#ffff20" transform="rotate(-15 619.7 743.5)"/>
</g>
<rect x="635.7" y="614.3" width="4.3" height="137.8" fill="url(#hot)"/>
<line x1="640.0" y1="616.3" x2="641.3" y2="616.3" stroke="#666" stroke-width="0.5"/>
<line x1="640.0" y1="620.7" x2="641.3" y2="620.7" stroke="#666" stroke-width="0.5"/>
<line x1="640.0" y1="625.1" x2="641.3" y2="625.1" stroke="#666" stroke-width="0.5"/>
<line x1="640.0" y1="629.5" x2="641.3" y2="629.5" stroke="#666" stroke-width="0.5"/>
<line x1="640.0" y1="633.9" x2="641.3" y2="633.9" stroke="#666" stroke-width="0.5"/>
<line x1="640.0" y1="638.3" x2="641.3" y2="638.3" stroke="#666" stroke-width="0.5"/>
<line x1="640.0" y1="642.7" x2="641.3" y2="642.7" stroke="#666" stroke-width="0.5"/>
<line x1="640.0" y1="647.1" x2="641.3" y2="647.1" stroke="#666" stroke-width="0.5"/>
<line x1="640.0" y1="651.5" x2="641.3" y2="651.5" stroke="#666" stroke-width="0.5"/>
<line x1="640.0" y1="655.9" x2="641.3" y2="655.9" stroke="#666" stroke-width="0.5"/>
<line x1="640.0" y1="660.3" x2="641.3" y2="660.3" stroke="#666" stroke-width="0.5"/>
<line x1="640.0" y1="664.7" x2="641.3" y2="664.7" stroke="#666" stroke-width="0.5"/>
<line x1="640.0" y1="669.1" x2="641.3" y2="669.1" stroke="#666" stroke-width="0.5"/>
<line x1="640.0" y1="673.5" x2="641.3" y2="673.5" stroke="#666" stroke-width="0.5"/>
<line x1="640.0" y1="677.9" x2="641.3" y2="677.9" stroke="#666" stroke-width="0.5"/>
<line x1="640.0" y1="682.3" x2="641.3" y2="682.3" stroke="#666" stroke-width="0.5"/>
<line x1="640.0" y1="686.7" x2="641.3" y2="686.7" stroke="#666" stroke-width="0.5"/>
<line x1="640.0" y1="691.1" x2="641.3" y2="691.1" stroke="#666" stroke-width="0.5"/>
<line x1="640.0" y1="695.5" x2="641.3" y2="695.5" stroke="#666" stroke-width="0.5"/>
<line x1="640.0" y1="699.9" x2="641.3" y2="699.9" stroke="#666" stroke-width="0.5"/>
<line x1="640.0" y1="704.3" x2="641.3" y2="704.3" stroke="#666" stroke-width="0.5"/>
<line x1="640.0" y1="708.7" x2="641.3" y2="708.7" stroke="#666" stroke-width="0.5"/>
<line x1="640.0" y1="713.1" x2="641.3" y2="713.1" stroke="#666" stroke-width="0.5"/>
<line x1="640.0" y1="717.5" x2="641.3" y2="717.5" stroke="#666" stroke-width="0.5"/>
<line x1="640.0" y1="721.9" x2="641.3" y2="721.9" stroke="#666" stroke-width="0.5"/>
<line x1="640.0" y1="726.3" x2="641.3" y2="726.3" stroke="#666" stroke-width="0.5"/>
<line x1="640.0" y1="730.7" x2="641.3" y2="730.7" stroke="#666" stroke-width="0.5"/>
<line x1="640.0" y1="735.1" x2="641.3" y2="735.1" stroke="#666" stroke-width="0.5"/>
<line x1="640.0" y1="739.5" x2="641.3" y2="739.5" stroke="#666" stroke-width="0.5"/>
<line x1="640.0" y1="743.9" x2="641.3" y2="743.9" stroke="#666" stroke-width="0.5"/>
<line x1="640.0" y1="748.3" x2="641.3" y2="748.3" stroke="#666" stroke-width="0.5"/>
<line x1="640.0" y1="638.3" x2="641.9" y2="638.3" stroke="#555" stroke-width="0.6"/>
<text x="643.5" y="642" font-size="10.4" text-anchor="start" fill="#231f20">4.0</text>
<line x1="640.0" y1="677.7" x2="641.9" y2="677.7" stroke="#555" stroke-width="0.6"/>
<text x="643.5" y="681.4" font-size="10.4" text-anchor="start" fill="#231f20">3.0</text>
<line x1="640.0" y1="716.3" x2="641.9" y2="716.3" stroke="#555" stroke-width="0.6"/>
<text x="643.5" y="720" font-size="10.4" text-anchor="start" fill="#231f20">2.0</text>
<text x="653.4" y="699.3" font-size="10.4" fill="#231f20">&#215;10<tspan font-size="6.2" dy="-3.8">9</tspan></text>
<text x="619" y="609.6" font-size="10.4" text-anchor="middle" fill="#231f20">SA protein Ctl</text>
</svg>
</body></html>
